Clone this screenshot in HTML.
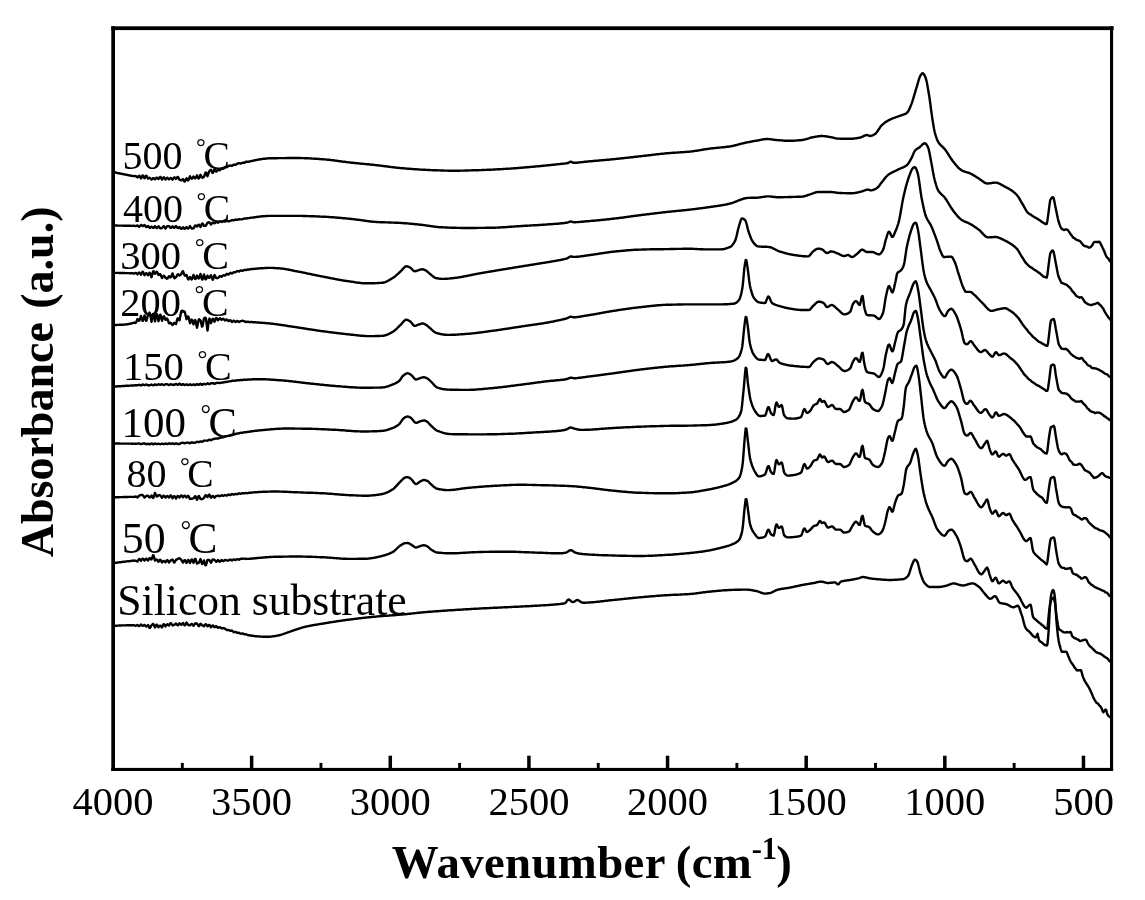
<!DOCTYPE html>
<html lang="en"><head><meta charset="utf-8"><title>FTIR absorbance spectra</title>
<style>
html,body{margin:0;padding:0;background:#fff;}
body{width:1145px;height:900px;overflow:hidden;}
svg{display:block;}
</style></head><body>
<svg width="1145" height="900" viewBox="0 0 1145 900">
<rect x="0" y="0" width="1145" height="900" fill="#fff"/>
<g fill="none" stroke="#000" stroke-width="2.4" stroke-linejoin="round" stroke-linecap="round">
<path d="M113.0 172.0 L113.5 172.1 L114.0 172.2 L114.5 172.3 L115.0 172.4 L115.5 172.5 L116.0 172.6 L116.5 172.8 L117.0 172.9 L117.5 173.0 L118.0 173.1 L118.5 173.2 L119.0 173.3 L119.5 173.4 L120.0 173.5 L120.5 173.6 L121.0 173.7 L121.5 173.8 L122.0 173.9 L122.5 174.0 L123.0 174.1 L123.5 174.2 L124.0 174.3 L124.5 174.4 L125.0 174.5 L125.5 174.6 L126.0 174.7 L126.5 174.8 L127.0 174.9 L127.5 175.0 L128.0 175.1 L128.5 175.2 L129.0 175.3 L129.5 175.4 L130.0 175.5 L130.5 175.6 L131.0 175.7 L131.5 175.8 L132.0 175.9 L132.5 176.0 L133.0 176.0 L133.5 176.1 L134.0 176.1 L134.5 176.1 L135.0 176.0 L135.5 176.0 L136.0 176.2 L136.5 176.6 L137.0 177.0 L137.5 177.5 L138.0 176.9 L138.5 176.3 L139.0 175.8 L139.5 175.9 L140.0 176.8 L140.5 177.6 L141.0 178.4 L141.5 177.4 L142.0 176.4 L142.5 175.4 L143.0 175.4 L143.5 176.4 L144.0 177.4 L144.5 178.3 L145.0 177.5 L145.5 176.6 L146.0 175.8 L146.5 175.8 L147.0 176.8 L147.5 177.7 L148.0 178.6 L148.5 178.3 L149.0 178.1 L149.5 177.8 L150.0 177.9 L150.5 178.5 L151.0 179.0 L151.5 179.6 L152.0 179.1 L152.5 178.7 L153.0 178.2 L153.5 178.2 L154.0 178.6 L154.5 178.9 L155.0 179.3 L155.5 178.8 L156.0 178.2 L156.5 177.7 L157.0 177.7 L157.5 178.2 L158.0 178.7 L158.5 179.1 L159.0 178.4 L159.5 177.6 L160.0 176.9 L160.5 177.0 L161.0 177.8 L161.5 178.7 L162.0 179.6 L162.5 178.8 L163.0 178.1 L163.5 177.4 L164.0 177.3 L164.5 178.1 L165.0 178.8 L165.5 179.5 L166.0 178.9 L166.5 178.4 L167.0 177.8 L167.5 177.8 L168.0 178.4 L168.5 179.0 L169.0 179.5 L169.5 179.0 L170.0 178.5 L170.5 178.0 L171.0 178.1 L171.5 178.6 L172.0 179.2 L172.5 179.7 L173.0 179.0 L173.5 178.2 L174.0 177.5 L174.5 177.3 L175.0 177.8 L175.5 178.3 L176.0 178.9 L176.5 178.2 L177.0 177.5 L177.5 176.9 L178.0 177.0 L178.5 177.9 L179.0 178.8 L179.5 179.7 L180.0 180.0 L180.5 180.2 L181.0 180.4 L181.5 180.3 L182.0 179.9 L182.5 179.6 L183.0 179.1 L183.5 180.0 L184.0 180.8 L184.5 181.5 L185.0 181.4 L185.5 180.4 L186.0 179.3 L186.5 178.3 L187.0 179.0 L187.5 179.7 L188.0 180.4 L188.5 180.0 L189.0 178.7 L189.5 177.5 L190.0 176.3 L190.5 177.1 L191.0 177.8 L191.5 178.6 L192.0 178.7 L192.5 177.9 L193.0 177.2 L193.5 176.4 L194.0 177.1 L194.5 177.8 L195.0 178.4 L195.5 178.3 L196.0 177.3 L196.5 176.3 L197.0 175.3 L197.5 176.4 L198.0 177.4 L198.5 178.5 L199.0 178.4 L199.5 177.2 L200.0 176.0 L200.5 174.8 L201.0 175.7 L201.5 176.6 L202.0 177.5 L202.5 177.8 L203.0 177.5 L203.5 177.1 L204.0 176.8 L204.5 175.4 L205.0 174.0 L205.5 172.6 L206.0 172.5 L206.5 173.8 L207.0 175.0 L207.5 176.2 L208.0 174.7 L208.5 173.3 L209.0 171.8 L209.5 170.9 L210.0 170.5 L210.5 170.1 L211.0 169.8 L211.5 170.8 L212.0 171.9 L212.5 172.9 L213.0 172.8 L213.5 171.6 L214.0 170.3 L214.5 169.1 L215.0 169.9 L215.5 170.7 L216.0 171.5 L216.5 171.6 L217.0 170.9 L217.5 170.2 L218.0 169.5 L218.5 169.8 L219.0 170.1 L219.5 170.4 L220.0 170.2 L220.5 169.7 L221.0 169.1 L221.5 168.5 L222.0 168.7 L222.5 168.8 L223.0 168.9 L223.5 168.7 L224.0 168.2 L224.5 167.7 L225.0 167.2 L225.5 167.2 L226.0 167.2 L226.5 167.2 L227.0 167.1 L227.5 166.7 L228.0 166.3 L228.5 165.9 L229.0 165.8 L229.5 165.7 L230.0 165.5 L230.5 165.5 L231.0 165.6 L231.5 165.7 L232.0 165.8 L232.5 165.5 L233.0 165.1 L233.5 164.7 L234.0 164.6 L234.5 164.7 L235.0 164.8 L235.5 164.9 L236.0 164.5 L236.5 164.2 L237.0 163.9 L237.5 163.6 L238.0 163.4 L238.5 163.3 L239.0 163.1 L239.5 163.2 L240.0 163.4 L240.5 163.5 L241.0 163.5 L241.5 163.2 L242.0 163.0 L242.5 162.7 L243.0 162.8 L243.5 162.8 L244.0 162.8 L244.5 162.7 L245.0 162.4 L245.5 162.1 L246.0 161.7 L246.5 161.8 L247.0 161.8 L247.5 161.9 L248.0 161.9 L248.5 161.7 L249.0 161.6 L249.5 161.5 L250.0 161.4 L250.5 161.3 L251.0 161.2 L251.5 161.0 L252.0 160.9 L252.5 160.9 L253.0 160.8 L253.5 160.6 L254.0 160.5 L254.5 160.3 L255.0 160.2 L255.5 160.2 L256.0 160.1 L256.5 160.0 L257.0 159.9 L257.5 159.8 L258.0 159.7 L258.5 159.6 L259.0 159.5 L259.5 159.4 L260.0 159.4 L260.5 159.3 L261.0 159.2 L261.5 159.1 L262.0 159.0 L262.7 158.9 L263.4 158.8 L264.1 158.7 L264.8 158.7 L265.5 158.6 L266.2 158.5 L266.9 158.5 L267.6 158.4 L268.3 158.4 L269.0 158.3 L269.7 158.3 L270.4 158.3 L271.1 158.3 L271.8 158.3 L272.5 158.2 L273.2 158.2 L273.9 158.2 L274.6 158.2 L275.3 158.2 L276.0 158.2 L276.7 158.2 L277.4 158.2 L278.1 158.1 L278.8 158.1 L279.5 158.1 L280.2 158.1 L280.9 158.1 L281.6 158.1 L282.3 158.1 L283.0 158.1 L283.7 158.1 L284.4 158.1 L285.1 158.1 L285.8 158.1 L286.5 158.0 L287.2 158.0 L287.9 158.0 L288.6 158.0 L289.3 158.0 L290.0 158.0 L290.7 158.0 L291.4 158.0 L292.1 158.0 L292.8 158.0 L293.5 158.0 L294.2 158.0 L294.9 158.0 L295.6 158.0 L296.3 158.0 L297.0 158.0 L297.7 158.0 L298.4 158.0 L299.1 158.0 L299.8 158.0 L300.5 158.0 L301.2 158.1 L301.9 158.1 L302.6 158.1 L303.3 158.1 L304.0 158.1 L304.7 158.2 L305.4 158.2 L306.1 158.2 L306.8 158.3 L307.5 158.3 L308.2 158.3 L308.9 158.4 L309.6 158.4 L310.3 158.4 L311.0 158.5 L311.7 158.5 L312.4 158.6 L313.1 158.6 L313.8 158.6 L314.5 158.7 L315.2 158.7 L315.9 158.8 L316.6 158.8 L317.3 158.9 L318.0 158.9 L318.7 159.0 L319.4 159.0 L320.1 159.1 L320.8 159.1 L321.5 159.2 L322.2 159.2 L322.9 159.3 L323.6 159.3 L324.3 159.4 L325.0 159.4 L325.7 159.5 L326.4 159.6 L327.1 159.6 L327.8 159.7 L328.5 159.8 L329.2 159.8 L329.9 159.9 L330.6 160.0 L331.3 160.1 L332.0 160.2 L332.7 160.2 L333.4 160.3 L334.1 160.4 L334.8 160.5 L335.5 160.6 L336.2 160.7 L336.9 160.8 L337.6 160.9 L338.3 161.0 L339.0 161.1 L339.7 161.2 L340.4 161.3 L341.1 161.4 L341.8 161.5 L342.5 161.6 L343.2 161.7 L343.9 161.8 L344.6 161.8 L345.3 161.9 L346.0 162.0 L346.7 162.1 L347.4 162.2 L348.1 162.3 L348.8 162.4 L349.5 162.4 L350.2 162.5 L350.9 162.6 L351.6 162.7 L352.3 162.7 L353.0 162.8 L353.7 162.9 L354.4 163.0 L355.1 163.0 L355.8 163.1 L356.5 163.2 L357.2 163.2 L357.9 163.3 L358.6 163.4 L359.3 163.5 L360.0 163.5 L360.7 163.6 L361.4 163.7 L362.1 163.7 L362.8 163.8 L363.5 163.9 L364.2 163.9 L364.9 164.0 L365.6 164.1 L366.3 164.1 L367.0 164.2 L367.7 164.3 L368.4 164.3 L369.1 164.4 L369.8 164.5 L370.5 164.5 L371.2 164.6 L371.9 164.7 L372.6 164.8 L373.3 164.8 L374.0 164.9 L374.7 165.0 L375.4 165.1 L376.1 165.1 L376.8 165.2 L377.5 165.3 L378.2 165.4 L378.9 165.5 L379.6 165.5 L380.3 165.6 L381.0 165.7 L381.7 165.8 L382.4 165.9 L383.1 166.0 L383.8 166.1 L384.5 166.2 L385.2 166.2 L385.9 166.3 L386.6 166.4 L387.3 166.5 L388.0 166.6 L388.7 166.7 L389.4 166.8 L390.1 166.9 L390.8 167.0 L391.5 167.1 L392.2 167.1 L392.9 167.2 L393.6 167.3 L394.3 167.4 L395.0 167.5 L395.7 167.6 L396.4 167.6 L397.1 167.7 L397.8 167.8 L398.5 167.9 L399.2 167.9 L399.9 168.0 L400.6 168.1 L401.3 168.1 L402.0 168.2 L402.7 168.2 L403.4 168.3 L404.1 168.4 L404.8 168.4 L405.5 168.5 L406.2 168.5 L406.9 168.6 L407.6 168.7 L408.3 168.7 L409.0 168.8 L409.7 168.8 L410.4 168.9 L411.1 168.9 L411.8 169.0 L412.5 169.0 L413.2 169.1 L413.9 169.1 L414.6 169.2 L415.3 169.2 L416.0 169.3 L416.7 169.3 L417.4 169.4 L418.1 169.4 L418.8 169.5 L419.5 169.5 L420.2 169.6 L420.9 169.6 L421.6 169.6 L422.3 169.7 L423.0 169.7 L423.7 169.8 L424.4 169.8 L425.1 169.8 L425.8 169.9 L426.5 169.9 L427.2 169.9 L427.9 170.0 L428.6 170.0 L429.3 170.0 L430.0 170.0 L430.7 170.1 L431.4 170.1 L432.1 170.1 L432.8 170.2 L433.5 170.2 L434.2 170.2 L434.9 170.2 L435.6 170.3 L436.3 170.3 L437.0 170.3 L437.7 170.4 L438.4 170.4 L439.1 170.4 L439.8 170.4 L440.5 170.5 L441.2 170.5 L441.9 170.5 L442.6 170.5 L443.3 170.5 L444.0 170.6 L444.7 170.6 L445.4 170.6 L446.1 170.6 L446.8 170.6 L447.5 170.6 L448.2 170.7 L448.9 170.7 L449.6 170.7 L450.3 170.7 L451.0 170.7 L451.7 170.7 L452.4 170.7 L453.1 170.7 L453.8 170.7 L454.5 170.7 L455.2 170.7 L455.9 170.7 L456.6 170.7 L457.3 170.7 L458.0 170.7 L458.7 170.7 L459.4 170.7 L460.1 170.6 L460.8 170.6 L461.5 170.6 L462.2 170.6 L462.9 170.6 L463.6 170.6 L464.3 170.6 L465.0 170.5 L465.7 170.5 L466.4 170.5 L467.1 170.5 L467.8 170.5 L468.5 170.5 L469.2 170.4 L469.9 170.4 L470.6 170.4 L471.3 170.4 L472.0 170.3 L472.7 170.3 L473.4 170.3 L474.1 170.3 L474.8 170.3 L475.5 170.2 L476.2 170.2 L476.9 170.2 L477.6 170.2 L478.3 170.2 L479.0 170.1 L479.7 170.1 L480.4 170.1 L481.1 170.1 L481.8 170.0 L482.5 170.0 L483.2 170.0 L483.9 170.0 L484.6 169.9 L485.3 169.9 L486.0 169.9 L486.7 169.9 L487.4 169.8 L488.1 169.8 L488.8 169.8 L489.5 169.7 L490.2 169.7 L490.9 169.7 L491.6 169.6 L492.3 169.6 L493.0 169.6 L493.7 169.5 L494.4 169.5 L495.1 169.5 L495.8 169.4 L496.5 169.4 L497.2 169.3 L497.9 169.3 L498.6 169.3 L499.3 169.2 L500.0 169.2 L500.7 169.2 L501.4 169.1 L502.1 169.1 L502.8 169.0 L503.5 169.0 L504.2 168.9 L504.9 168.9 L505.6 168.9 L506.3 168.8 L507.0 168.8 L507.7 168.7 L508.4 168.7 L509.1 168.6 L509.8 168.6 L510.5 168.6 L511.2 168.5 L511.9 168.5 L512.6 168.4 L513.3 168.4 L514.0 168.3 L514.7 168.3 L515.4 168.2 L516.1 168.2 L516.8 168.1 L517.5 168.0 L518.2 168.0 L518.9 167.9 L519.6 167.9 L520.3 167.8 L521.0 167.8 L521.7 167.7 L522.4 167.6 L523.1 167.6 L523.8 167.5 L524.5 167.5 L525.2 167.4 L525.9 167.3 L526.6 167.3 L527.3 167.2 L528.0 167.2 L528.7 167.1 L529.4 167.0 L530.1 167.0 L530.8 166.9 L531.5 166.9 L532.2 166.8 L532.9 166.7 L533.6 166.7 L534.3 166.6 L535.0 166.5 L535.7 166.5 L536.4 166.4 L537.1 166.4 L537.8 166.3 L538.5 166.2 L539.2 166.2 L539.9 166.1 L540.6 166.0 L541.3 166.0 L542.0 165.9 L542.7 165.8 L543.4 165.8 L544.1 165.7 L544.8 165.6 L545.5 165.5 L546.2 165.5 L546.9 165.4 L547.6 165.3 L548.3 165.3 L549.0 165.2 L549.7 165.1 L550.4 165.0 L551.1 165.0 L551.8 164.9 L552.5 164.8 L553.2 164.8 L553.9 164.7 L554.6 164.6 L555.3 164.5 L556.0 164.4 L556.7 164.4 L557.4 164.3 L558.1 164.2 L558.8 164.1 L559.5 164.1 L560.2 164.0 L560.9 163.9 L561.6 163.8 L562.3 163.8 L563.0 163.7 L563.7 163.6 L564.4 163.6 L565.1 163.5 L565.8 163.4 L566.5 163.3 L567.2 163.2 L567.9 163.0 L568.6 162.8 L569.3 162.3 L570.0 161.9 L570.7 161.7 L571.4 161.9 L572.1 162.2 L572.8 162.6 L573.5 162.8 L574.2 162.8 L574.9 162.8 L575.6 162.7 L576.3 162.7 L577.0 162.7 L577.7 162.6 L578.4 162.5 L579.1 162.5 L579.8 162.4 L580.5 162.3 L581.2 162.2 L581.9 162.1 L582.6 162.1 L583.3 162.0 L584.0 161.9 L584.7 161.8 L585.4 161.7 L586.1 161.7 L586.8 161.6 L587.5 161.5 L588.2 161.5 L588.9 161.4 L589.6 161.3 L590.3 161.3 L591.0 161.2 L591.7 161.2 L592.4 161.1 L593.1 161.0 L593.8 161.0 L594.5 160.9 L595.2 160.8 L595.9 160.8 L596.6 160.7 L597.3 160.7 L598.0 160.6 L598.7 160.5 L599.4 160.5 L600.1 160.4 L600.8 160.4 L601.5 160.3 L602.2 160.2 L602.9 160.2 L603.6 160.1 L604.3 160.0 L605.0 160.0 L605.7 159.9 L606.4 159.9 L607.1 159.8 L607.8 159.7 L608.5 159.7 L609.2 159.6 L609.9 159.5 L610.6 159.5 L611.3 159.4 L612.0 159.3 L612.7 159.3 L613.4 159.2 L614.1 159.1 L614.8 159.1 L615.5 159.0 L616.2 158.9 L616.9 158.8 L617.6 158.8 L618.3 158.7 L619.0 158.6 L619.7 158.5 L620.4 158.5 L621.1 158.4 L621.8 158.3 L622.5 158.2 L623.2 158.2 L623.9 158.1 L624.6 158.0 L625.3 157.9 L626.0 157.9 L626.7 157.8 L627.4 157.7 L628.1 157.6 L628.8 157.6 L629.5 157.5 L630.2 157.4 L630.9 157.3 L631.6 157.2 L632.3 157.2 L633.0 157.1 L633.7 157.0 L634.4 156.9 L635.1 156.8 L635.8 156.8 L636.5 156.7 L637.2 156.6 L637.9 156.5 L638.6 156.5 L639.3 156.4 L640.0 156.3 L640.7 156.2 L641.4 156.1 L642.1 156.1 L642.8 156.0 L643.5 155.9 L644.2 155.8 L644.9 155.7 L645.6 155.7 L646.3 155.6 L647.0 155.5 L647.7 155.4 L648.4 155.3 L649.1 155.2 L649.8 155.2 L650.5 155.1 L651.2 155.0 L651.9 154.9 L652.6 154.8 L653.3 154.7 L654.0 154.6 L654.7 154.6 L655.4 154.5 L656.1 154.4 L656.8 154.3 L657.5 154.2 L658.2 154.2 L658.9 154.1 L659.6 154.0 L660.3 153.9 L661.0 153.9 L661.7 153.8 L662.4 153.7 L663.1 153.6 L663.8 153.6 L664.5 153.5 L665.2 153.4 L665.9 153.4 L666.6 153.3 L667.3 153.2 L668.0 153.2 L668.7 153.1 L669.4 153.1 L670.1 153.0 L670.8 153.0 L671.5 152.9 L672.2 152.9 L672.9 152.8 L673.6 152.8 L674.3 152.7 L675.0 152.7 L675.7 152.6 L676.4 152.6 L677.1 152.6 L677.8 152.5 L678.5 152.5 L679.2 152.4 L679.9 152.4 L680.6 152.3 L681.3 152.3 L682.0 152.2 L682.7 152.2 L683.4 152.1 L684.1 152.1 L684.8 152.0 L685.5 152.0 L686.2 151.9 L686.9 151.9 L687.6 151.8 L688.3 151.8 L689.0 151.7 L689.7 151.6 L690.4 151.6 L691.1 151.5 L691.8 151.4 L692.5 151.3 L693.2 151.2 L693.9 151.1 L694.6 151.0 L695.3 150.9 L696.0 150.8 L696.7 150.7 L697.4 150.6 L698.1 150.5 L698.8 150.4 L699.5 150.3 L700.2 150.1 L700.9 150.0 L701.6 149.9 L702.3 149.8 L703.0 149.7 L703.7 149.5 L704.4 149.4 L705.1 149.3 L705.8 149.2 L706.5 149.1 L707.2 149.0 L707.9 148.9 L708.6 148.8 L709.3 148.7 L710.0 148.6 L710.7 148.5 L711.4 148.4 L712.1 148.3 L712.8 148.3 L713.5 148.2 L714.2 148.1 L714.9 148.1 L715.6 148.0 L716.3 147.9 L717.0 147.8 L717.7 147.8 L718.4 147.7 L719.1 147.6 L719.8 147.6 L720.5 147.5 L721.2 147.4 L721.9 147.4 L722.6 147.3 L723.3 147.2 L724.0 147.2 L724.7 147.1 L725.4 147.0 L726.1 146.9 L726.8 146.8 L727.5 146.8 L728.2 146.7 L728.9 146.6 L729.6 146.5 L730.3 146.4 L731.0 146.2 L731.7 146.1 L732.4 146.0 L733.1 145.8 L733.8 145.7 L734.5 145.5 L735.2 145.3 L735.9 145.2 L736.6 145.0 L737.3 144.8 L738.0 144.6 L738.7 144.4 L739.4 144.2 L740.1 144.0 L740.8 143.9 L741.5 143.7 L742.2 143.5 L742.9 143.3 L743.6 143.1 L744.3 143.0 L745.0 142.8 L745.7 142.7 L746.4 142.5 L747.1 142.4 L747.8 142.2 L748.5 142.1 L749.2 142.0 L749.9 141.8 L750.6 141.7 L751.3 141.6 L752.0 141.4 L752.7 141.3 L753.4 141.2 L754.1 141.1 L754.8 140.9 L755.5 140.8 L756.2 140.7 L756.9 140.6 L757.6 140.5 L758.3 140.3 L759.0 140.2 L759.7 140.1 L760.4 139.9 L761.1 139.8 L761.8 139.6 L762.5 139.5 L763.2 139.4 L763.9 139.3 L764.6 139.2 L765.3 139.1 L766.0 139.0 L766.7 139.0 L767.4 139.0 L768.1 139.0 L768.8 139.1 L769.5 139.1 L770.2 139.2 L770.9 139.3 L771.6 139.4 L772.3 139.5 L773.0 139.6 L773.7 139.7 L774.4 139.8 L775.1 139.9 L775.8 140.0 L776.5 140.0 L777.2 140.1 L777.9 140.1 L778.6 140.2 L779.3 140.3 L780.0 140.3 L780.7 140.4 L781.4 140.4 L782.1 140.5 L782.8 140.5 L783.5 140.6 L784.2 140.6 L784.9 140.7 L785.6 140.7 L786.3 140.7 L787.0 140.7 L787.7 140.8 L788.4 140.8 L789.1 140.8 L789.8 140.8 L790.5 140.8 L791.2 140.8 L791.9 140.8 L792.6 140.8 L793.3 140.7 L794.0 140.7 L794.7 140.6 L795.4 140.6 L796.1 140.6 L796.8 140.5 L797.5 140.4 L798.2 140.4 L798.9 140.3 L799.6 140.2 L800.3 140.2 L801.0 140.1 L801.7 140.0 L802.4 140.0 L803.1 139.8 L803.8 139.7 L804.5 139.6 L805.2 139.4 L805.9 139.2 L806.6 139.0 L807.3 138.8 L808.0 138.6 L808.7 138.4 L809.4 138.2 L810.1 137.9 L810.8 137.7 L811.5 137.5 L812.2 137.4 L812.9 137.2 L813.6 137.1 L814.3 137.0 L815.0 136.8 L815.7 136.7 L816.4 136.6 L817.1 136.5 L817.8 136.4 L818.5 136.3 L819.2 136.2 L819.9 136.1 L820.6 136.0 L821.3 136.0 L822.0 136.0 L822.7 136.0 L823.4 136.1 L824.1 136.1 L824.8 136.2 L825.5 136.3 L826.2 136.4 L826.9 136.5 L827.6 136.6 L828.3 136.7 L829.0 136.8 L829.7 137.0 L830.4 137.1 L831.1 137.2 L831.8 137.4 L832.5 137.5 L833.2 137.7 L833.9 137.9 L834.6 138.1 L835.3 138.2 L836.0 138.4 L836.7 138.5 L837.4 138.6 L838.1 138.6 L838.8 138.6 L839.5 138.6 L840.2 138.7 L840.9 138.7 L841.6 138.7 L842.3 138.7 L843.0 138.7 L843.7 138.7 L844.4 138.8 L845.1 138.8 L845.8 138.8 L846.5 138.8 L847.2 138.8 L847.9 138.8 L848.6 138.8 L849.3 138.8 L850.0 138.8 L850.7 138.8 L851.4 138.8 L852.1 138.7 L852.8 138.7 L853.5 138.6 L854.2 138.5 L854.9 138.4 L855.6 138.4 L856.3 138.2 L857.0 138.1 L857.7 138.0 L858.4 137.9 L859.1 137.8 L859.8 137.6 L860.5 137.5 L861.2 137.2 L861.9 136.9 L862.6 136.6 L863.3 136.2 L864.0 135.9 L864.7 135.6 L865.4 135.3 L866.1 135.1 L866.8 135.0 L867.5 135.1 L868.2 135.4 L868.9 135.7 L869.6 136.0 L870.3 136.0 L871.0 135.9 L871.7 135.7 L872.4 135.4 L873.1 135.1 L873.8 134.7 L874.5 134.3 L875.2 133.9 L875.9 133.3 L876.6 132.5 L877.3 131.6 L878.0 130.5 L878.7 129.4 L879.4 128.4 L880.1 127.3 L880.8 126.3 L881.5 125.5 L882.2 124.8 L882.9 124.2 L883.6 123.7 L884.3 123.1 L885.0 122.6 L885.7 122.1 L886.4 121.6 L887.1 121.2 L887.8 120.8 L888.5 120.4 L889.2 120.0 L889.9 119.6 L890.6 119.3 L891.3 119.0 L892.0 118.7 L892.7 118.4 L893.4 118.1 L894.1 117.9 L894.8 117.6 L895.5 117.3 L896.2 117.1 L896.9 116.9 L897.6 116.6 L898.3 116.4 L899.0 116.1 L899.7 115.9 L900.4 115.6 L901.1 115.3 L901.8 115.1 L902.5 114.8 L903.2 114.6 L903.9 114.4 L904.6 114.1 L905.3 113.8 L906.0 113.5 L906.7 113.0 L907.4 112.4 L908.1 111.5 L908.8 110.2 L909.5 108.7 L910.2 107.0 L910.9 105.4 L911.6 103.6 L912.3 101.6 L913.0 99.4 L913.7 97.1 L914.4 94.7 L915.1 92.3 L915.8 89.9 L916.5 87.7 L917.2 85.3 L917.9 82.9 L918.6 80.4 L919.3 78.2 L920.0 76.4 L920.7 75.2 L921.4 74.2 L922.1 73.4 L922.8 73.2 L923.5 73.7 L924.2 74.7 L924.9 76.1 L925.6 77.7 L926.3 80.1 L927.0 83.3 L927.7 87.1 L928.4 91.2 L929.1 95.4 L929.8 100.0 L930.5 105.2 L931.2 110.5 L931.9 115.6 L932.6 120.2 L933.3 124.6 L934.0 128.7 L934.7 132.0 L935.4 134.6 L936.1 136.9 L936.8 138.9 L937.5 140.6 L938.2 141.9 L938.9 143.0 L939.6 143.9 L940.3 144.7 L941.0 145.4 L941.7 146.1 L942.4 146.7 L943.1 147.4 L943.8 148.1 L944.5 148.8 L945.2 149.7 L945.9 150.6 L946.6 151.7 L947.3 152.7 L948.0 153.8 L948.7 154.9 L949.4 156.1 L950.1 157.2 L950.8 158.3 L951.5 159.3 L952.2 160.3 L952.9 161.3 L953.6 162.1 L954.3 163.0 L955.0 163.8 L955.7 164.7 L956.4 165.5 L957.1 166.3 L957.8 167.1 L958.5 167.8 L959.2 168.5 L959.9 169.1 L960.6 169.6 L961.3 170.1 L962.0 170.5 L962.7 170.8 L963.4 171.1 L964.1 171.4 L964.8 171.7 L965.5 171.9 L966.2 172.1 L966.9 172.3 L967.6 172.5 L968.3 172.7 L969.0 173.0 L969.7 173.2 L970.4 173.5 L971.1 173.9 L971.8 174.2 L972.5 174.6 L973.2 175.0 L973.9 175.4 L974.6 175.9 L975.3 176.3 L976.0 176.7 L976.7 177.2 L977.4 177.6 L978.1 178.0 L978.8 178.5 L979.5 178.9 L980.2 179.4 L980.9 180.0 L981.6 180.5 L982.3 181.1 L983.0 181.6 L983.7 182.1 L984.4 182.6 L985.1 183.0 L985.8 183.2 L986.5 183.4 L987.2 183.5 L987.9 183.5 L988.6 183.4 L989.3 183.4 L990.0 183.3 L990.7 183.2 L991.4 183.1 L992.1 182.9 L992.8 182.8 L993.5 182.7 L994.2 182.7 L994.9 182.6 L995.6 182.6 L996.3 182.6 L997.0 182.8 L997.7 183.0 L998.4 183.2 L999.1 183.5 L999.8 183.9 L1000.5 184.2 L1001.2 184.6 L1001.9 185.0 L1002.6 185.4 L1003.3 185.8 L1004.0 186.2 L1004.7 186.6 L1005.4 186.9 L1006.1 187.3 L1006.8 187.6 L1007.5 188.0 L1008.2 188.4 L1008.9 188.8 L1009.6 189.2 L1010.3 189.6 L1011.0 190.0 L1011.7 190.5 L1012.4 191.0 L1013.1 191.6 L1013.8 192.2 L1014.5 192.6 L1015.2 193.3 L1015.9 194.0 L1016.6 194.7 L1017.3 195.5 L1018.0 196.4 L1018.7 197.4 L1019.4 198.6 L1020.1 199.9 L1020.8 201.2 L1021.5 202.4 L1022.2 203.5 L1022.9 204.6 L1023.6 205.9 L1024.3 207.2 L1025.0 208.4 L1025.7 209.7 L1026.4 210.9 L1027.1 211.9 L1027.8 212.7 L1028.5 213.3 L1029.2 213.8 L1029.9 214.2 L1030.6 214.6 L1031.3 215.1 L1032.0 215.6 L1032.7 216.0 L1033.4 216.5 L1034.1 217.0 L1034.8 217.3 L1035.5 217.7 L1036.2 218.1 L1036.9 218.5 L1037.6 218.9 L1038.3 219.4 L1039.0 219.8 L1039.7 220.2 L1040.4 220.8 L1041.1 221.3 L1041.8 221.9 L1042.5 222.3 L1043.2 222.7 L1043.9 223.1 L1044.6 223.5 L1045.3 223.9 L1046.0 224.2 L1046.7 223.9 L1047.4 220.7 L1048.1 215.6 L1048.8 210.4 L1049.5 204.9 L1050.2 200.2 L1050.9 199.0 L1051.6 198.1 L1052.3 197.3 L1053.0 197.1 L1053.7 198.3 L1054.4 201.5 L1055.1 205.3 L1055.8 208.6 L1056.5 211.9 L1057.2 215.4 L1057.9 218.8 L1058.6 221.5 L1059.3 223.6 L1060.0 225.6 L1060.7 227.3 L1061.4 228.4 L1062.1 229.1 L1062.8 229.4 L1063.5 229.8 L1064.2 230.0 L1064.9 229.7 L1065.6 229.5 L1066.3 229.4 L1067.0 229.6 L1067.7 230.0 L1068.4 230.8 L1069.1 231.9 L1069.8 232.9 L1070.5 234.0 L1071.2 234.9 L1071.9 235.7 L1072.6 236.8 L1073.3 237.7 L1074.0 238.0 L1074.7 238.4 L1075.4 239.1 L1076.1 239.6 L1076.8 239.9 L1077.5 240.2 L1078.2 240.5 L1078.9 240.7 L1079.6 240.8 L1080.3 241.4 L1081.0 242.4 L1081.7 243.2 L1082.4 244.0 L1083.1 244.9 L1083.8 245.6 L1084.5 246.0 L1085.2 246.2 L1085.9 246.3 L1086.6 246.5 L1087.3 246.7 L1088.0 247.1 L1088.7 247.6 L1089.4 247.6 L1090.1 247.3 L1090.8 246.9 L1091.5 246.1 L1092.2 245.3 L1092.9 244.2 L1093.6 242.8 L1094.3 242.0 L1095.0 241.9 L1095.7 241.9 L1096.4 242.0 L1097.1 242.0 L1097.8 242.0 L1098.5 241.8 L1099.2 241.7 L1099.9 242.4 L1100.6 243.7 L1101.3 245.1 L1102.0 246.6 L1102.7 248.1 L1103.4 249.4 L1104.1 250.9 L1104.8 252.7 L1105.5 254.5 L1106.2 256.0 L1106.9 257.3 L1107.6 257.9 L1108.3 258.4 L1109.0 259.8 L1109.7 260.9 L1110.4 261.4 L1111.0 261.7"/>
<path d="M113.0 225.5 L113.5 225.5 L114.0 225.5 L114.5 225.5 L115.0 225.5 L115.5 225.5 L116.0 225.5 L116.5 225.5 L117.0 225.5 L117.5 225.6 L118.0 225.6 L118.5 225.6 L119.0 225.6 L119.5 225.6 L120.0 225.6 L120.5 225.6 L121.0 225.6 L121.5 225.6 L122.0 225.6 L122.5 225.6 L123.0 225.6 L123.5 225.7 L124.0 225.7 L124.5 225.7 L125.0 225.7 L125.5 225.7 L126.0 225.7 L126.5 225.7 L127.0 225.7 L127.5 225.7 L128.0 225.8 L128.5 225.8 L129.0 225.8 L129.5 225.8 L130.0 225.8 L130.5 225.8 L131.0 225.8 L131.5 225.9 L132.0 225.9 L132.5 225.9 L133.0 225.8 L133.5 225.8 L134.0 225.8 L134.5 225.9 L135.0 226.0 L135.5 226.1 L136.0 226.0 L136.5 225.8 L137.0 225.6 L137.5 225.4 L138.0 225.9 L138.5 226.3 L139.0 226.7 L139.5 226.6 L140.0 226.0 L140.5 225.5 L141.0 224.9 L141.5 225.2 L142.0 225.6 L142.5 225.9 L143.0 226.0 L143.5 225.7 L144.0 225.4 L144.5 225.1 L145.0 225.7 L145.5 226.2 L146.0 226.8 L146.5 227.0 L147.0 226.6 L147.5 226.3 L148.0 225.9 L148.5 226.5 L149.0 227.1 L149.5 227.7 L150.0 227.8 L150.5 227.4 L151.0 227.0 L151.5 226.6 L152.0 227.0 L152.5 227.4 L153.0 227.9 L153.5 227.8 L154.0 227.3 L154.5 226.7 L155.0 226.2 L155.5 226.8 L156.0 227.4 L156.5 228.0 L157.0 228.1 L157.5 227.4 L158.0 226.8 L158.5 226.2 L159.0 226.8 L159.5 227.5 L160.0 228.1 L160.5 228.3 L161.0 228.2 L161.5 228.1 L162.0 228.0 L162.5 227.4 L163.0 226.9 L163.5 226.3 L164.0 226.3 L164.5 227.0 L165.0 227.8 L165.5 228.5 L166.0 227.8 L166.5 227.1 L167.0 226.4 L167.5 226.1 L168.0 226.1 L168.5 226.1 L169.0 226.1 L169.5 226.7 L170.0 227.3 L170.5 227.8 L171.0 227.9 L171.5 227.3 L172.0 226.8 L172.5 226.3 L173.0 226.8 L173.5 227.3 L174.0 227.8 L174.5 227.7 L175.0 227.2 L175.5 226.6 L176.0 226.1 L176.5 226.7 L177.0 227.3 L177.5 227.9 L178.0 228.1 L178.5 227.7 L179.0 227.3 L179.5 226.9 L180.0 227.6 L180.5 228.2 L181.0 228.9 L181.5 228.9 L182.0 228.4 L182.5 227.8 L183.0 227.2 L183.5 227.7 L184.0 228.3 L184.5 228.8 L185.0 228.8 L185.5 228.2 L186.0 227.6 L186.5 227.1 L187.0 227.6 L187.5 228.1 L188.0 228.6 L188.5 228.4 L189.0 227.6 L189.5 226.9 L190.0 226.1 L190.5 226.9 L191.0 227.6 L191.5 228.3 L192.0 228.6 L192.5 228.5 L193.0 228.4 L193.5 228.3 L194.0 227.4 L194.5 226.5 L195.0 225.6 L195.5 225.4 L196.0 225.8 L196.5 226.2 L197.0 226.6 L197.5 225.9 L198.0 225.3 L198.5 224.7 L199.0 224.7 L199.5 225.5 L200.0 226.3 L200.5 227.0 L201.0 225.9 L201.5 224.8 L202.0 223.6 L202.5 223.5 L203.0 224.2 L203.5 225.0 L204.0 225.8 L204.5 225.8 L205.0 225.9 L205.5 225.9 L206.0 225.5 L206.5 224.5 L207.0 223.6 L207.5 222.7 L208.0 222.6 L208.5 222.4 L209.0 222.3 L209.5 222.6 L210.0 223.2 L210.5 223.9 L211.0 224.5 L211.5 223.9 L212.0 223.3 L212.5 222.7 L213.0 222.5 L213.5 222.8 L214.0 223.1 L214.5 223.3 L215.0 222.9 L215.5 222.4 L216.0 222.0 L216.5 221.9 L217.0 222.1 L217.5 222.4 L218.0 222.7 L218.5 222.3 L219.0 221.9 L219.5 221.5 L220.0 221.4 L220.5 221.6 L221.0 221.8 L221.5 222.0 L222.0 221.8 L222.5 221.6 L223.0 221.3 L223.5 221.3 L224.0 221.4 L224.5 221.5 L225.0 221.6 L225.5 221.4 L226.0 221.1 L226.5 220.9 L227.0 220.8 L227.5 221.0 L228.0 221.1 L228.5 221.3 L229.0 221.2 L229.5 221.1 L230.0 221.0 L230.5 220.8 L231.0 220.5 L231.5 220.3 L232.0 220.0 L232.5 220.1 L233.0 220.2 L233.5 220.3 L234.0 220.3 L234.5 220.0 L235.0 219.8 L235.5 219.5 L236.0 219.6 L236.5 219.8 L237.0 219.9 L237.5 219.9 L238.0 219.7 L238.5 219.4 L239.0 219.2 L239.5 219.3 L240.0 219.4 L240.5 219.4 L241.0 219.4 L241.5 219.4 L242.0 219.3 L242.5 219.2 L243.0 219.0 L243.5 218.8 L244.0 218.6 L244.5 218.5 L245.0 218.5 L245.5 218.6 L246.0 218.6 L246.5 218.4 L247.0 218.3 L247.5 218.2 L248.0 218.1 L248.5 218.1 L249.0 218.1 L249.5 218.0 L250.0 217.9 L250.5 217.8 L251.0 217.7 L251.5 217.6 L252.0 217.6 L252.5 217.6 L253.0 217.6 L253.5 217.5 L254.0 217.4 L254.5 217.3 L255.0 217.2 L255.5 217.1 L256.0 217.1 L256.5 217.0 L257.0 217.0 L257.5 216.9 L258.0 216.8 L258.5 216.7 L259.0 216.7 L259.5 216.6 L260.0 216.6 L260.5 216.5 L261.0 216.4 L261.5 216.4 L262.0 216.3 L262.7 216.3 L263.4 216.2 L264.1 216.2 L264.8 216.1 L265.5 216.1 L266.2 216.0 L266.9 216.0 L267.6 215.9 L268.3 215.9 L269.0 215.9 L269.7 215.9 L270.4 215.9 L271.1 215.9 L271.8 215.9 L272.5 215.9 L273.2 215.9 L273.9 215.9 L274.6 215.9 L275.3 215.9 L276.0 215.9 L276.7 215.9 L277.4 215.9 L278.1 215.9 L278.8 215.9 L279.5 215.9 L280.2 215.9 L280.9 215.9 L281.6 215.9 L282.3 215.9 L283.0 215.9 L283.7 215.9 L284.4 215.9 L285.1 215.9 L285.8 215.9 L286.5 215.9 L287.2 215.9 L287.9 215.9 L288.6 215.9 L289.3 215.9 L290.0 215.9 L290.7 215.9 L291.4 215.9 L292.1 215.9 L292.8 215.9 L293.5 215.9 L294.2 215.9 L294.9 215.9 L295.6 215.9 L296.3 215.9 L297.0 215.9 L297.7 215.9 L298.4 215.9 L299.1 215.9 L299.8 215.9 L300.5 215.9 L301.2 215.9 L301.9 215.9 L302.6 216.0 L303.3 216.0 L304.0 216.0 L304.7 216.0 L305.4 216.0 L306.1 216.0 L306.8 216.1 L307.5 216.1 L308.2 216.1 L308.9 216.1 L309.6 216.1 L310.3 216.2 L311.0 216.2 L311.7 216.2 L312.4 216.2 L313.1 216.3 L313.8 216.3 L314.5 216.3 L315.2 216.4 L315.9 216.4 L316.6 216.4 L317.3 216.4 L318.0 216.5 L318.7 216.5 L319.4 216.5 L320.1 216.6 L320.8 216.6 L321.5 216.6 L322.2 216.7 L322.9 216.7 L323.6 216.7 L324.3 216.7 L325.0 216.8 L325.7 216.8 L326.4 216.9 L327.1 216.9 L327.8 216.9 L328.5 217.0 L329.2 217.0 L329.9 217.1 L330.6 217.1 L331.3 217.2 L332.0 217.2 L332.7 217.3 L333.4 217.3 L334.1 217.4 L334.8 217.4 L335.5 217.5 L336.2 217.5 L336.9 217.6 L337.6 217.7 L338.3 217.7 L339.0 217.8 L339.7 217.8 L340.4 217.9 L341.1 218.0 L341.8 218.0 L342.5 218.1 L343.2 218.2 L343.9 218.2 L344.6 218.3 L345.3 218.4 L346.0 218.4 L346.7 218.5 L347.4 218.6 L348.1 218.6 L348.8 218.7 L349.5 218.8 L350.2 218.8 L350.9 218.9 L351.6 219.0 L352.3 219.0 L353.0 219.1 L353.7 219.2 L354.4 219.3 L355.1 219.4 L355.8 219.5 L356.5 219.6 L357.2 219.7 L357.9 219.8 L358.6 219.8 L359.3 219.9 L360.0 220.0 L360.7 220.1 L361.4 220.2 L362.1 220.3 L362.8 220.4 L363.5 220.5 L364.2 220.6 L364.9 220.7 L365.6 220.8 L366.3 220.9 L367.0 221.0 L367.7 221.1 L368.4 221.2 L369.1 221.3 L369.8 221.4 L370.5 221.5 L371.2 221.5 L371.9 221.6 L372.6 221.7 L373.3 221.7 L374.0 221.8 L374.7 221.9 L375.4 221.9 L376.1 222.0 L376.8 222.0 L377.5 222.0 L378.2 222.1 L378.9 222.1 L379.6 222.1 L380.3 222.2 L381.0 222.2 L381.7 222.2 L382.4 222.3 L383.1 222.3 L383.8 222.3 L384.5 222.3 L385.2 222.4 L385.9 222.4 L386.6 222.4 L387.3 222.4 L388.0 222.4 L388.7 222.5 L389.4 222.5 L390.1 222.5 L390.8 222.5 L391.5 222.6 L392.2 222.6 L392.9 222.6 L393.6 222.6 L394.3 222.6 L395.0 222.7 L395.7 222.7 L396.4 222.7 L397.1 222.8 L397.8 222.8 L398.5 222.8 L399.2 222.9 L399.9 222.9 L400.6 222.9 L401.3 223.0 L402.0 223.0 L402.7 223.1 L403.4 223.1 L404.1 223.2 L404.8 223.2 L405.5 223.3 L406.2 223.3 L406.9 223.4 L407.6 223.4 L408.3 223.5 L409.0 223.6 L409.7 223.6 L410.4 223.7 L411.1 223.8 L411.8 223.8 L412.5 223.9 L413.2 224.0 L413.9 224.0 L414.6 224.1 L415.3 224.2 L416.0 224.2 L416.7 224.3 L417.4 224.4 L418.1 224.5 L418.8 224.5 L419.5 224.6 L420.2 224.7 L420.9 224.8 L421.6 224.8 L422.3 224.9 L423.0 225.0 L423.7 225.1 L424.4 225.2 L425.1 225.3 L425.8 225.4 L426.5 225.5 L427.2 225.6 L427.9 225.7 L428.6 225.8 L429.3 225.9 L430.0 226.0 L430.7 226.1 L431.4 226.2 L432.1 226.3 L432.8 226.4 L433.5 226.5 L434.2 226.6 L434.9 226.7 L435.6 226.8 L436.3 226.9 L437.0 227.0 L437.7 227.0 L438.4 227.1 L439.1 227.1 L439.8 227.2 L440.5 227.2 L441.2 227.3 L441.9 227.3 L442.6 227.3 L443.3 227.4 L444.0 227.4 L444.7 227.4 L445.4 227.5 L446.1 227.5 L446.8 227.5 L447.5 227.5 L448.2 227.6 L448.9 227.6 L449.6 227.6 L450.3 227.7 L451.0 227.7 L451.7 227.7 L452.4 227.7 L453.1 227.8 L453.8 227.8 L454.5 227.8 L455.2 227.8 L455.9 227.8 L456.6 227.9 L457.3 227.9 L458.0 227.9 L458.7 227.9 L459.4 227.9 L460.1 227.9 L460.8 228.0 L461.5 228.0 L462.2 228.0 L462.9 228.0 L463.6 228.0 L464.3 228.0 L465.0 228.0 L465.7 228.0 L466.4 228.0 L467.1 228.0 L467.8 228.0 L468.5 228.0 L469.2 228.0 L469.9 228.0 L470.6 228.0 L471.3 228.0 L472.0 228.0 L472.7 228.0 L473.4 228.0 L474.1 228.0 L474.8 228.0 L475.5 228.0 L476.2 228.0 L476.9 227.9 L477.6 227.9 L478.3 227.9 L479.0 227.9 L479.7 227.9 L480.4 227.9 L481.1 227.9 L481.8 227.9 L482.5 227.9 L483.2 227.9 L483.9 227.9 L484.6 227.9 L485.3 227.8 L486.0 227.8 L486.7 227.8 L487.4 227.8 L488.1 227.8 L488.8 227.8 L489.5 227.8 L490.2 227.8 L490.9 227.7 L491.6 227.7 L492.3 227.7 L493.0 227.7 L493.7 227.7 L494.4 227.7 L495.1 227.7 L495.8 227.6 L496.5 227.6 L497.2 227.6 L497.9 227.6 L498.6 227.5 L499.3 227.5 L500.0 227.5 L500.7 227.4 L501.4 227.4 L502.1 227.3 L502.8 227.3 L503.5 227.2 L504.2 227.2 L504.9 227.2 L505.6 227.1 L506.3 227.1 L507.0 227.0 L507.7 227.0 L508.4 226.9 L509.1 226.9 L509.8 226.8 L510.5 226.8 L511.2 226.7 L511.9 226.7 L512.6 226.6 L513.3 226.6 L514.0 226.5 L514.7 226.5 L515.4 226.4 L516.1 226.4 L516.8 226.3 L517.5 226.3 L518.2 226.2 L518.9 226.2 L519.6 226.1 L520.3 226.1 L521.0 226.0 L521.7 226.0 L522.4 226.0 L523.1 225.9 L523.8 225.9 L524.5 225.8 L525.2 225.8 L525.9 225.8 L526.6 225.7 L527.3 225.7 L528.0 225.6 L528.7 225.6 L529.4 225.6 L530.1 225.5 L530.8 225.5 L531.5 225.4 L532.2 225.4 L532.9 225.4 L533.6 225.3 L534.3 225.3 L535.0 225.3 L535.7 225.2 L536.4 225.2 L537.1 225.1 L537.8 225.1 L538.5 225.0 L539.2 225.0 L539.9 225.0 L540.6 224.9 L541.3 224.9 L542.0 224.8 L542.7 224.8 L543.4 224.7 L544.1 224.7 L544.8 224.6 L545.5 224.6 L546.2 224.5 L546.9 224.5 L547.6 224.4 L548.3 224.4 L549.0 224.3 L549.7 224.3 L550.4 224.2 L551.1 224.2 L551.8 224.1 L552.5 224.1 L553.2 224.0 L553.9 224.0 L554.6 223.9 L555.3 223.9 L556.0 223.8 L556.7 223.8 L557.4 223.7 L558.1 223.7 L558.8 223.6 L559.5 223.5 L560.2 223.5 L560.9 223.4 L561.6 223.3 L562.3 223.2 L563.0 223.2 L563.7 223.1 L564.4 223.0 L565.1 222.9 L565.8 222.8 L566.5 222.7 L567.2 222.6 L567.9 222.4 L568.6 222.1 L569.3 221.8 L570.0 221.6 L570.7 221.5 L571.4 221.6 L572.1 221.8 L572.8 222.0 L573.5 222.2 L574.2 222.2 L574.9 222.2 L575.6 222.2 L576.3 222.1 L577.0 222.1 L577.7 222.1 L578.4 222.0 L579.1 222.0 L579.8 221.9 L580.5 221.9 L581.2 221.8 L581.9 221.7 L582.6 221.7 L583.3 221.6 L584.0 221.5 L584.7 221.5 L585.4 221.4 L586.1 221.3 L586.8 221.3 L587.5 221.2 L588.2 221.2 L588.9 221.1 L589.6 221.1 L590.3 221.0 L591.0 220.9 L591.7 220.9 L592.4 220.8 L593.1 220.8 L593.8 220.7 L594.5 220.6 L595.2 220.6 L595.9 220.5 L596.6 220.4 L597.3 220.4 L598.0 220.3 L598.7 220.2 L599.4 220.2 L600.1 220.1 L600.8 220.0 L601.5 220.0 L602.2 219.9 L602.9 219.8 L603.6 219.7 L604.3 219.7 L605.0 219.6 L605.7 219.5 L606.4 219.5 L607.1 219.4 L607.8 219.3 L608.5 219.2 L609.2 219.2 L609.9 219.1 L610.6 219.0 L611.3 218.9 L612.0 218.8 L612.7 218.8 L613.4 218.7 L614.1 218.6 L614.8 218.5 L615.5 218.4 L616.2 218.4 L616.9 218.3 L617.6 218.2 L618.3 218.1 L619.0 218.0 L619.7 217.9 L620.4 217.8 L621.1 217.7 L621.8 217.7 L622.5 217.6 L623.2 217.5 L623.9 217.4 L624.6 217.3 L625.3 217.2 L626.0 217.1 L626.7 217.0 L627.4 216.9 L628.1 216.8 L628.8 216.7 L629.5 216.6 L630.2 216.5 L630.9 216.4 L631.6 216.3 L632.3 216.2 L633.0 216.1 L633.7 216.0 L634.4 215.9 L635.1 215.8 L635.8 215.7 L636.5 215.7 L637.2 215.6 L637.9 215.5 L638.6 215.4 L639.3 215.3 L640.0 215.2 L640.7 215.1 L641.4 215.0 L642.1 214.9 L642.8 214.8 L643.5 214.8 L644.2 214.7 L644.9 214.6 L645.6 214.5 L646.3 214.4 L647.0 214.3 L647.7 214.2 L648.4 214.2 L649.1 214.1 L649.8 214.0 L650.5 213.9 L651.2 213.8 L651.9 213.7 L652.6 213.6 L653.3 213.6 L654.0 213.5 L654.7 213.4 L655.4 213.3 L656.1 213.2 L656.8 213.1 L657.5 213.1 L658.2 213.0 L658.9 212.9 L659.6 212.8 L660.3 212.7 L661.0 212.6 L661.7 212.6 L662.4 212.5 L663.1 212.4 L663.8 212.3 L664.5 212.2 L665.2 212.2 L665.9 212.1 L666.6 212.0 L667.3 211.9 L668.0 211.9 L668.7 211.8 L669.4 211.7 L670.1 211.6 L670.8 211.6 L671.5 211.5 L672.2 211.4 L672.9 211.4 L673.6 211.3 L674.3 211.2 L675.0 211.1 L675.7 211.1 L676.4 211.0 L677.1 210.9 L677.8 210.9 L678.5 210.8 L679.2 210.7 L679.9 210.7 L680.6 210.6 L681.3 210.5 L682.0 210.5 L682.7 210.4 L683.4 210.3 L684.1 210.2 L684.8 210.2 L685.5 210.1 L686.2 210.0 L686.9 209.9 L687.6 209.9 L688.3 209.8 L689.0 209.7 L689.7 209.6 L690.4 209.6 L691.1 209.5 L691.8 209.4 L692.5 209.3 L693.2 209.2 L693.9 209.1 L694.6 209.1 L695.3 209.0 L696.0 208.9 L696.7 208.8 L697.4 208.7 L698.1 208.6 L698.8 208.5 L699.5 208.4 L700.2 208.4 L700.9 208.3 L701.6 208.2 L702.3 208.1 L703.0 208.0 L703.7 207.9 L704.4 207.8 L705.1 207.7 L705.8 207.6 L706.5 207.5 L707.2 207.4 L707.9 207.3 L708.6 207.2 L709.3 207.1 L710.0 207.0 L710.7 206.9 L711.4 206.8 L712.1 206.7 L712.8 206.6 L713.5 206.5 L714.2 206.4 L714.9 206.3 L715.6 206.2 L716.3 206.1 L717.0 206.0 L717.7 205.9 L718.4 205.8 L719.1 205.7 L719.8 205.6 L720.5 205.5 L721.2 205.3 L721.9 205.2 L722.6 205.1 L723.3 205.0 L724.0 204.9 L724.7 204.7 L725.4 204.6 L726.1 204.5 L726.8 204.3 L727.5 204.2 L728.2 204.0 L728.9 203.9 L729.6 203.7 L730.3 203.5 L731.0 203.3 L731.7 203.1 L732.4 202.9 L733.1 202.6 L733.8 202.4 L734.5 202.1 L735.2 201.8 L735.9 201.5 L736.6 201.3 L737.3 201.0 L738.0 200.7 L738.7 200.4 L739.4 200.2 L740.1 200.0 L740.8 199.7 L741.5 199.5 L742.2 199.2 L742.9 199.0 L743.6 198.7 L744.3 198.5 L745.0 198.3 L745.7 198.2 L746.4 198.1 L747.1 198.0 L747.8 197.9 L748.5 197.9 L749.2 197.9 L749.9 197.9 L750.6 197.8 L751.3 197.8 L752.0 197.8 L752.7 197.8 L753.4 197.8 L754.1 197.7 L754.8 197.7 L755.5 197.7 L756.2 197.7 L756.9 197.7 L757.6 197.6 L758.3 197.6 L759.0 197.5 L759.7 197.4 L760.4 197.3 L761.1 197.2 L761.8 197.1 L762.5 197.0 L763.2 196.9 L763.9 196.8 L764.6 196.7 L765.3 196.6 L766.0 196.5 L766.7 196.4 L767.4 196.4 L768.1 196.4 L768.8 196.4 L769.5 196.4 L770.2 196.5 L770.9 196.6 L771.6 196.6 L772.3 196.7 L773.0 196.8 L773.7 196.9 L774.4 197.0 L775.1 197.0 L775.8 197.1 L776.5 197.2 L777.2 197.2 L777.9 197.2 L778.6 197.2 L779.3 197.2 L780.0 197.2 L780.7 197.2 L781.4 197.2 L782.1 197.2 L782.8 197.2 L783.5 197.1 L784.2 197.1 L784.9 197.1 L785.6 197.1 L786.3 197.1 L787.0 197.1 L787.7 197.1 L788.4 197.0 L789.1 197.0 L789.8 197.0 L790.5 197.0 L791.2 197.0 L791.9 197.0 L792.6 196.9 L793.3 196.9 L794.0 196.9 L794.7 196.9 L795.4 196.9 L796.1 196.9 L796.8 196.8 L797.5 196.8 L798.2 196.8 L798.9 196.8 L799.6 196.7 L800.3 196.7 L801.0 196.7 L801.7 196.6 L802.4 196.6 L803.1 196.5 L803.8 196.3 L804.5 196.2 L805.2 196.0 L805.9 195.8 L806.6 195.5 L807.3 195.3 L808.0 195.0 L808.7 194.8 L809.4 194.6 L810.1 194.4 L810.8 194.1 L811.5 193.9 L812.2 193.6 L812.9 193.3 L813.6 193.1 L814.3 192.8 L815.0 192.6 L815.7 192.3 L816.4 192.2 L817.1 192.1 L817.8 192.0 L818.5 192.0 L819.2 192.0 L819.9 192.0 L820.6 192.0 L821.3 192.0 L822.0 192.0 L822.7 192.0 L823.4 192.0 L824.1 192.0 L824.8 192.0 L825.5 192.0 L826.2 192.0 L826.9 192.0 L827.6 192.0 L828.3 192.0 L829.0 192.0 L829.7 192.0 L830.4 192.0 L831.1 192.0 L831.8 192.1 L832.5 192.1 L833.2 192.2 L833.9 192.3 L834.6 192.4 L835.3 192.5 L836.0 192.6 L836.7 192.7 L837.4 192.8 L838.1 192.9 L838.8 192.9 L839.5 193.0 L840.2 193.0 L840.9 193.0 L841.6 193.0 L842.3 193.1 L843.0 193.1 L843.7 193.1 L844.4 193.1 L845.1 193.1 L845.8 193.1 L846.5 193.2 L847.2 193.2 L847.9 193.2 L848.6 193.2 L849.3 193.2 L850.0 193.2 L850.7 193.2 L851.4 193.2 L852.1 193.2 L852.8 193.2 L853.5 193.1 L854.2 193.1 L854.9 193.0 L855.6 192.9 L856.3 192.7 L857.0 192.6 L857.7 192.4 L858.4 192.3 L859.1 192.1 L859.8 191.9 L860.5 191.8 L861.2 191.6 L861.9 191.4 L862.6 191.2 L863.3 191.0 L864.0 190.7 L864.7 190.4 L865.4 190.2 L866.1 189.9 L866.8 189.7 L867.5 189.6 L868.2 189.6 L868.9 189.8 L869.6 190.0 L870.3 190.3 L871.0 190.4 L871.7 190.4 L872.4 190.2 L873.1 190.0 L873.8 189.7 L874.5 189.4 L875.2 189.1 L875.9 188.7 L876.6 188.2 L877.3 187.8 L878.0 187.2 L878.7 186.4 L879.4 185.5 L880.1 184.5 L880.8 183.6 L881.5 182.6 L882.2 181.8 L882.9 180.9 L883.6 180.0 L884.3 179.1 L885.0 178.2 L885.7 177.3 L886.4 176.5 L887.1 175.8 L887.8 175.2 L888.5 174.6 L889.2 174.1 L889.9 173.7 L890.6 173.3 L891.3 172.9 L892.0 172.5 L892.7 172.1 L893.4 171.8 L894.1 171.5 L894.8 171.1 L895.5 170.8 L896.2 170.5 L896.9 170.2 L897.6 169.8 L898.3 169.4 L899.0 169.1 L899.7 168.8 L900.4 168.5 L901.1 168.2 L901.8 167.9 L902.5 167.6 L903.2 167.3 L903.9 167.0 L904.6 166.6 L905.3 166.2 L906.0 165.8 L906.7 165.3 L907.4 164.6 L908.1 163.8 L908.8 162.8 L909.5 161.6 L910.2 160.4 L910.9 159.1 L911.6 157.9 L912.3 156.3 L913.0 154.7 L913.7 153.1 L914.4 151.6 L915.1 150.5 L915.8 149.8 L916.5 149.2 L917.2 148.7 L917.9 148.3 L918.6 147.9 L919.3 147.4 L920.0 146.9 L920.7 146.2 L921.4 145.6 L922.1 144.9 L922.8 144.2 L923.5 143.7 L924.2 143.4 L924.9 143.3 L925.6 143.6 L926.3 144.3 L927.0 145.4 L927.7 146.6 L928.4 148.2 L929.1 150.9 L929.8 154.4 L930.5 158.2 L931.2 161.9 L931.9 165.6 L932.6 169.6 L933.3 173.6 L934.0 177.1 L934.7 180.0 L935.4 182.6 L936.1 185.0 L936.8 187.2 L937.5 189.0 L938.2 190.4 L938.9 191.5 L939.6 192.4 L940.3 193.2 L941.0 193.9 L941.7 194.6 L942.4 195.2 L943.1 195.8 L943.8 196.5 L944.5 197.3 L945.2 198.2 L945.9 199.2 L946.6 200.2 L947.3 201.3 L948.0 202.5 L948.7 203.7 L949.4 204.8 L950.1 206.0 L950.8 207.2 L951.5 208.3 L952.2 209.3 L952.9 210.3 L953.6 211.3 L954.3 212.1 L955.0 213.0 L955.7 213.9 L956.4 214.7 L957.1 215.6 L957.8 216.4 L958.5 217.1 L959.2 217.8 L959.9 218.5 L960.6 219.1 L961.3 219.7 L962.0 220.1 L962.7 220.5 L963.4 220.9 L964.1 221.3 L964.8 221.6 L965.5 221.9 L966.2 222.2 L966.9 222.5 L967.6 222.7 L968.3 223.0 L969.0 223.3 L969.7 223.7 L970.4 224.1 L971.1 224.5 L971.8 224.9 L972.5 225.3 L973.2 225.7 L973.9 226.2 L974.6 226.7 L975.3 227.2 L976.0 227.6 L976.7 228.1 L977.4 228.7 L978.1 229.2 L978.8 229.7 L979.5 230.2 L980.2 230.9 L980.9 231.6 L981.6 232.4 L982.3 233.1 L983.0 233.9 L983.7 234.6 L984.4 235.3 L985.1 236.0 L985.8 236.5 L986.5 236.9 L987.2 237.2 L987.9 237.4 L988.6 237.4 L989.3 237.4 L990.0 237.3 L990.7 237.3 L991.4 237.2 L992.1 237.2 L992.8 237.1 L993.5 237.1 L994.2 237.0 L994.9 237.0 L995.6 237.0 L996.3 237.0 L997.0 237.1 L997.7 237.3 L998.4 237.5 L999.1 237.8 L999.8 238.1 L1000.5 238.4 L1001.2 238.7 L1001.9 239.1 L1002.6 239.4 L1003.3 239.7 L1004.0 240.1 L1004.7 240.4 L1005.4 240.8 L1006.1 241.1 L1006.8 241.5 L1007.5 241.9 L1008.2 242.3 L1008.9 242.7 L1009.6 243.1 L1010.3 243.5 L1011.0 244.0 L1011.7 244.4 L1012.4 244.9 L1013.1 245.5 L1013.8 246.1 L1014.5 246.6 L1015.2 247.2 L1015.9 247.8 L1016.6 248.5 L1017.3 249.3 L1018.0 250.2 L1018.7 251.4 L1019.4 252.5 L1020.1 253.8 L1020.8 255.0 L1021.5 256.2 L1022.2 257.2 L1022.9 258.3 L1023.6 259.4 L1024.3 260.6 L1025.0 261.8 L1025.7 262.7 L1026.4 263.4 L1027.1 264.2 L1027.8 264.8 L1028.5 265.5 L1029.2 266.2 L1029.9 266.7 L1030.6 267.2 L1031.3 267.5 L1032.0 268.0 L1032.7 268.5 L1033.4 269.1 L1034.1 269.6 L1034.8 270.0 L1035.5 270.4 L1036.2 270.8 L1036.9 271.2 L1037.6 271.9 L1038.3 272.4 L1039.0 272.7 L1039.7 273.2 L1040.4 273.9 L1041.1 274.5 L1041.8 275.0 L1042.5 275.8 L1043.2 276.6 L1043.9 276.7 L1044.6 276.7 L1045.3 277.1 L1046.0 277.5 L1046.7 277.6 L1047.4 274.9 L1048.1 269.2 L1048.8 263.6 L1049.5 258.1 L1050.2 253.5 L1050.9 252.3 L1051.6 251.3 L1052.3 250.5 L1053.0 250.6 L1053.7 252.3 L1054.4 255.5 L1055.1 259.5 L1055.8 263.2 L1056.5 266.7 L1057.2 270.6 L1057.9 274.1 L1058.6 276.7 L1059.3 278.4 L1060.0 279.8 L1060.7 281.3 L1061.4 282.7 L1062.1 283.1 L1062.8 283.2 L1063.5 283.5 L1064.2 283.8 L1064.9 284.1 L1065.6 284.4 L1066.3 284.6 L1067.0 285.0 L1067.7 285.8 L1068.4 286.4 L1069.1 286.9 L1069.8 287.6 L1070.5 288.3 L1071.2 289.4 L1071.9 290.5 L1072.6 291.4 L1073.3 292.2 L1074.0 292.9 L1074.7 293.7 L1075.4 294.8 L1076.1 295.7 L1076.8 296.2 L1077.5 296.6 L1078.2 296.8 L1078.9 297.3 L1079.6 297.7 L1080.3 297.4 L1081.0 297.1 L1081.7 297.4 L1082.4 298.2 L1083.1 299.2 L1083.8 300.4 L1084.5 301.6 L1085.2 302.4 L1085.9 302.8 L1086.6 303.3 L1087.3 303.9 L1088.0 304.2 L1088.7 304.4 L1089.4 304.7 L1090.1 304.9 L1090.8 305.1 L1091.5 305.1 L1092.2 304.7 L1092.9 304.4 L1093.6 304.4 L1094.3 304.2 L1095.0 303.9 L1095.7 303.6 L1096.4 303.4 L1097.1 303.1 L1097.8 302.7 L1098.5 303.2 L1099.2 304.2 L1099.9 304.7 L1100.6 305.4 L1101.3 306.2 L1102.0 307.0 L1102.7 307.9 L1103.4 309.0 L1104.1 310.4 L1104.8 311.8 L1105.5 313.0 L1106.2 314.1 L1106.9 315.1 L1107.6 316.2 L1108.3 317.3 L1109.0 318.0 L1109.7 318.7 L1110.4 319.7 L1111.0 320.4"/>
<path d="M113.0 272.9 L113.5 272.9 L114.0 272.9 L114.5 272.9 L115.0 272.9 L115.5 272.9 L116.0 272.9 L116.5 272.9 L117.0 272.9 L117.5 272.9 L118.0 272.9 L118.5 272.9 L119.0 272.9 L119.5 273.0 L120.0 273.0 L120.5 273.0 L121.0 273.0 L121.5 273.0 L122.0 273.0 L122.5 273.0 L123.0 273.0 L123.5 273.0 L124.0 273.0 L124.5 273.0 L125.0 273.1 L125.5 273.1 L126.0 273.1 L126.5 273.1 L127.0 273.1 L127.5 273.1 L128.0 273.1 L128.5 273.1 L129.0 273.1 L129.5 273.2 L130.0 273.2 L130.5 273.2 L131.0 273.2 L131.5 273.2 L132.0 273.2 L132.5 273.3 L133.0 273.4 L133.5 273.5 L134.0 273.6 L134.5 273.4 L135.0 273.1 L135.5 272.9 L136.0 272.9 L136.5 273.4 L137.0 273.8 L137.5 274.2 L138.0 273.6 L138.5 273.0 L139.0 272.5 L139.5 272.6 L140.0 273.3 L140.5 274.1 L141.0 274.8 L141.5 273.8 L142.0 272.8 L142.5 271.8 L143.0 271.9 L143.5 273.0 L144.0 274.1 L144.5 275.3 L145.0 274.6 L145.5 273.9 L146.0 273.2 L146.5 273.2 L147.0 273.9 L147.5 274.6 L148.0 275.3 L148.5 274.4 L149.0 273.6 L149.5 272.7 L150.0 273.0 L150.5 274.4 L151.0 275.9 L151.5 277.3 L152.0 275.4 L152.5 273.6 L153.0 271.7 L153.5 271.2 L154.0 272.1 L154.5 272.9 L155.0 273.8 L155.5 273.1 L156.0 272.4 L156.5 271.7 L157.0 271.9 L157.5 272.9 L158.0 273.9 L158.5 274.9 L159.0 274.6 L159.5 274.3 L160.0 274.0 L160.5 274.5 L161.0 275.7 L161.5 276.9 L162.0 278.1 L162.5 277.3 L163.0 276.6 L163.5 275.8 L164.0 275.8 L164.5 276.4 L165.0 277.0 L165.5 277.7 L166.0 278.0 L166.5 278.4 L167.0 278.7 L167.5 278.5 L168.0 277.8 L168.5 277.0 L169.0 276.3 L169.5 276.7 L170.0 277.0 L170.5 277.4 L171.0 277.0 L171.5 275.8 L172.0 274.6 L172.5 273.4 L173.0 274.8 L173.5 276.2 L174.0 277.6 L174.5 278.2 L175.0 277.8 L175.5 277.5 L176.0 277.2 L176.5 276.4 L177.0 275.5 L177.5 274.6 L178.0 274.3 L178.5 274.7 L179.0 275.1 L179.5 275.5 L180.0 275.2 L180.5 274.8 L181.0 274.3 L181.5 273.5 L182.0 272.6 L182.5 271.7 L183.0 271.2 L183.5 272.4 L184.0 273.8 L184.5 275.2 L185.0 275.8 L185.5 275.5 L186.0 275.2 L186.5 274.9 L187.0 276.4 L187.5 277.9 L188.0 279.2 L188.5 279.4 L189.0 278.5 L189.5 277.7 L190.0 276.9 L190.5 277.7 L191.0 278.5 L191.5 279.4 L192.0 279.1 L192.5 277.7 L193.0 276.4 L193.5 275.0 L194.0 276.3 L194.5 277.6 L195.0 278.9 L195.5 279.0 L196.0 277.8 L196.5 276.6 L197.0 275.5 L197.5 276.4 L198.0 277.4 L198.5 278.4 L199.0 278.1 L199.5 276.8 L200.0 275.4 L200.5 274.0 L201.0 275.8 L201.5 277.6 L202.0 279.4 L202.5 279.5 L203.0 277.8 L203.5 276.2 L204.0 274.5 L204.5 276.1 L205.0 277.7 L205.5 279.3 L206.0 279.4 L206.5 278.2 L207.0 276.9 L207.5 275.6 L208.0 276.4 L208.5 277.1 L209.0 277.8 L209.5 277.7 L210.0 276.9 L210.5 276.0 L211.0 275.2 L211.5 276.7 L212.0 278.2 L212.5 279.7 L213.0 279.6 L213.5 278.1 L214.0 276.6 L214.5 275.0 L215.0 275.9 L215.5 276.8 L216.0 277.7 L216.5 278.1 L217.0 278.1 L217.5 278.1 L218.0 278.1 L218.5 277.5 L219.0 276.9 L219.5 276.3 L220.0 276.1 L220.5 276.3 L221.0 276.5 L221.5 276.8 L222.0 276.4 L222.5 275.9 L223.0 275.5 L223.5 275.3 L224.0 275.4 L224.5 275.5 L225.0 275.6 L225.5 275.1 L226.0 274.5 L226.5 274.0 L227.0 273.9 L227.5 274.1 L228.0 274.4 L228.5 274.6 L229.0 274.1 L229.5 273.5 L230.0 273.0 L230.5 272.8 L231.0 273.1 L231.5 273.3 L232.0 273.6 L232.5 273.2 L233.0 272.8 L233.5 272.4 L234.0 272.2 L234.5 272.2 L235.0 272.3 L235.5 272.3 L236.0 271.9 L236.5 271.5 L237.0 271.1 L237.5 271.0 L238.0 271.2 L238.5 271.4 L239.0 271.6 L239.5 271.3 L240.0 270.9 L240.5 270.5 L241.0 270.4 L241.5 270.5 L242.0 270.7 L242.5 270.8 L243.0 270.6 L243.5 270.3 L244.0 270.0 L244.5 269.9 L245.0 270.0 L245.5 270.1 L246.0 270.1 L246.5 269.9 L247.0 269.7 L247.5 269.6 L248.0 269.5 L248.5 269.5 L249.0 269.5 L249.5 269.5 L250.0 269.4 L250.5 269.2 L251.0 269.1 L251.5 269.0 L252.0 269.0 L252.5 269.0 L253.0 269.0 L253.5 269.0 L254.0 268.9 L254.5 268.9 L255.0 268.8 L255.5 268.7 L256.0 268.7 L256.5 268.6 L257.0 268.6 L257.5 268.5 L258.0 268.5 L258.5 268.5 L259.0 268.4 L259.5 268.4 L260.0 268.4 L260.5 268.3 L261.0 268.3 L261.5 268.2 L262.0 268.2 L262.7 268.2 L263.4 268.1 L264.1 268.1 L264.8 268.0 L265.5 268.0 L266.2 268.0 L266.9 268.0 L267.6 267.9 L268.3 267.9 L269.0 267.9 L269.7 267.9 L270.4 267.9 L271.1 267.9 L271.8 267.9 L272.5 267.9 L273.2 268.0 L273.9 268.0 L274.6 268.0 L275.3 268.1 L276.0 268.1 L276.7 268.2 L277.4 268.2 L278.1 268.3 L278.8 268.3 L279.5 268.4 L280.2 268.4 L280.9 268.5 L281.6 268.5 L282.3 268.6 L283.0 268.7 L283.7 268.8 L284.4 268.9 L285.1 269.0 L285.8 269.1 L286.5 269.3 L287.2 269.4 L287.9 269.5 L288.6 269.7 L289.3 269.8 L290.0 269.9 L290.7 270.1 L291.4 270.2 L292.1 270.4 L292.8 270.5 L293.5 270.7 L294.2 270.8 L294.9 271.0 L295.6 271.1 L296.3 271.2 L297.0 271.4 L297.7 271.5 L298.4 271.6 L299.1 271.8 L299.8 271.9 L300.5 272.0 L301.2 272.2 L301.9 272.3 L302.6 272.4 L303.3 272.6 L304.0 272.7 L304.7 272.9 L305.4 273.0 L306.1 273.2 L306.8 273.3 L307.5 273.5 L308.2 273.6 L308.9 273.8 L309.6 273.9 L310.3 274.0 L311.0 274.2 L311.7 274.3 L312.4 274.5 L313.1 274.6 L313.8 274.8 L314.5 274.9 L315.2 275.1 L315.9 275.2 L316.6 275.4 L317.3 275.5 L318.0 275.7 L318.7 275.8 L319.4 275.9 L320.1 276.1 L320.8 276.2 L321.5 276.4 L322.2 276.5 L322.9 276.6 L323.6 276.8 L324.3 276.9 L325.0 277.0 L325.7 277.2 L326.4 277.3 L327.1 277.4 L327.8 277.6 L328.5 277.7 L329.2 277.8 L329.9 278.0 L330.6 278.1 L331.3 278.3 L332.0 278.4 L332.7 278.5 L333.4 278.7 L334.1 278.8 L334.8 278.9 L335.5 279.1 L336.2 279.2 L336.9 279.3 L337.6 279.5 L338.3 279.6 L339.0 279.7 L339.7 279.8 L340.4 280.0 L341.1 280.1 L341.8 280.2 L342.5 280.3 L343.2 280.5 L343.9 280.6 L344.6 280.7 L345.3 280.8 L346.0 280.9 L346.7 281.0 L347.4 281.1 L348.1 281.2 L348.8 281.3 L349.5 281.4 L350.2 281.5 L350.9 281.6 L351.6 281.7 L352.3 281.8 L353.0 281.9 L353.7 282.0 L354.4 282.1 L355.1 282.3 L355.8 282.4 L356.5 282.5 L357.2 282.6 L357.9 282.7 L358.6 282.8 L359.3 282.8 L360.0 282.9 L360.7 283.0 L361.4 283.1 L362.1 283.1 L362.8 283.2 L363.5 283.2 L364.2 283.3 L364.9 283.3 L365.6 283.3 L366.3 283.3 L367.0 283.3 L367.7 283.3 L368.4 283.3 L369.1 283.3 L369.8 283.3 L370.5 283.3 L371.2 283.2 L371.9 283.2 L372.6 283.2 L373.3 283.2 L374.0 283.2 L374.7 283.2 L375.4 283.1 L376.1 283.1 L376.8 283.1 L377.5 283.0 L378.2 283.0 L378.9 283.0 L379.6 282.9 L380.3 282.9 L381.0 282.9 L381.7 282.8 L382.4 282.8 L383.1 282.7 L383.8 282.5 L384.5 282.3 L385.2 282.1 L385.9 281.8 L386.6 281.5 L387.3 281.1 L388.0 280.8 L388.7 280.4 L389.4 280.0 L390.1 279.6 L390.8 279.1 L391.5 278.7 L392.2 278.3 L392.9 277.9 L393.6 277.4 L394.3 276.9 L395.0 276.4 L395.7 275.8 L396.4 275.2 L397.1 274.6 L397.8 273.9 L398.5 273.3 L399.2 272.6 L399.9 272.0 L400.6 271.4 L401.3 270.7 L402.0 270.0 L402.7 269.1 L403.4 268.3 L404.1 267.6 L404.8 266.9 L405.5 266.5 L406.2 266.3 L406.9 266.3 L407.6 266.5 L408.3 266.7 L409.0 267.0 L409.7 267.4 L410.4 267.7 L411.1 268.3 L411.8 269.0 L412.5 269.8 L413.2 270.5 L413.9 271.0 L414.6 271.2 L415.3 271.2 L416.0 271.0 L416.7 270.8 L417.4 270.5 L418.1 270.3 L418.8 270.1 L419.5 269.9 L420.2 269.7 L420.9 269.5 L421.6 269.4 L422.3 269.3 L423.0 269.3 L423.7 269.5 L424.4 269.8 L425.1 270.1 L425.8 270.5 L426.5 270.9 L427.2 271.5 L427.9 272.1 L428.6 272.7 L429.3 273.3 L430.0 273.9 L430.7 274.5 L431.4 275.1 L432.1 275.7 L432.8 276.3 L433.5 276.8 L434.2 277.3 L434.9 277.7 L435.6 278.0 L436.3 278.2 L437.0 278.3 L437.7 278.4 L438.4 278.5 L439.1 278.6 L439.8 278.7 L440.5 278.8 L441.2 278.9 L441.9 278.9 L442.6 278.9 L443.3 278.9 L444.0 278.9 L444.7 278.9 L445.4 278.8 L446.1 278.8 L446.8 278.7 L447.5 278.7 L448.2 278.6 L448.9 278.6 L449.6 278.5 L450.3 278.4 L451.0 278.3 L451.7 278.3 L452.4 278.2 L453.1 278.1 L453.8 278.0 L454.5 278.0 L455.2 277.9 L455.9 277.8 L456.6 277.7 L457.3 277.6 L458.0 277.5 L458.7 277.4 L459.4 277.3 L460.1 277.2 L460.8 277.1 L461.5 276.9 L462.2 276.8 L462.9 276.7 L463.6 276.5 L464.3 276.4 L465.0 276.3 L465.7 276.1 L466.4 276.0 L467.1 275.9 L467.8 275.7 L468.5 275.6 L469.2 275.4 L469.9 275.3 L470.6 275.1 L471.3 275.0 L472.0 274.8 L472.7 274.7 L473.4 274.6 L474.1 274.4 L474.8 274.3 L475.5 274.1 L476.2 274.0 L476.9 273.9 L477.6 273.7 L478.3 273.6 L479.0 273.5 L479.7 273.4 L480.4 273.2 L481.1 273.1 L481.8 273.0 L482.5 272.9 L483.2 272.7 L483.9 272.6 L484.6 272.5 L485.3 272.4 L486.0 272.3 L486.7 272.1 L487.4 272.0 L488.1 271.9 L488.8 271.8 L489.5 271.7 L490.2 271.6 L490.9 271.4 L491.6 271.3 L492.3 271.2 L493.0 271.1 L493.7 271.0 L494.4 270.8 L495.1 270.7 L495.8 270.6 L496.5 270.5 L497.2 270.4 L497.9 270.3 L498.6 270.1 L499.3 270.0 L500.0 269.9 L500.7 269.8 L501.4 269.7 L502.1 269.6 L502.8 269.4 L503.5 269.3 L504.2 269.2 L504.9 269.1 L505.6 269.0 L506.3 268.9 L507.0 268.8 L507.7 268.6 L508.4 268.5 L509.1 268.4 L509.8 268.3 L510.5 268.2 L511.2 268.1 L511.9 268.0 L512.6 267.8 L513.3 267.7 L514.0 267.6 L514.7 267.5 L515.4 267.4 L516.1 267.3 L516.8 267.2 L517.5 267.1 L518.2 266.9 L518.9 266.8 L519.6 266.7 L520.3 266.6 L521.0 266.5 L521.7 266.4 L522.4 266.3 L523.1 266.2 L523.8 266.0 L524.5 265.9 L525.2 265.8 L525.9 265.7 L526.6 265.6 L527.3 265.5 L528.0 265.4 L528.7 265.3 L529.4 265.1 L530.1 265.0 L530.8 264.9 L531.5 264.8 L532.2 264.7 L532.9 264.6 L533.6 264.5 L534.3 264.3 L535.0 264.2 L535.7 264.1 L536.4 264.0 L537.1 263.9 L537.8 263.8 L538.5 263.7 L539.2 263.6 L539.9 263.4 L540.6 263.3 L541.3 263.2 L542.0 263.1 L542.7 263.0 L543.4 262.9 L544.1 262.8 L544.8 262.7 L545.5 262.6 L546.2 262.4 L546.9 262.3 L547.6 262.2 L548.3 262.1 L549.0 262.0 L549.7 261.9 L550.4 261.7 L551.1 261.6 L551.8 261.5 L552.5 261.4 L553.2 261.3 L553.9 261.1 L554.6 261.0 L555.3 260.9 L556.0 260.8 L556.7 260.6 L557.4 260.5 L558.1 260.4 L558.8 260.2 L559.5 260.1 L560.2 260.0 L560.9 259.8 L561.6 259.7 L562.3 259.6 L563.0 259.4 L563.7 259.3 L564.4 259.1 L565.1 258.9 L565.8 258.8 L566.5 258.6 L567.2 258.3 L567.9 257.9 L568.6 257.5 L569.3 257.0 L570.0 256.6 L570.7 256.5 L571.4 256.5 L572.1 256.7 L572.8 256.8 L573.5 256.9 L574.2 256.9 L574.9 256.9 L575.6 256.9 L576.3 256.8 L577.0 256.8 L577.7 256.7 L578.4 256.6 L579.1 256.6 L579.8 256.5 L580.5 256.4 L581.2 256.3 L581.9 256.2 L582.6 256.1 L583.3 256.0 L584.0 255.9 L584.7 255.8 L585.4 255.7 L586.1 255.6 L586.8 255.5 L587.5 255.4 L588.2 255.3 L588.9 255.2 L589.6 255.1 L590.3 255.0 L591.0 254.9 L591.7 254.8 L592.4 254.7 L593.1 254.6 L593.8 254.5 L594.5 254.4 L595.2 254.3 L595.9 254.2 L596.6 254.1 L597.3 254.0 L598.0 253.8 L598.7 253.7 L599.4 253.6 L600.1 253.5 L600.8 253.4 L601.5 253.3 L602.2 253.2 L602.9 253.1 L603.6 253.0 L604.3 252.9 L605.0 252.8 L605.7 252.7 L606.4 252.6 L607.1 252.5 L607.8 252.4 L608.5 252.3 L609.2 252.2 L609.9 252.1 L610.6 252.0 L611.3 251.9 L612.0 251.8 L612.7 251.8 L613.4 251.7 L614.1 251.6 L614.8 251.5 L615.5 251.5 L616.2 251.4 L616.9 251.3 L617.6 251.3 L618.3 251.2 L619.0 251.1 L619.7 251.1 L620.4 251.0 L621.1 250.9 L621.8 250.9 L622.5 250.8 L623.2 250.7 L623.9 250.7 L624.6 250.6 L625.3 250.5 L626.0 250.5 L626.7 250.4 L627.4 250.3 L628.1 250.3 L628.8 250.2 L629.5 250.2 L630.2 250.1 L630.9 250.1 L631.6 250.0 L632.3 250.0 L633.0 249.9 L633.7 249.9 L634.4 249.8 L635.1 249.8 L635.8 249.8 L636.5 249.7 L637.2 249.7 L637.9 249.7 L638.6 249.6 L639.3 249.6 L640.0 249.6 L640.7 249.6 L641.4 249.6 L642.1 249.5 L642.8 249.5 L643.5 249.5 L644.2 249.5 L644.9 249.5 L645.6 249.5 L646.3 249.4 L647.0 249.4 L647.7 249.4 L648.4 249.4 L649.1 249.4 L649.8 249.4 L650.5 249.3 L651.2 249.3 L651.9 249.3 L652.6 249.3 L653.3 249.3 L654.0 249.3 L654.7 249.3 L655.4 249.3 L656.1 249.3 L656.8 249.2 L657.5 249.2 L658.2 249.2 L658.9 249.2 L659.6 249.2 L660.3 249.2 L661.0 249.2 L661.7 249.2 L662.4 249.2 L663.1 249.2 L663.8 249.1 L664.5 249.1 L665.2 249.1 L665.9 249.1 L666.6 249.1 L667.3 249.1 L668.0 249.1 L668.7 249.1 L669.4 249.1 L670.1 249.0 L670.8 249.0 L671.5 249.0 L672.2 249.0 L672.9 249.0 L673.6 249.0 L674.3 249.0 L675.0 249.0 L675.7 248.9 L676.4 248.9 L677.1 248.9 L677.8 248.9 L678.5 248.9 L679.2 248.9 L679.9 248.9 L680.6 248.9 L681.3 248.9 L682.0 248.9 L682.7 248.8 L683.4 248.8 L684.1 248.8 L684.8 248.8 L685.5 248.8 L686.2 248.8 L686.9 248.8 L687.6 248.8 L688.3 248.8 L689.0 248.8 L689.7 248.8 L690.4 248.8 L691.1 248.8 L691.8 248.8 L692.5 248.8 L693.2 248.9 L693.9 248.9 L694.6 248.9 L695.3 249.0 L696.0 249.0 L696.7 249.0 L697.4 249.1 L698.1 249.1 L698.8 249.1 L699.5 249.2 L700.2 249.2 L700.9 249.3 L701.6 249.3 L702.3 249.3 L703.0 249.3 L703.7 249.4 L704.4 249.4 L705.1 249.4 L705.8 249.4 L706.5 249.4 L707.2 249.4 L707.9 249.4 L708.6 249.4 L709.3 249.4 L710.0 249.4 L710.7 249.4 L711.4 249.4 L712.1 249.4 L712.8 249.4 L713.5 249.4 L714.2 249.4 L714.9 249.4 L715.6 249.4 L716.3 249.4 L717.0 249.4 L717.7 249.4 L718.4 249.4 L719.1 249.4 L719.8 249.4 L720.5 249.4 L721.2 249.4 L721.9 249.3 L722.6 249.2 L723.3 249.1 L724.0 249.0 L724.7 248.8 L725.4 248.6 L726.1 248.4 L726.8 248.2 L727.5 248.0 L728.2 247.7 L728.9 247.5 L729.6 247.2 L730.3 246.9 L731.0 246.4 L731.7 245.8 L732.4 245.0 L733.1 244.1 L733.8 243.1 L734.5 241.9 L735.2 240.6 L735.9 238.5 L736.6 235.8 L737.3 232.7 L738.0 229.7 L738.7 227.0 L739.4 224.7 L740.1 222.4 L740.8 220.2 L741.5 218.8 L742.2 218.4 L742.9 218.6 L743.6 218.9 L744.3 219.4 L745.0 220.0 L745.7 221.2 L746.4 223.3 L747.1 226.0 L747.8 228.9 L748.5 231.5 L749.2 233.5 L749.9 235.4 L750.6 237.2 L751.3 238.9 L752.0 240.4 L752.7 241.6 L753.4 242.5 L754.1 243.4 L754.8 244.2 L755.5 244.9 L756.2 245.5 L756.9 246.0 L757.6 246.3 L758.3 246.4 L759.0 246.5 L759.7 246.6 L760.4 246.6 L761.1 246.6 L761.8 246.7 L762.5 246.7 L763.2 246.7 L763.9 246.7 L764.6 246.8 L765.3 246.8 L766.0 246.8 L766.7 246.8 L767.4 246.9 L768.1 246.9 L768.8 247.0 L769.5 247.1 L770.2 247.2 L770.9 247.4 L771.6 247.7 L772.3 247.9 L773.0 248.3 L773.7 248.6 L774.4 249.0 L775.1 249.3 L775.8 249.7 L776.5 250.1 L777.2 250.4 L777.9 250.8 L778.6 251.1 L779.3 251.4 L780.0 251.6 L780.7 251.8 L781.4 252.0 L782.1 252.2 L782.8 252.4 L783.5 252.6 L784.2 252.8 L784.9 253.0 L785.6 253.2 L786.3 253.4 L787.0 253.6 L787.7 253.8 L788.4 253.9 L789.1 254.1 L789.8 254.2 L790.5 254.4 L791.2 254.5 L791.9 254.7 L792.6 254.8 L793.3 254.9 L794.0 255.0 L794.7 255.1 L795.4 255.2 L796.1 255.3 L796.8 255.4 L797.5 255.5 L798.2 255.6 L798.9 255.7 L799.6 255.8 L800.3 255.9 L801.0 255.9 L801.7 256.0 L802.4 256.1 L803.1 256.2 L803.8 256.2 L804.5 256.3 L805.2 256.3 L805.9 256.4 L806.6 256.4 L807.3 256.4 L808.0 256.4 L808.7 256.2 L809.4 255.7 L810.1 254.9 L810.8 254.1 L811.5 253.2 L812.2 252.3 L812.9 251.7 L813.6 251.1 L814.3 250.6 L815.0 250.0 L815.7 249.5 L816.4 249.1 L817.1 248.8 L817.8 248.6 L818.5 248.6 L819.2 248.7 L819.9 248.8 L820.6 249.0 L821.3 249.2 L822.0 249.4 L822.7 249.8 L823.4 250.3 L824.1 251.0 L824.8 251.7 L825.5 252.3 L826.2 252.8 L826.9 253.0 L827.6 252.9 L828.3 252.6 L829.0 252.2 L829.7 251.8 L830.4 251.5 L831.1 251.4 L831.8 251.5 L832.5 251.6 L833.2 251.7 L833.9 252.0 L834.6 252.2 L835.3 252.5 L836.0 252.8 L836.7 253.1 L837.4 253.4 L838.1 253.6 L838.8 253.9 L839.5 254.3 L840.2 254.6 L840.9 255.0 L841.6 255.4 L842.3 255.7 L843.0 255.9 L843.7 256.0 L844.4 256.0 L845.1 255.8 L845.8 255.6 L846.5 255.3 L847.2 255.1 L847.9 255.0 L848.6 255.1 L849.3 255.5 L850.0 256.0 L850.7 256.5 L851.4 256.9 L852.1 257.0 L852.8 256.9 L853.5 256.6 L854.2 256.2 L854.9 255.6 L855.6 255.1 L856.3 254.4 L857.0 253.8 L857.7 253.2 L858.4 252.7 L859.1 251.9 L859.8 251.1 L860.5 250.4 L861.2 249.9 L861.9 249.6 L862.6 249.7 L863.3 250.0 L864.0 250.4 L864.7 250.9 L865.4 251.4 L866.1 251.8 L866.8 252.0 L867.5 252.0 L868.2 252.0 L868.9 252.0 L869.6 252.0 L870.3 252.0 L871.0 252.0 L871.7 252.0 L872.4 252.0 L873.1 252.2 L873.8 252.4 L874.5 252.7 L875.2 253.0 L875.9 253.4 L876.6 253.7 L877.3 254.0 L878.0 254.3 L878.7 254.4 L879.4 254.3 L880.1 254.0 L880.8 253.3 L881.5 252.4 L882.2 251.3 L882.9 250.2 L883.6 248.5 L884.3 245.8 L885.0 242.8 L885.7 240.0 L886.4 237.8 L887.1 235.4 L887.8 233.4 L888.5 231.9 L889.2 231.7 L889.9 232.5 L890.6 234.1 L891.3 235.7 L892.0 236.8 L892.7 236.9 L893.4 236.0 L894.1 234.5 L894.8 232.7 L895.5 231.0 L896.2 229.4 L896.9 227.7 L897.6 225.7 L898.3 223.5 L899.0 220.9 L899.7 217.5 L900.4 213.7 L901.1 209.7 L901.8 205.6 L902.5 201.6 L903.2 198.0 L903.9 194.9 L904.6 191.9 L905.3 189.1 L906.0 186.4 L906.7 183.9 L907.4 181.5 L908.1 179.3 L908.8 177.2 L909.5 175.4 L910.2 173.5 L910.9 171.6 L911.6 170.0 L912.3 168.8 L913.0 167.9 L913.7 167.5 L914.4 167.3 L915.1 167.2 L915.8 168.1 L916.5 169.6 L917.2 171.6 L917.9 174.0 L918.6 177.6 L919.3 182.2 L920.0 187.3 L920.7 192.4 L921.4 196.9 L922.1 200.5 L922.8 204.0 L923.5 207.3 L924.2 210.4 L924.9 213.2 L925.6 215.5 L926.3 217.3 L927.0 218.8 L927.7 220.1 L928.4 221.2 L929.1 222.3 L929.8 223.4 L930.5 224.6 L931.2 226.0 L931.9 227.5 L932.6 229.2 L933.3 230.9 L934.0 232.8 L934.7 234.6 L935.4 236.5 L936.1 238.4 L936.8 240.3 L937.5 242.4 L938.2 244.7 L938.9 246.9 L939.6 249.0 L940.3 250.8 L941.0 252.3 L941.7 253.9 L942.4 255.4 L943.1 256.5 L943.8 257.0 L944.5 257.0 L945.2 257.0 L945.9 256.9 L946.6 256.9 L947.3 256.8 L948.0 256.8 L948.7 256.7 L949.4 256.7 L950.1 256.6 L950.8 256.6 L951.5 256.7 L952.2 257.3 L952.9 258.3 L953.6 259.6 L954.3 261.0 L955.0 262.5 L955.7 264.5 L956.4 266.7 L957.1 269.0 L957.8 271.4 L958.5 273.6 L959.2 275.7 L959.9 278.0 L960.6 280.2 L961.3 282.4 L962.0 284.4 L962.7 286.2 L963.4 287.7 L964.1 289.3 L964.8 290.7 L965.5 291.7 L966.2 291.9 L966.9 291.9 L967.6 291.9 L968.3 291.9 L969.0 291.9 L969.7 291.9 L970.4 291.9 L971.1 292.1 L971.8 292.5 L972.5 293.1 L973.2 293.8 L973.9 294.5 L974.6 295.1 L975.3 295.7 L976.0 296.4 L976.7 297.1 L977.4 297.8 L978.1 298.5 L978.8 299.3 L979.5 300.0 L980.2 300.8 L980.9 301.5 L981.6 302.2 L982.3 302.9 L983.0 303.6 L983.7 304.3 L984.4 305.1 L985.1 305.9 L985.8 306.7 L986.5 307.5 L987.2 308.2 L987.9 309.0 L988.6 309.6 L989.3 310.1 L990.0 310.5 L990.7 310.8 L991.4 310.9 L992.1 310.9 L992.8 310.8 L993.5 310.6 L994.2 310.4 L994.9 310.2 L995.6 310.0 L996.3 309.7 L997.0 309.6 L997.7 309.4 L998.4 309.3 L999.1 309.1 L999.8 309.0 L1000.5 308.8 L1001.2 308.7 L1001.9 308.6 L1002.6 308.5 L1003.3 308.4 L1004.0 308.3 L1004.7 308.3 L1005.4 308.3 L1006.1 308.4 L1006.8 308.7 L1007.5 309.1 L1008.2 309.5 L1008.9 310.0 L1009.6 310.4 L1010.3 310.8 L1011.0 311.3 L1011.7 311.7 L1012.4 312.2 L1013.1 312.7 L1013.8 313.3 L1014.5 314.0 L1015.2 314.7 L1015.9 315.4 L1016.6 316.1 L1017.3 316.9 L1018.0 317.6 L1018.7 318.5 L1019.4 319.5 L1020.1 320.5 L1020.8 321.5 L1021.5 322.6 L1022.2 323.7 L1022.9 324.7 L1023.6 325.6 L1024.3 326.6 L1025.0 327.5 L1025.7 328.3 L1026.4 329.0 L1027.1 329.9 L1027.8 330.9 L1028.5 331.9 L1029.2 332.8 L1029.9 333.3 L1030.6 334.0 L1031.3 334.9 L1032.0 335.7 L1032.7 336.5 L1033.4 337.1 L1034.1 337.7 L1034.8 338.3 L1035.5 338.8 L1036.2 339.5 L1036.9 340.1 L1037.6 340.7 L1038.3 341.2 L1039.0 341.7 L1039.7 342.1 L1040.4 342.3 L1041.1 342.8 L1041.8 343.4 L1042.5 343.7 L1043.2 344.0 L1043.9 344.4 L1044.6 344.8 L1045.3 345.2 L1046.0 345.6 L1046.7 345.8 L1047.4 345.8 L1048.1 342.8 L1048.8 336.9 L1049.5 330.9 L1050.2 324.6 L1050.9 320.6 L1051.6 319.9 L1052.3 319.4 L1053.0 319.1 L1053.7 319.0 L1054.4 320.7 L1055.1 324.6 L1055.8 328.8 L1056.5 332.4 L1057.2 336.4 L1057.9 340.4 L1058.6 343.7 L1059.3 345.4 L1060.0 346.3 L1060.7 347.5 L1061.4 348.5 L1062.1 348.9 L1062.8 348.9 L1063.5 349.0 L1064.2 349.1 L1064.9 348.9 L1065.6 348.8 L1066.3 349.1 L1067.0 349.5 L1067.7 350.1 L1068.4 350.9 L1069.1 351.7 L1069.8 352.6 L1070.5 353.5 L1071.2 354.2 L1071.9 354.8 L1072.6 355.4 L1073.3 356.0 L1074.0 356.3 L1074.7 356.6 L1075.4 357.2 L1076.1 357.7 L1076.8 357.9 L1077.5 358.2 L1078.2 358.5 L1078.9 358.7 L1079.6 358.9 L1080.3 358.4 L1081.0 358.0 L1081.7 358.0 L1082.4 358.5 L1083.1 359.7 L1083.8 360.7 L1084.5 361.4 L1085.2 362.0 L1085.9 362.7 L1086.6 363.6 L1087.3 364.6 L1088.0 365.2 L1088.7 365.6 L1089.4 365.8 L1090.1 366.0 L1090.8 366.8 L1091.5 367.6 L1092.2 368.0 L1092.9 368.3 L1093.6 368.3 L1094.3 368.3 L1095.0 368.4 L1095.7 368.5 L1096.4 368.7 L1097.1 369.0 L1097.8 369.3 L1098.5 369.5 L1099.2 369.8 L1099.9 370.2 L1100.6 370.7 L1101.3 371.1 L1102.0 371.6 L1102.7 372.1 L1103.4 372.6 L1104.1 373.1 L1104.8 373.6 L1105.5 373.9 L1106.2 374.1 L1106.9 374.2 L1107.6 374.8 L1108.3 375.6 L1109.0 376.2 L1109.7 376.7 L1110.4 377.1 L1111.0 377.5"/>
<path d="M113.0 325.0 L113.5 325.0 L114.0 325.0 L114.5 325.0 L115.0 325.0 L115.5 325.0 L116.0 325.0 L116.5 325.0 L117.0 324.9 L117.5 324.9 L118.0 324.9 L118.5 324.9 L119.0 324.9 L119.5 324.8 L120.0 324.8 L120.5 324.8 L121.0 324.8 L121.5 324.7 L122.0 324.7 L122.5 324.7 L123.0 324.7 L123.5 324.6 L124.0 324.6 L124.5 324.6 L125.0 324.5 L125.5 324.5 L126.0 324.4 L126.5 324.4 L127.0 324.3 L127.5 324.2 L128.0 324.1 L128.5 324.0 L129.0 324.0 L129.5 323.9 L130.0 323.8 L130.5 323.6 L131.0 323.5 L131.5 323.4 L132.0 323.3 L132.5 323.2 L133.0 323.0 L133.5 322.8 L134.0 322.5 L134.5 322.7 L135.0 322.9 L135.5 323.0 L136.0 322.5 L136.5 321.4 L137.0 320.2 L137.5 319.1 L138.0 319.6 L138.5 320.2 L139.0 320.8 L139.5 320.4 L140.0 318.9 L140.5 317.5 L141.0 316.0 L141.5 317.6 L142.0 319.2 L142.5 320.8 L143.0 320.7 L143.5 319.0 L144.0 317.2 L144.5 315.5 L145.0 317.2 L145.5 319.0 L146.0 320.7 L146.5 320.6 L147.0 318.7 L147.5 316.8 L148.0 314.9 L148.5 314.1 L149.0 313.4 L149.5 312.6 L150.0 313.6 L150.5 316.3 L151.0 319.0 L151.5 321.7 L152.0 319.1 L152.5 316.6 L153.0 314.0 L153.5 314.0 L154.0 316.5 L154.5 318.9 L155.0 321.4 L155.5 319.0 L156.0 316.6 L156.5 314.2 L157.0 314.2 L157.5 316.5 L158.0 318.8 L158.5 321.2 L159.0 319.1 L159.5 317.0 L160.0 314.9 L160.5 314.8 L161.0 316.8 L161.5 318.8 L162.0 320.8 L162.5 319.4 L163.0 317.9 L163.5 316.5 L164.0 316.3 L164.5 317.5 L165.0 318.7 L165.5 319.8 L166.0 319.3 L166.5 318.9 L167.0 318.6 L167.5 319.2 L168.0 320.5 L168.5 321.9 L169.0 323.3 L169.5 323.2 L170.0 323.1 L170.5 322.8 L171.0 323.1 L171.5 323.8 L172.0 324.5 L172.5 325.1 L173.0 324.4 L173.5 323.8 L174.0 323.0 L174.5 322.9 L175.0 323.3 L175.5 323.7 L176.0 324.1 L176.5 322.3 L177.0 320.4 L177.5 318.6 L178.0 318.2 L178.5 319.2 L179.0 319.9 L179.5 320.2 L180.0 317.7 L180.5 315.0 L181.0 312.5 L181.5 311.0 L182.0 310.7 L182.5 310.7 L183.0 311.7 L183.5 311.3 L184.0 311.3 L184.5 311.5 L185.0 312.7 L185.5 314.9 L186.0 317.1 L186.5 319.2 L187.0 318.4 L187.5 317.4 L188.0 316.4 L188.5 316.9 L189.0 319.1 L189.5 321.1 L190.0 323.2 L190.5 322.0 L191.0 320.8 L191.5 319.6 L192.0 319.8 L192.5 321.3 L193.0 322.8 L193.5 324.3 L194.0 322.9 L194.5 321.5 L195.0 320.0 L195.5 320.5 L196.0 323.0 L196.5 325.4 L197.0 327.8 L197.5 325.3 L198.0 322.8 L198.5 320.3 L199.0 319.2 L199.5 319.6 L200.0 320.0 L200.5 320.4 L201.0 322.4 L201.5 324.5 L202.0 326.6 L202.5 326.3 L203.0 323.6 L203.5 321.0 L204.0 318.3 L204.5 318.1 L205.0 317.9 L205.5 317.7 L206.0 319.4 L206.5 323.1 L207.0 326.8 L207.5 330.6 L208.0 326.9 L208.5 323.2 L209.0 319.6 L209.5 318.5 L210.0 320.0 L210.5 321.5 L211.0 323.0 L211.5 321.7 L212.0 320.3 L212.5 319.0 L213.0 318.8 L213.5 319.8 L214.0 320.8 L214.5 321.8 L215.0 320.6 L215.5 319.3 L216.0 318.1 L216.5 317.9 L217.0 318.7 L217.5 319.5 L218.0 320.3 L218.5 319.6 L219.0 319.0 L219.5 318.4 L220.0 318.3 L220.5 318.8 L221.0 319.3 L221.5 319.8 L222.0 319.5 L222.5 319.1 L223.0 318.8 L223.5 318.9 L224.0 319.4 L224.5 320.0 L225.0 320.6 L225.5 320.2 L226.0 319.8 L226.5 319.5 L227.0 319.6 L227.5 320.1 L228.0 320.6 L228.5 321.1 L229.0 320.8 L229.5 320.5 L230.0 320.2 L230.5 320.4 L231.0 320.9 L231.5 321.4 L232.0 322.0 L232.5 321.6 L233.0 321.2 L233.5 320.8 L234.0 320.8 L234.5 321.2 L235.0 321.6 L235.5 322.0 L236.0 321.7 L236.5 321.3 L237.0 321.0 L237.5 321.0 L238.0 321.3 L238.5 321.7 L239.0 322.0 L239.5 321.7 L240.0 321.5 L240.5 321.2 L241.0 321.1 L241.5 321.0 L242.0 320.9 L242.5 320.8 L243.0 320.9 L243.5 321.0 L244.0 321.1 L244.5 321.3 L245.0 321.6 L245.5 321.9 L246.0 322.1 L246.5 322.0 L247.0 321.8 L247.5 321.7 L248.0 321.7 L248.5 321.9 L249.0 322.0 L249.5 322.2 L250.0 322.1 L250.5 322.0 L251.0 321.9 L251.5 321.9 L252.0 322.0 L252.5 322.2 L253.0 322.3 L253.5 322.3 L254.0 322.3 L254.5 322.2 L255.0 322.2 L255.5 322.3 L256.0 322.4 L256.5 322.4 L257.0 322.5 L257.5 322.5 L258.0 322.5 L258.5 322.5 L259.0 322.6 L259.5 322.6 L260.0 322.7 L260.5 322.7 L261.0 322.7 L261.5 322.8 L262.0 322.8 L262.7 322.9 L263.4 322.9 L264.1 323.0 L264.8 323.0 L265.5 323.1 L266.2 323.1 L266.9 323.2 L267.6 323.3 L268.3 323.3 L269.0 323.4 L269.7 323.5 L270.4 323.5 L271.1 323.6 L271.8 323.7 L272.5 323.8 L273.2 323.9 L273.9 323.9 L274.6 324.0 L275.3 324.1 L276.0 324.2 L276.7 324.3 L277.4 324.4 L278.1 324.5 L278.8 324.6 L279.5 324.7 L280.2 324.8 L280.9 324.9 L281.6 325.0 L282.3 325.1 L283.0 325.2 L283.7 325.3 L284.4 325.4 L285.1 325.5 L285.8 325.6 L286.5 325.7 L287.2 325.8 L287.9 326.0 L288.6 326.1 L289.3 326.2 L290.0 326.3 L290.7 326.4 L291.4 326.5 L292.1 326.6 L292.8 326.7 L293.5 326.8 L294.2 326.9 L294.9 327.0 L295.6 327.1 L296.3 327.2 L297.0 327.3 L297.7 327.4 L298.4 327.6 L299.1 327.7 L299.8 327.8 L300.5 327.9 L301.2 328.0 L301.9 328.1 L302.6 328.2 L303.3 328.3 L304.0 328.4 L304.7 328.5 L305.4 328.6 L306.1 328.7 L306.8 328.8 L307.5 329.0 L308.2 329.1 L308.9 329.2 L309.6 329.3 L310.3 329.4 L311.0 329.5 L311.7 329.6 L312.4 329.7 L313.1 329.8 L313.8 329.9 L314.5 330.0 L315.2 330.1 L315.9 330.2 L316.6 330.4 L317.3 330.5 L318.0 330.6 L318.7 330.7 L319.4 330.8 L320.1 330.9 L320.8 331.0 L321.5 331.1 L322.2 331.2 L322.9 331.2 L323.6 331.3 L324.3 331.4 L325.0 331.5 L325.7 331.6 L326.4 331.7 L327.1 331.8 L327.8 331.9 L328.5 332.0 L329.2 332.1 L329.9 332.2 L330.6 332.3 L331.3 332.3 L332.0 332.4 L332.7 332.5 L333.4 332.6 L334.1 332.7 L334.8 332.8 L335.5 332.9 L336.2 333.0 L336.9 333.0 L337.6 333.1 L338.3 333.2 L339.0 333.3 L339.7 333.4 L340.4 333.5 L341.1 333.5 L341.8 333.6 L342.5 333.7 L343.2 333.8 L343.9 333.9 L344.6 333.9 L345.3 334.0 L346.0 334.1 L346.7 334.2 L347.4 334.2 L348.1 334.3 L348.8 334.4 L349.5 334.5 L350.2 334.5 L350.9 334.6 L351.6 334.7 L352.3 334.7 L353.0 334.8 L353.7 334.9 L354.4 335.0 L355.1 335.1 L355.8 335.1 L356.5 335.2 L357.2 335.3 L357.9 335.4 L358.6 335.5 L359.3 335.5 L360.0 335.6 L360.7 335.7 L361.4 335.7 L362.1 335.8 L362.8 335.8 L363.5 335.9 L364.2 335.9 L364.9 336.0 L365.6 336.0 L366.3 336.1 L367.0 336.1 L367.7 336.1 L368.4 336.1 L369.1 336.1 L369.8 336.1 L370.5 336.1 L371.2 336.1 L371.9 336.1 L372.6 336.1 L373.3 336.1 L374.0 336.1 L374.7 336.1 L375.4 336.0 L376.1 336.0 L376.8 336.0 L377.5 336.0 L378.2 336.0 L378.9 336.0 L379.6 336.0 L380.3 335.9 L381.0 335.9 L381.7 335.9 L382.4 335.9 L383.1 335.8 L383.8 335.7 L384.5 335.5 L385.2 335.4 L385.9 335.1 L386.6 334.9 L387.3 334.6 L388.0 334.3 L388.7 334.0 L389.4 333.6 L390.1 333.3 L390.8 332.9 L391.5 332.5 L392.2 332.2 L392.9 331.8 L393.6 331.3 L394.3 330.8 L395.0 330.2 L395.7 329.6 L396.4 329.0 L397.1 328.3 L397.8 327.5 L398.5 326.8 L399.2 326.1 L399.9 325.4 L400.6 324.8 L401.3 324.1 L402.0 323.3 L402.7 322.5 L403.4 321.7 L404.1 320.9 L404.8 320.3 L405.5 319.9 L406.2 319.7 L406.9 319.8 L407.6 320.0 L408.3 320.3 L409.0 320.7 L409.7 321.1 L410.4 321.6 L411.1 322.3 L411.8 323.2 L412.5 324.1 L413.2 325.0 L413.9 325.6 L414.6 325.9 L415.3 325.8 L416.0 325.6 L416.7 325.3 L417.4 325.0 L418.1 324.7 L418.8 324.5 L419.5 324.3 L420.2 324.0 L420.9 323.8 L421.6 323.6 L422.3 323.5 L423.0 323.5 L423.7 323.7 L424.4 324.0 L425.1 324.3 L425.8 324.7 L426.5 325.1 L427.2 325.6 L427.9 326.3 L428.6 326.9 L429.3 327.5 L430.0 328.1 L430.7 328.7 L431.4 329.4 L432.1 330.1 L432.8 330.7 L433.5 331.3 L434.2 331.8 L434.9 332.3 L435.6 332.7 L436.3 332.9 L437.0 333.1 L437.7 333.3 L438.4 333.5 L439.1 333.7 L439.8 333.8 L440.5 334.0 L441.2 334.2 L441.9 334.3 L442.6 334.4 L443.3 334.5 L444.0 334.6 L444.7 334.7 L445.4 334.8 L446.1 334.8 L446.8 334.9 L447.5 334.9 L448.2 334.9 L448.9 334.9 L449.6 334.9 L450.3 334.9 L451.0 334.9 L451.7 334.8 L452.4 334.8 L453.1 334.8 L453.8 334.8 L454.5 334.7 L455.2 334.7 L455.9 334.7 L456.6 334.6 L457.3 334.6 L458.0 334.5 L458.7 334.5 L459.4 334.4 L460.1 334.4 L460.8 334.3 L461.5 334.3 L462.2 334.2 L462.9 334.2 L463.6 334.1 L464.3 334.1 L465.0 334.0 L465.7 334.0 L466.4 333.9 L467.1 333.9 L467.8 333.8 L468.5 333.8 L469.2 333.7 L469.9 333.6 L470.6 333.6 L471.3 333.5 L472.0 333.4 L472.7 333.4 L473.4 333.3 L474.1 333.2 L474.8 333.1 L475.5 333.1 L476.2 333.0 L476.9 332.9 L477.6 332.8 L478.3 332.7 L479.0 332.6 L479.7 332.5 L480.4 332.5 L481.1 332.4 L481.8 332.3 L482.5 332.2 L483.2 332.1 L483.9 332.0 L484.6 331.9 L485.3 331.8 L486.0 331.7 L486.7 331.6 L487.4 331.5 L488.1 331.4 L488.8 331.3 L489.5 331.2 L490.2 331.1 L490.9 331.0 L491.6 330.9 L492.3 330.8 L493.0 330.7 L493.7 330.6 L494.4 330.6 L495.1 330.5 L495.8 330.4 L496.5 330.3 L497.2 330.2 L497.9 330.1 L498.6 330.0 L499.3 329.9 L500.0 329.8 L500.7 329.7 L501.4 329.6 L502.1 329.4 L502.8 329.3 L503.5 329.2 L504.2 329.1 L504.9 329.0 L505.6 328.9 L506.3 328.8 L507.0 328.7 L507.7 328.6 L508.4 328.5 L509.1 328.4 L509.8 328.3 L510.5 328.2 L511.2 328.1 L511.9 327.9 L512.6 327.8 L513.3 327.7 L514.0 327.6 L514.7 327.5 L515.4 327.4 L516.1 327.3 L516.8 327.2 L517.5 327.1 L518.2 327.0 L518.9 326.9 L519.6 326.8 L520.3 326.7 L521.0 326.6 L521.7 326.4 L522.4 326.3 L523.1 326.2 L523.8 326.1 L524.5 326.0 L525.2 325.9 L525.9 325.8 L526.6 325.7 L527.3 325.6 L528.0 325.5 L528.7 325.4 L529.4 325.3 L530.1 325.2 L530.8 325.1 L531.5 325.0 L532.2 324.9 L532.9 324.8 L533.6 324.7 L534.3 324.6 L535.0 324.5 L535.7 324.4 L536.4 324.3 L537.1 324.2 L537.8 324.1 L538.5 324.0 L539.2 323.9 L539.9 323.8 L540.6 323.7 L541.3 323.6 L542.0 323.5 L542.7 323.4 L543.4 323.3 L544.1 323.1 L544.8 323.0 L545.5 322.9 L546.2 322.8 L546.9 322.7 L547.6 322.5 L548.3 322.4 L549.0 322.3 L549.7 322.2 L550.4 322.0 L551.1 321.9 L551.8 321.7 L552.5 321.6 L553.2 321.5 L553.9 321.3 L554.6 321.2 L555.3 321.0 L556.0 320.9 L556.7 320.7 L557.4 320.6 L558.1 320.4 L558.8 320.3 L559.5 320.1 L560.2 320.0 L560.9 319.8 L561.6 319.6 L562.3 319.5 L563.0 319.3 L563.7 319.2 L564.4 319.0 L565.1 318.8 L565.8 318.7 L566.5 318.5 L567.2 318.2 L567.9 317.9 L568.6 317.5 L569.3 317.2 L570.0 316.9 L570.7 316.8 L571.4 316.8 L572.1 317.0 L572.8 317.1 L573.5 317.2 L574.2 317.2 L574.9 317.2 L575.6 317.2 L576.3 317.1 L577.0 317.0 L577.7 317.0 L578.4 316.9 L579.1 316.8 L579.8 316.7 L580.5 316.6 L581.2 316.4 L581.9 316.3 L582.6 316.2 L583.3 316.1 L584.0 315.9 L584.7 315.8 L585.4 315.7 L586.1 315.6 L586.8 315.5 L587.5 315.4 L588.2 315.3 L588.9 315.2 L589.6 315.0 L590.3 314.9 L591.0 314.8 L591.7 314.7 L592.4 314.6 L593.1 314.5 L593.8 314.3 L594.5 314.2 L595.2 314.1 L595.9 314.0 L596.6 313.8 L597.3 313.7 L598.0 313.6 L598.7 313.5 L599.4 313.3 L600.1 313.2 L600.8 313.1 L601.5 312.9 L602.2 312.8 L602.9 312.7 L603.6 312.6 L604.3 312.4 L605.0 312.3 L605.7 312.2 L606.4 312.1 L607.1 311.9 L607.8 311.8 L608.5 311.7 L609.2 311.6 L609.9 311.4 L610.6 311.3 L611.3 311.2 L612.0 311.1 L612.7 311.0 L613.4 310.9 L614.1 310.8 L614.8 310.7 L615.5 310.6 L616.2 310.5 L616.9 310.3 L617.6 310.2 L618.3 310.1 L619.0 310.0 L619.7 309.9 L620.4 309.8 L621.1 309.7 L621.8 309.6 L622.5 309.5 L623.2 309.4 L623.9 309.3 L624.6 309.2 L625.3 309.1 L626.0 309.0 L626.7 308.9 L627.4 308.8 L628.1 308.7 L628.8 308.6 L629.5 308.5 L630.2 308.4 L630.9 308.3 L631.6 308.2 L632.3 308.1 L633.0 308.0 L633.7 307.9 L634.4 307.9 L635.1 307.8 L635.8 307.7 L636.5 307.6 L637.2 307.5 L637.9 307.4 L638.6 307.4 L639.3 307.3 L640.0 307.2 L640.7 307.1 L641.4 307.0 L642.1 307.0 L642.8 306.9 L643.5 306.8 L644.2 306.7 L644.9 306.7 L645.6 306.6 L646.3 306.5 L647.0 306.4 L647.7 306.3 L648.4 306.3 L649.1 306.2 L649.8 306.1 L650.5 306.0 L651.2 306.0 L651.9 305.9 L652.6 305.8 L653.3 305.7 L654.0 305.7 L654.7 305.6 L655.4 305.5 L656.1 305.5 L656.8 305.4 L657.5 305.3 L658.2 305.3 L658.9 305.2 L659.6 305.2 L660.3 305.1 L661.0 305.1 L661.7 305.0 L662.4 305.0 L663.1 304.9 L663.8 304.9 L664.5 304.9 L665.2 304.9 L665.9 304.8 L666.6 304.8 L667.3 304.8 L668.0 304.8 L668.7 304.7 L669.4 304.7 L670.1 304.7 L670.8 304.7 L671.5 304.7 L672.2 304.7 L672.9 304.6 L673.6 304.6 L674.3 304.6 L675.0 304.6 L675.7 304.6 L676.4 304.6 L677.1 304.5 L677.8 304.5 L678.5 304.5 L679.2 304.5 L679.9 304.5 L680.6 304.5 L681.3 304.5 L682.0 304.5 L682.7 304.4 L683.4 304.4 L684.1 304.4 L684.8 304.4 L685.5 304.4 L686.2 304.4 L686.9 304.4 L687.6 304.4 L688.3 304.4 L689.0 304.4 L689.7 304.4 L690.4 304.4 L691.1 304.4 L691.8 304.4 L692.5 304.4 L693.2 304.4 L693.9 304.4 L694.6 304.4 L695.3 304.4 L696.0 304.4 L696.7 304.4 L697.4 304.4 L698.1 304.4 L698.8 304.4 L699.5 304.4 L700.2 304.4 L700.9 304.4 L701.6 304.4 L702.3 304.4 L703.0 304.4 L703.7 304.4 L704.4 304.4 L705.1 304.4 L705.8 304.4 L706.5 304.4 L707.2 304.4 L707.9 304.4 L708.6 304.4 L709.3 304.4 L710.0 304.4 L710.7 304.4 L711.4 304.4 L712.1 304.4 L712.8 304.4 L713.5 304.4 L714.2 304.4 L714.9 304.4 L715.6 304.4 L716.3 304.4 L717.0 304.4 L717.7 304.4 L718.4 304.4 L719.1 304.4 L719.8 304.4 L720.5 304.4 L721.2 304.4 L721.9 304.4 L722.6 304.4 L723.3 304.4 L724.0 304.3 L724.7 304.3 L725.4 304.3 L726.1 304.3 L726.8 304.2 L727.5 304.2 L728.2 304.1 L728.9 304.1 L729.6 304.0 L730.3 304.0 L731.0 303.9 L731.7 303.9 L732.4 303.8 L733.1 303.7 L733.8 303.6 L734.5 303.5 L735.2 303.3 L735.9 302.9 L736.6 302.4 L737.3 301.8 L738.0 301.2 L738.7 300.4 L739.4 299.4 L740.1 297.7 L740.8 295.4 L741.5 292.5 L742.2 289.1 L742.9 284.0 L743.6 276.0 L744.3 268.7 L745.0 263.7 L745.7 259.9 L746.4 260.3 L747.1 264.5 L747.8 269.3 L748.5 274.9 L749.2 280.9 L749.9 285.5 L750.6 288.5 L751.3 291.2 L752.0 293.5 L752.7 295.5 L753.4 297.0 L754.1 298.1 L754.8 299.1 L755.5 299.9 L756.2 300.7 L756.9 301.3 L757.6 301.8 L758.3 302.2 L759.0 302.4 L759.7 302.5 L760.4 302.6 L761.1 302.7 L761.8 302.8 L762.5 302.9 L763.2 302.9 L763.9 303.0 L764.6 303.0 L765.3 302.9 L766.0 301.6 L766.7 299.7 L767.4 297.8 L768.1 296.5 L768.8 296.6 L769.5 297.7 L770.2 299.4 L770.9 301.1 L771.6 302.5 L772.3 303.2 L773.0 303.7 L773.7 304.0 L774.4 304.4 L775.1 304.6 L775.8 304.9 L776.5 305.1 L777.2 305.3 L777.9 305.6 L778.6 305.8 L779.3 306.0 L780.0 306.2 L780.7 306.4 L781.4 306.6 L782.1 306.8 L782.8 307.0 L783.5 307.2 L784.2 307.4 L784.9 307.6 L785.6 307.7 L786.3 307.9 L787.0 308.0 L787.7 308.2 L788.4 308.3 L789.1 308.4 L789.8 308.6 L790.5 308.7 L791.2 308.8 L791.9 308.9 L792.6 309.0 L793.3 309.1 L794.0 309.2 L794.7 309.4 L795.4 309.5 L796.1 309.6 L796.8 309.6 L797.5 309.7 L798.2 309.8 L798.9 309.9 L799.6 309.9 L800.3 310.0 L801.0 310.0 L801.7 310.0 L802.4 310.0 L803.1 310.0 L803.8 310.0 L804.5 310.0 L805.2 310.0 L805.9 310.0 L806.6 310.0 L807.3 310.0 L808.0 310.0 L808.7 310.0 L809.4 309.9 L810.1 309.4 L810.8 308.7 L811.5 307.8 L812.2 306.9 L812.9 306.1 L813.6 305.5 L814.3 304.8 L815.0 304.1 L815.7 303.4 L816.4 302.8 L817.1 302.3 L817.8 301.9 L818.5 301.7 L819.2 301.6 L819.9 301.7 L820.6 301.8 L821.3 302.0 L822.0 302.3 L822.7 302.6 L823.4 302.9 L824.1 303.4 L824.8 304.4 L825.5 305.5 L826.2 306.5 L826.9 307.0 L827.6 306.9 L828.3 306.6 L829.0 306.2 L829.7 305.7 L830.4 305.3 L831.1 305.1 L831.8 305.0 L832.5 305.2 L833.2 305.5 L833.9 306.0 L834.6 306.5 L835.3 307.2 L836.0 307.8 L836.7 308.5 L837.4 309.1 L838.1 309.7 L838.8 310.3 L839.5 310.9 L840.2 311.6 L840.9 312.3 L841.6 313.0 L842.3 313.5 L843.0 314.0 L843.7 314.3 L844.4 314.4 L845.1 314.4 L845.8 314.2 L846.5 314.0 L847.2 313.8 L847.9 313.4 L848.6 313.0 L849.3 312.5 L850.0 312.0 L850.7 310.8 L851.4 308.6 L852.1 306.2 L852.8 304.3 L853.5 303.3 L854.2 302.3 L854.9 301.5 L855.6 301.1 L856.3 301.1 L857.0 301.8 L857.7 302.8 L858.4 304.0 L859.1 304.8 L859.8 304.9 L860.5 302.7 L861.2 299.3 L861.9 296.4 L862.6 295.9 L863.3 300.0 L864.0 305.7 L864.7 309.1 L865.4 311.7 L866.1 313.8 L866.8 314.9 L867.5 315.1 L868.2 315.2 L868.9 315.2 L869.6 315.3 L870.3 315.3 L871.0 315.4 L871.7 315.4 L872.4 315.4 L873.1 315.5 L873.8 315.6 L874.5 315.8 L875.2 316.2 L875.9 316.8 L876.6 317.5 L877.3 318.1 L878.0 318.7 L878.7 319.0 L879.4 318.9 L880.1 318.4 L880.8 317.5 L881.5 316.3 L882.2 314.9 L882.9 313.2 L883.6 310.7 L884.3 306.5 L885.0 301.7 L885.7 297.4 L886.4 294.3 L887.1 291.1 L887.8 288.3 L888.5 286.4 L889.2 286.1 L889.9 287.1 L890.6 288.9 L891.3 290.8 L892.0 292.2 L892.7 292.2 L893.4 290.5 L894.1 287.7 L894.8 284.5 L895.5 281.5 L896.2 277.8 L896.9 274.3 L897.6 272.7 L898.3 272.1 L899.0 271.7 L899.7 271.3 L900.4 270.9 L901.1 270.2 L901.8 269.3 L902.5 268.1 L903.2 266.7 L903.9 264.9 L904.6 261.5 L905.3 256.8 L906.0 251.9 L906.7 247.5 L907.4 244.2 L908.1 241.2 L908.8 238.4 L909.5 235.7 L910.2 233.3 L910.9 231.2 L911.6 229.1 L912.3 227.0 L913.0 225.2 L913.7 223.8 L914.4 223.2 L915.1 222.9 L915.8 222.8 L916.5 223.9 L917.2 226.5 L917.9 229.6 L918.6 233.5 L919.3 238.5 L920.0 244.1 L920.7 249.3 L921.4 254.7 L922.1 260.3 L922.8 265.6 L923.5 270.2 L924.2 273.7 L924.9 276.7 L925.6 279.2 L926.3 281.3 L927.0 283.0 L927.7 284.5 L928.4 285.8 L929.1 287.1 L929.8 288.3 L930.5 289.5 L931.2 290.8 L931.9 292.2 L932.6 293.5 L933.3 294.9 L934.0 296.3 L934.7 297.8 L935.4 299.3 L936.1 301.0 L936.8 302.9 L937.5 304.9 L938.2 306.7 L938.9 308.4 L939.6 309.8 L940.3 311.0 L941.0 312.2 L941.7 313.3 L942.4 314.3 L943.1 315.2 L943.8 315.8 L944.5 316.1 L945.2 316.1 L945.9 315.2 L946.6 313.7 L947.3 312.2 L948.0 311.0 L948.7 310.3 L949.4 309.7 L950.1 309.2 L950.8 308.9 L951.5 308.8 L952.2 309.2 L952.9 309.9 L953.6 310.9 L954.3 312.0 L955.0 313.2 L955.7 314.3 L956.4 315.8 L957.1 317.5 L957.8 319.4 L958.5 321.5 L959.2 323.7 L959.9 325.9 L960.6 328.2 L961.3 330.6 L962.0 333.5 L962.7 336.7 L963.4 339.7 L964.1 342.1 L964.8 343.4 L965.5 343.8 L966.2 344.1 L966.9 344.2 L967.6 344.0 L968.3 343.4 L969.0 342.5 L969.7 341.7 L970.4 341.2 L971.1 341.2 L971.8 341.8 L972.5 342.7 L973.2 343.8 L973.9 344.9 L974.6 345.8 L975.3 346.7 L976.0 347.6 L976.7 348.5 L977.4 349.5 L978.1 350.3 L978.8 351.1 L979.5 351.6 L980.2 352.0 L980.9 352.1 L981.6 351.9 L982.3 351.5 L983.0 351.0 L983.7 350.5 L984.4 350.1 L985.1 350.0 L985.8 350.3 L986.5 350.9 L987.2 351.7 L987.9 352.6 L988.6 353.5 L989.3 354.2 L990.0 354.9 L990.7 355.6 L991.4 356.3 L992.1 356.7 L992.8 356.5 L993.5 355.7 L994.2 354.4 L994.9 353.1 L995.6 352.3 L996.3 352.2 L997.0 353.0 L997.7 354.1 L998.4 355.0 L999.1 355.2 L999.8 355.0 L1000.5 354.8 L1001.2 354.5 L1001.9 354.1 L1002.6 353.8 L1003.3 353.6 L1004.0 353.5 L1004.7 353.6 L1005.4 353.8 L1006.1 354.3 L1006.8 354.8 L1007.5 355.4 L1008.2 356.0 L1008.9 356.7 L1009.6 357.3 L1010.3 357.9 L1011.0 358.4 L1011.7 359.0 L1012.4 359.6 L1013.1 360.1 L1013.8 360.7 L1014.5 361.4 L1015.2 362.1 L1015.9 362.9 L1016.6 363.6 L1017.3 364.3 L1018.0 365.3 L1018.7 366.2 L1019.4 367.3 L1020.1 368.3 L1020.8 369.3 L1021.5 370.4 L1022.2 371.4 L1022.9 372.4 L1023.6 373.6 L1024.3 374.4 L1025.0 375.2 L1025.7 375.9 L1026.4 376.5 L1027.1 377.3 L1027.8 378.1 L1028.5 378.8 L1029.2 379.4 L1029.9 379.9 L1030.6 380.5 L1031.3 381.2 L1032.0 381.8 L1032.7 382.3 L1033.4 382.7 L1034.1 383.0 L1034.8 383.6 L1035.5 384.2 L1036.2 384.6 L1036.9 385.0 L1037.6 385.4 L1038.3 385.8 L1039.0 386.0 L1039.7 386.4 L1040.4 386.9 L1041.1 387.4 L1041.8 387.8 L1042.5 388.3 L1043.2 388.8 L1043.9 389.2 L1044.6 389.5 L1045.3 390.2 L1046.0 390.8 L1046.7 390.8 L1047.4 390.7 L1048.1 388.0 L1048.8 382.9 L1049.5 377.8 L1050.2 371.6 L1050.9 366.2 L1051.6 365.2 L1052.3 364.7 L1053.0 364.6 L1053.7 364.7 L1054.4 365.6 L1055.1 369.8 L1055.8 375.0 L1056.5 379.0 L1057.2 382.9 L1057.9 386.6 L1058.6 389.4 L1059.3 390.6 L1060.0 391.0 L1060.7 391.9 L1061.4 392.7 L1062.1 393.0 L1062.8 393.1 L1063.5 393.2 L1064.2 393.3 L1064.9 393.4 L1065.6 393.5 L1066.3 393.6 L1067.0 393.9 L1067.7 394.6 L1068.4 395.1 L1069.1 395.6 L1069.8 396.5 L1070.5 397.5 L1071.2 398.3 L1071.9 399.1 L1072.6 399.6 L1073.3 399.9 L1074.0 400.4 L1074.7 400.8 L1075.4 401.3 L1076.1 401.6 L1076.8 401.6 L1077.5 401.6 L1078.2 401.5 L1078.9 401.6 L1079.6 401.6 L1080.3 401.3 L1081.0 401.0 L1081.7 401.4 L1082.4 402.3 L1083.1 403.2 L1083.8 404.1 L1084.5 404.6 L1085.2 405.2 L1085.9 406.1 L1086.6 407.1 L1087.3 408.2 L1088.0 408.8 L1088.7 409.3 L1089.4 410.1 L1090.1 410.9 L1090.8 411.3 L1091.5 411.5 L1092.2 411.9 L1092.9 412.1 L1093.6 412.2 L1094.3 412.5 L1095.0 413.0 L1095.7 413.0 L1096.4 412.6 L1097.1 412.5 L1097.8 412.6 L1098.5 412.6 L1099.2 412.7 L1099.9 413.0 L1100.6 413.3 L1101.3 413.8 L1102.0 414.3 L1102.7 414.7 L1103.4 415.3 L1104.1 416.1 L1104.8 416.6 L1105.5 416.7 L1106.2 417.3 L1106.9 418.0 L1107.6 418.4 L1108.3 418.7 L1109.0 419.4 L1109.7 420.0 L1110.4 420.2 L1111.0 420.6"/>
<path d="M113.0 386.7 L113.5 386.7 L114.0 386.6 L114.5 386.6 L115.0 386.6 L115.5 386.5 L116.0 386.5 L116.5 386.5 L117.0 386.4 L117.5 386.4 L118.0 386.3 L118.5 386.3 L119.0 386.3 L119.5 386.2 L120.0 386.2 L120.5 386.2 L121.0 386.1 L121.5 386.1 L122.0 386.1 L122.5 386.0 L123.0 386.0 L123.5 386.0 L124.0 386.0 L124.5 385.9 L125.0 385.9 L125.5 385.9 L126.0 385.8 L126.5 385.8 L127.0 385.8 L127.5 385.7 L128.0 385.7 L128.5 385.7 L129.0 385.7 L129.5 385.6 L130.0 385.6 L130.5 385.6 L131.0 385.6 L131.5 385.5 L132.0 385.5 L132.5 385.5 L133.0 385.5 L133.5 385.5 L134.0 385.5 L134.5 385.4 L135.0 385.3 L135.5 385.2 L136.0 385.1 L136.5 385.2 L137.0 385.3 L137.5 385.3 L138.0 385.2 L138.5 385.0 L139.0 384.8 L139.5 384.9 L140.0 385.1 L140.5 385.3 L141.0 385.5 L141.5 385.2 L142.0 384.9 L142.5 384.6 L143.0 384.5 L143.5 384.8 L144.0 385.0 L144.5 385.2 L145.0 385.0 L145.5 384.7 L146.0 384.5 L146.5 384.5 L147.0 384.8 L147.5 385.1 L148.0 385.3 L148.5 385.3 L149.0 385.3 L149.5 385.3 L150.0 385.2 L150.5 385.0 L151.0 384.7 L151.5 384.5 L152.0 384.8 L152.5 385.0 L153.0 385.3 L153.5 385.3 L154.0 385.0 L154.5 384.7 L155.0 384.4 L155.5 384.6 L156.0 384.8 L156.5 385.0 L157.0 385.0 L157.5 384.7 L158.0 384.5 L158.5 384.3 L159.0 384.4 L159.5 384.6 L160.0 384.8 L160.5 384.8 L161.0 384.6 L161.5 384.4 L162.0 384.2 L162.5 384.5 L163.0 384.7 L163.5 385.0 L164.0 385.0 L164.5 384.8 L165.0 384.5 L165.5 384.3 L166.0 384.3 L166.5 384.3 L167.0 384.3 L167.5 384.4 L168.0 384.6 L168.5 384.8 L169.0 385.1 L169.5 384.8 L170.0 384.6 L170.5 384.3 L171.0 384.3 L171.5 384.5 L172.0 384.6 L172.5 384.8 L173.0 384.8 L173.5 384.8 L174.0 384.8 L174.5 384.7 L175.0 384.4 L175.5 384.2 L176.0 383.9 L176.5 384.2 L177.0 384.5 L177.5 384.8 L178.0 384.7 L178.5 384.4 L179.0 384.0 L179.5 383.6 L180.0 384.0 L180.5 384.4 L181.0 384.8 L181.5 384.9 L182.0 384.6 L182.5 384.4 L183.0 384.1 L183.5 384.4 L184.0 384.7 L184.5 385.0 L185.0 385.0 L185.5 384.8 L186.0 384.6 L186.5 384.3 L187.0 384.5 L187.5 384.8 L188.0 385.0 L188.5 385.0 L189.0 384.8 L189.5 384.5 L190.0 384.3 L190.5 384.6 L191.0 384.8 L191.5 385.0 L192.0 385.0 L192.5 384.8 L193.0 384.6 L193.5 384.4 L194.0 384.6 L194.5 384.8 L195.0 385.1 L195.5 385.0 L196.0 384.7 L196.5 384.4 L197.0 384.1 L197.5 384.3 L198.0 384.6 L198.5 384.8 L199.0 384.7 L199.5 384.4 L200.0 384.1 L200.5 383.7 L201.0 384.1 L201.5 384.4 L202.0 384.8 L202.5 384.8 L203.0 384.4 L203.5 384.1 L204.0 383.8 L204.5 384.0 L205.0 384.2 L205.5 384.4 L206.0 384.3 L206.5 384.0 L207.0 383.6 L207.5 383.3 L208.0 383.5 L208.5 383.8 L209.0 384.1 L209.5 384.1 L210.0 383.8 L210.5 383.5 L211.0 383.3 L211.5 383.2 L212.0 383.1 L212.5 383.1 L213.0 383.2 L213.5 383.4 L214.0 383.7 L214.5 383.9 L215.0 383.7 L215.5 383.4 L216.0 383.1 L216.5 383.0 L217.0 382.9 L217.5 382.9 L218.0 382.8 L218.5 382.9 L219.0 383.0 L219.5 383.0 L220.0 383.0 L220.5 382.9 L221.0 382.7 L221.5 382.6 L222.0 382.6 L222.5 382.5 L223.0 382.5 L223.5 382.5 L224.0 382.3 L224.5 382.1 L225.0 382.0 L225.5 382.0 L226.0 382.0 L226.5 382.0 L227.0 381.9 L227.5 381.8 L228.0 381.6 L228.5 381.4 L229.0 381.4 L229.5 381.4 L230.0 381.4 L230.5 381.3 L231.0 381.1 L231.5 381.0 L232.0 380.8 L232.5 380.8 L233.0 380.7 L233.5 380.6 L234.0 380.6 L234.5 380.6 L235.0 380.7 L235.5 380.7 L236.0 380.6 L236.5 380.4 L237.0 380.3 L237.5 380.3 L238.0 380.3 L238.5 380.3 L239.0 380.4 L239.5 380.3 L240.0 380.1 L240.5 380.0 L241.0 380.0 L241.5 380.0 L242.0 380.0 L242.5 380.0 L243.0 379.9 L243.5 379.8 L244.0 379.7 L244.5 379.7 L245.0 379.7 L245.5 379.8 L246.0 379.8 L246.5 379.7 L247.0 379.6 L247.5 379.6 L248.0 379.5 L248.5 379.5 L249.0 379.6 L249.5 379.6 L250.0 379.5 L250.5 379.5 L251.0 379.5 L251.5 379.4 L252.0 379.4 L252.5 379.3 L253.0 379.3 L253.5 379.3 L254.0 379.3 L254.5 379.3 L255.0 379.3 L255.5 379.3 L256.0 379.3 L256.5 379.2 L257.0 379.2 L257.5 379.2 L258.0 379.2 L258.5 379.2 L259.0 379.2 L259.5 379.2 L260.0 379.2 L260.5 379.2 L261.0 379.2 L261.5 379.2 L262.0 379.2 L262.7 379.2 L263.4 379.3 L264.1 379.3 L264.8 379.3 L265.5 379.3 L266.2 379.4 L266.9 379.4 L267.6 379.4 L268.3 379.5 L269.0 379.5 L269.7 379.5 L270.4 379.6 L271.1 379.6 L271.8 379.7 L272.5 379.7 L273.2 379.8 L273.9 379.8 L274.6 379.9 L275.3 379.9 L276.0 380.0 L276.7 380.0 L277.4 380.1 L278.1 380.1 L278.8 380.2 L279.5 380.2 L280.2 380.3 L280.9 380.3 L281.6 380.4 L282.3 380.4 L283.0 380.5 L283.7 380.5 L284.4 380.6 L285.1 380.7 L285.8 380.7 L286.5 380.8 L287.2 380.9 L287.9 380.9 L288.6 381.0 L289.3 381.1 L290.0 381.2 L290.7 381.2 L291.4 381.3 L292.1 381.4 L292.8 381.5 L293.5 381.6 L294.2 381.6 L294.9 381.7 L295.6 381.8 L296.3 381.9 L297.0 382.0 L297.7 382.1 L298.4 382.1 L299.1 382.2 L299.8 382.3 L300.5 382.4 L301.2 382.5 L301.9 382.6 L302.6 382.7 L303.3 382.7 L304.0 382.8 L304.7 382.9 L305.4 383.0 L306.1 383.1 L306.8 383.2 L307.5 383.2 L308.2 383.3 L308.9 383.4 L309.6 383.5 L310.3 383.5 L311.0 383.6 L311.7 383.7 L312.4 383.7 L313.1 383.8 L313.8 383.9 L314.5 384.0 L315.2 384.0 L315.9 384.1 L316.6 384.2 L317.3 384.3 L318.0 384.3 L318.7 384.4 L319.4 384.5 L320.1 384.6 L320.8 384.6 L321.5 384.7 L322.2 384.8 L322.9 384.8 L323.6 384.9 L324.3 385.0 L325.0 385.1 L325.7 385.1 L326.4 385.2 L327.1 385.3 L327.8 385.3 L328.5 385.4 L329.2 385.5 L329.9 385.5 L330.6 385.6 L331.3 385.7 L332.0 385.7 L332.7 385.8 L333.4 385.8 L334.1 385.9 L334.8 386.0 L335.5 386.0 L336.2 386.1 L336.9 386.1 L337.6 386.2 L338.3 386.2 L339.0 386.3 L339.7 386.3 L340.4 386.4 L341.1 386.4 L341.8 386.5 L342.5 386.6 L343.2 386.6 L343.9 386.7 L344.6 386.7 L345.3 386.8 L346.0 386.8 L346.7 386.9 L347.4 387.0 L348.1 387.0 L348.8 387.1 L349.5 387.1 L350.2 387.2 L350.9 387.2 L351.6 387.3 L352.3 387.3 L353.0 387.3 L353.7 387.4 L354.4 387.4 L355.1 387.5 L355.8 387.5 L356.5 387.5 L357.2 387.6 L357.9 387.6 L358.6 387.6 L359.3 387.6 L360.0 387.7 L360.7 387.7 L361.4 387.7 L362.1 387.7 L362.8 387.7 L363.5 387.7 L364.2 387.7 L364.9 387.7 L365.6 387.7 L366.3 387.7 L367.0 387.7 L367.7 387.7 L368.4 387.7 L369.1 387.7 L369.8 387.7 L370.5 387.7 L371.2 387.7 L371.9 387.7 L372.6 387.7 L373.3 387.6 L374.0 387.6 L374.7 387.6 L375.4 387.6 L376.1 387.6 L376.8 387.6 L377.5 387.6 L378.2 387.6 L378.9 387.6 L379.6 387.6 L380.3 387.5 L381.0 387.5 L381.7 387.5 L382.4 387.5 L383.1 387.4 L383.8 387.3 L384.5 387.2 L385.2 387.1 L385.9 386.9 L386.6 386.7 L387.3 386.5 L388.0 386.3 L388.7 386.0 L389.4 385.8 L390.1 385.5 L390.8 385.2 L391.5 385.0 L392.2 384.7 L392.9 384.4 L393.6 384.1 L394.3 383.8 L395.0 383.5 L395.7 383.2 L396.4 382.8 L397.1 382.4 L397.8 381.9 L398.5 381.4 L399.2 380.9 L399.9 380.2 L400.6 379.2 L401.3 378.1 L402.0 377.0 L402.7 376.1 L403.4 375.4 L404.1 374.9 L404.8 374.4 L405.5 373.9 L406.2 373.6 L406.9 373.4 L407.6 373.3 L408.3 373.4 L409.0 373.7 L409.7 374.0 L410.4 374.4 L411.1 374.9 L411.8 375.4 L412.5 376.2 L413.2 377.1 L413.9 378.0 L414.6 378.8 L415.3 379.3 L416.0 379.5 L416.7 379.4 L417.4 379.2 L418.1 378.9 L418.8 378.6 L419.5 378.4 L420.2 378.1 L420.9 377.9 L421.6 377.7 L422.3 377.5 L423.0 377.4 L423.7 377.3 L424.4 377.3 L425.1 377.5 L425.8 377.7 L426.5 378.1 L427.2 378.4 L427.9 378.8 L428.6 379.4 L429.3 380.0 L430.0 380.7 L430.7 381.3 L431.4 382.0 L432.1 382.7 L432.8 383.5 L433.5 384.3 L434.2 385.1 L434.9 385.8 L435.6 386.4 L436.3 387.0 L437.0 387.4 L437.7 387.6 L438.4 387.9 L439.1 388.1 L439.8 388.3 L440.5 388.5 L441.2 388.6 L441.9 388.8 L442.6 389.0 L443.3 389.1 L444.0 389.2 L444.7 389.3 L445.4 389.4 L446.1 389.5 L446.8 389.5 L447.5 389.6 L448.2 389.6 L448.9 389.6 L449.6 389.6 L450.3 389.7 L451.0 389.7 L451.7 389.7 L452.4 389.7 L453.1 389.7 L453.8 389.8 L454.5 389.8 L455.2 389.8 L455.9 389.8 L456.6 389.8 L457.3 389.8 L458.0 389.8 L458.7 389.8 L459.4 389.9 L460.1 389.9 L460.8 389.9 L461.5 389.9 L462.2 389.9 L462.9 389.9 L463.6 389.9 L464.3 389.9 L465.0 389.9 L465.7 389.9 L466.4 389.9 L467.1 389.9 L467.8 389.9 L468.5 389.9 L469.2 389.9 L469.9 389.9 L470.6 389.8 L471.3 389.8 L472.0 389.8 L472.7 389.7 L473.4 389.7 L474.1 389.7 L474.8 389.6 L475.5 389.6 L476.2 389.5 L476.9 389.5 L477.6 389.4 L478.3 389.4 L479.0 389.3 L479.7 389.3 L480.4 389.2 L481.1 389.2 L481.8 389.1 L482.5 389.0 L483.2 389.0 L483.9 388.9 L484.6 388.8 L485.3 388.8 L486.0 388.7 L486.7 388.6 L487.4 388.6 L488.1 388.5 L488.8 388.4 L489.5 388.4 L490.2 388.3 L490.9 388.2 L491.6 388.2 L492.3 388.1 L493.0 388.0 L493.7 388.0 L494.4 387.9 L495.1 387.8 L495.8 387.8 L496.5 387.7 L497.2 387.6 L497.9 387.5 L498.6 387.5 L499.3 387.4 L500.0 387.3 L500.7 387.2 L501.4 387.2 L502.1 387.1 L502.8 387.0 L503.5 386.9 L504.2 386.8 L504.9 386.7 L505.6 386.7 L506.3 386.6 L507.0 386.5 L507.7 386.4 L508.4 386.3 L509.1 386.2 L509.8 386.1 L510.5 386.0 L511.2 385.9 L511.9 385.8 L512.6 385.8 L513.3 385.7 L514.0 385.6 L514.7 385.5 L515.4 385.4 L516.1 385.3 L516.8 385.2 L517.5 385.1 L518.2 385.0 L518.9 384.9 L519.6 384.9 L520.3 384.8 L521.0 384.7 L521.7 384.6 L522.4 384.5 L523.1 384.4 L523.8 384.3 L524.5 384.2 L525.2 384.1 L525.9 384.0 L526.6 383.9 L527.3 383.9 L528.0 383.8 L528.7 383.7 L529.4 383.6 L530.1 383.5 L530.8 383.4 L531.5 383.3 L532.2 383.2 L532.9 383.1 L533.6 383.0 L534.3 382.9 L535.0 382.8 L535.7 382.7 L536.4 382.6 L537.1 382.5 L537.8 382.4 L538.5 382.3 L539.2 382.3 L539.9 382.2 L540.6 382.1 L541.3 382.0 L542.0 381.9 L542.7 381.8 L543.4 381.7 L544.1 381.6 L544.8 381.5 L545.5 381.4 L546.2 381.4 L546.9 381.3 L547.6 381.2 L548.3 381.1 L549.0 381.0 L549.7 381.0 L550.4 380.9 L551.1 380.8 L551.8 380.8 L552.5 380.7 L553.2 380.7 L553.9 380.6 L554.6 380.5 L555.3 380.5 L556.0 380.4 L556.7 380.3 L557.4 380.3 L558.1 380.2 L558.8 380.1 L559.5 380.1 L560.2 380.0 L560.9 379.9 L561.6 379.8 L562.3 379.8 L563.0 379.7 L563.7 379.6 L564.4 379.5 L565.1 379.3 L565.8 379.2 L566.5 379.1 L567.2 379.0 L567.9 378.7 L568.6 378.4 L569.3 378.1 L570.0 377.8 L570.7 377.7 L571.4 377.8 L572.1 377.9 L572.8 378.0 L573.5 378.2 L574.2 378.2 L574.9 378.2 L575.6 378.2 L576.3 378.1 L577.0 378.1 L577.7 378.0 L578.4 377.9 L579.1 377.8 L579.8 377.8 L580.5 377.7 L581.2 377.6 L581.9 377.5 L582.6 377.4 L583.3 377.3 L584.0 377.2 L584.7 377.1 L585.4 377.0 L586.1 376.9 L586.8 376.8 L587.5 376.7 L588.2 376.6 L588.9 376.5 L589.6 376.4 L590.3 376.4 L591.0 376.3 L591.7 376.2 L592.4 376.1 L593.1 376.0 L593.8 375.9 L594.5 375.8 L595.2 375.7 L595.9 375.6 L596.6 375.6 L597.3 375.5 L598.0 375.4 L598.7 375.3 L599.4 375.2 L600.1 375.1 L600.8 375.0 L601.5 374.9 L602.2 374.8 L602.9 374.7 L603.6 374.6 L604.3 374.5 L605.0 374.4 L605.7 374.3 L606.4 374.2 L607.1 374.1 L607.8 374.0 L608.5 374.0 L609.2 373.9 L609.9 373.8 L610.6 373.7 L611.3 373.6 L612.0 373.5 L612.7 373.4 L613.4 373.3 L614.1 373.2 L614.8 373.1 L615.5 373.0 L616.2 372.9 L616.9 372.8 L617.6 372.7 L618.3 372.6 L619.0 372.5 L619.7 372.4 L620.4 372.3 L621.1 372.2 L621.8 372.1 L622.5 372.0 L623.2 371.9 L623.9 371.8 L624.6 371.7 L625.3 371.6 L626.0 371.5 L626.7 371.4 L627.4 371.3 L628.1 371.2 L628.8 371.1 L629.5 371.0 L630.2 370.9 L630.9 370.8 L631.6 370.7 L632.3 370.6 L633.0 370.5 L633.7 370.4 L634.4 370.3 L635.1 370.2 L635.8 370.1 L636.5 370.0 L637.2 370.0 L637.9 369.9 L638.6 369.8 L639.3 369.7 L640.0 369.6 L640.7 369.5 L641.4 369.4 L642.1 369.3 L642.8 369.3 L643.5 369.2 L644.2 369.1 L644.9 369.0 L645.6 368.9 L646.3 368.8 L647.0 368.8 L647.7 368.7 L648.4 368.6 L649.1 368.5 L649.8 368.4 L650.5 368.4 L651.2 368.3 L651.9 368.2 L652.6 368.1 L653.3 368.0 L654.0 368.0 L654.7 367.9 L655.4 367.8 L656.1 367.7 L656.8 367.7 L657.5 367.6 L658.2 367.5 L658.9 367.4 L659.6 367.4 L660.3 367.3 L661.0 367.2 L661.7 367.2 L662.4 367.1 L663.1 367.0 L663.8 367.0 L664.5 366.9 L665.2 366.8 L665.9 366.8 L666.6 366.7 L667.3 366.6 L668.0 366.6 L668.7 366.5 L669.4 366.5 L670.1 366.4 L670.8 366.4 L671.5 366.3 L672.2 366.3 L672.9 366.2 L673.6 366.2 L674.3 366.1 L675.0 366.1 L675.7 366.0 L676.4 366.0 L677.1 365.9 L677.8 365.9 L678.5 365.8 L679.2 365.8 L679.9 365.7 L680.6 365.7 L681.3 365.6 L682.0 365.6 L682.7 365.6 L683.4 365.5 L684.1 365.5 L684.8 365.4 L685.5 365.4 L686.2 365.3 L686.9 365.2 L687.6 365.2 L688.3 365.1 L689.0 365.1 L689.7 365.0 L690.4 365.0 L691.1 364.9 L691.8 364.8 L692.5 364.8 L693.2 364.7 L693.9 364.6 L694.6 364.6 L695.3 364.5 L696.0 364.4 L696.7 364.3 L697.4 364.3 L698.1 364.2 L698.8 364.1 L699.5 364.0 L700.2 364.0 L700.9 363.9 L701.6 363.8 L702.3 363.7 L703.0 363.7 L703.7 363.6 L704.4 363.5 L705.1 363.5 L705.8 363.4 L706.5 363.3 L707.2 363.2 L707.9 363.2 L708.6 363.1 L709.3 363.1 L710.0 363.0 L710.7 362.9 L711.4 362.9 L712.1 362.8 L712.8 362.8 L713.5 362.8 L714.2 362.7 L714.9 362.7 L715.6 362.6 L716.3 362.6 L717.0 362.6 L717.7 362.5 L718.4 362.5 L719.1 362.5 L719.8 362.4 L720.5 362.4 L721.2 362.4 L721.9 362.3 L722.6 362.3 L723.3 362.2 L724.0 362.2 L724.7 362.1 L725.4 362.1 L726.1 362.0 L726.8 362.0 L727.5 361.9 L728.2 361.8 L728.9 361.7 L729.6 361.7 L730.3 361.6 L731.0 361.4 L731.7 361.3 L732.4 361.1 L733.1 360.8 L733.8 360.6 L734.5 360.3 L735.2 359.9 L735.9 359.5 L736.6 359.1 L737.3 358.6 L738.0 358.0 L738.7 357.2 L739.4 356.0 L740.1 354.4 L740.8 352.4 L741.5 350.0 L742.2 347.0 L742.9 341.1 L743.6 333.5 L744.3 326.8 L745.0 321.3 L745.7 317.0 L746.4 317.3 L747.1 321.5 L747.8 326.4 L748.5 332.3 L749.2 338.7 L749.9 343.5 L750.6 346.4 L751.3 348.8 L752.0 350.9 L752.7 352.7 L753.4 354.0 L754.1 355.1 L754.8 356.1 L755.5 357.0 L756.2 357.8 L756.9 358.5 L757.6 359.0 L758.3 359.4 L759.0 359.6 L759.7 359.7 L760.4 359.8 L761.1 359.8 L761.8 359.9 L762.5 359.9 L763.2 360.0 L763.9 360.0 L764.6 360.0 L765.3 359.8 L766.0 358.4 L766.7 356.4 L767.4 354.6 L768.1 354.0 L768.8 354.7 L769.5 356.2 L770.2 358.0 L770.9 359.7 L771.6 360.8 L772.3 361.0 L773.0 360.8 L773.7 360.4 L774.4 360.0 L775.1 359.6 L775.8 359.4 L776.5 359.5 L777.2 360.1 L777.9 360.9 L778.6 361.8 L779.3 362.5 L780.0 363.0 L780.7 363.3 L781.4 363.5 L782.1 363.7 L782.8 364.0 L783.5 364.2 L784.2 364.4 L784.9 364.5 L785.6 364.7 L786.3 364.9 L787.0 365.0 L787.7 365.1 L788.4 365.3 L789.1 365.4 L789.8 365.5 L790.5 365.6 L791.2 365.7 L791.9 365.8 L792.6 365.8 L793.3 365.9 L794.0 366.0 L794.7 366.1 L795.4 366.1 L796.1 366.2 L796.8 366.3 L797.5 366.3 L798.2 366.4 L798.9 366.5 L799.6 366.5 L800.3 366.6 L801.0 366.7 L801.7 366.7 L802.4 366.8 L803.1 366.8 L803.8 366.8 L804.5 366.9 L805.2 366.9 L805.9 366.9 L806.6 367.0 L807.3 367.0 L808.0 367.0 L808.7 367.0 L809.4 366.9 L810.1 366.3 L810.8 365.4 L811.5 364.4 L812.2 363.3 L812.9 362.5 L813.6 361.9 L814.3 361.2 L815.0 360.6 L815.7 360.0 L816.4 359.5 L817.1 359.0 L817.8 358.7 L818.5 358.4 L819.2 358.4 L819.9 358.5 L820.6 358.6 L821.3 358.8 L822.0 359.0 L822.7 359.2 L823.4 359.5 L824.1 360.0 L824.8 360.8 L825.5 361.9 L826.2 362.9 L826.9 363.7 L827.6 364.0 L828.3 363.9 L829.0 363.5 L829.7 363.1 L830.4 362.6 L831.1 362.2 L831.8 362.0 L832.5 362.1 L833.2 362.3 L833.9 362.7 L834.6 363.1 L835.3 363.7 L836.0 364.3 L836.7 364.9 L837.4 365.5 L838.1 366.1 L838.8 366.7 L839.5 367.3 L840.2 368.0 L840.9 368.8 L841.6 369.5 L842.3 370.1 L843.0 370.6 L843.7 370.9 L844.4 371.0 L845.1 371.0 L845.8 370.8 L846.5 370.6 L847.2 370.3 L847.9 370.0 L848.6 369.6 L849.3 369.1 L850.0 368.6 L850.7 367.5 L851.4 365.7 L852.1 363.7 L852.8 362.0 L853.5 360.8 L854.2 359.6 L854.9 358.7 L855.6 358.1 L856.3 358.1 L857.0 358.8 L857.7 359.8 L858.4 361.0 L859.1 361.8 L859.8 361.9 L860.5 359.7 L861.2 356.2 L861.9 353.2 L862.6 352.7 L863.3 356.4 L864.0 361.8 L864.7 365.2 L865.4 368.1 L866.1 370.4 L866.8 371.8 L867.5 372.2 L868.2 372.5 L868.9 372.7 L869.6 372.8 L870.3 372.9 L871.0 373.0 L871.7 373.1 L872.4 373.2 L873.1 373.3 L873.8 373.5 L874.5 373.8 L875.2 374.3 L875.9 375.0 L876.6 375.6 L877.3 376.2 L878.0 376.7 L878.7 377.0 L879.4 376.9 L880.1 376.3 L880.8 375.2 L881.5 373.8 L882.2 372.1 L882.9 370.3 L883.6 367.7 L884.3 363.7 L885.0 359.3 L885.7 355.3 L886.4 352.3 L887.1 349.3 L887.8 346.6 L888.5 344.8 L889.2 344.5 L889.9 345.6 L890.6 347.6 L891.3 349.7 L892.0 351.1 L892.7 351.2 L893.4 349.5 L894.1 346.6 L894.8 343.5 L895.5 340.8 L896.2 337.9 L896.9 335.0 L897.6 332.8 L898.3 331.7 L899.0 331.1 L899.7 330.7 L900.4 330.3 L901.1 329.7 L901.8 328.9 L902.5 327.7 L903.2 326.1 L903.9 323.6 L904.6 317.2 L905.3 309.4 L906.0 304.7 L906.7 301.9 L907.4 299.7 L908.1 297.8 L908.8 296.1 L909.5 294.4 L910.2 292.6 L910.9 290.6 L911.6 288.5 L912.3 286.5 L913.0 284.7 L913.7 283.2 L914.4 282.3 L915.1 281.6 L915.8 281.3 L916.5 282.5 L917.2 285.3 L917.9 288.7 L918.6 292.7 L919.3 297.7 L920.0 303.2 L920.7 308.4 L921.4 313.7 L922.1 319.3 L922.8 324.6 L923.5 329.2 L924.2 333.0 L924.9 336.3 L925.6 339.1 L926.3 341.5 L927.0 343.4 L927.7 345.1 L928.4 346.6 L929.1 348.0 L929.8 349.4 L930.5 350.7 L931.2 352.1 L931.9 353.5 L932.6 354.9 L933.3 356.2 L934.0 357.6 L934.7 359.0 L935.4 360.5 L936.1 362.3 L936.8 364.3 L937.5 366.4 L938.2 368.4 L938.9 370.2 L939.6 371.6 L940.3 372.8 L941.0 374.0 L941.7 375.1 L942.4 376.1 L943.1 376.9 L943.8 377.4 L944.5 377.6 L945.2 377.2 L945.9 376.1 L946.6 374.8 L947.3 373.4 L948.0 372.3 L948.7 371.5 L949.4 370.7 L950.1 370.1 L950.8 369.7 L951.5 369.6 L952.2 369.9 L952.9 370.4 L953.6 371.1 L954.3 372.0 L955.0 372.9 L955.7 374.0 L956.4 375.1 L957.1 376.5 L957.8 378.3 L958.5 380.5 L959.2 382.9 L959.9 385.3 L960.6 387.7 L961.3 390.2 L962.0 393.0 L962.7 396.1 L963.4 398.9 L964.1 401.1 L964.8 402.6 L965.5 403.2 L966.2 403.7 L966.9 403.9 L967.6 403.7 L968.3 402.9 L969.0 401.9 L969.7 401.0 L970.4 400.7 L971.1 401.1 L971.8 401.8 L972.5 402.9 L973.2 404.1 L973.9 405.2 L974.6 406.1 L975.3 407.0 L976.0 408.0 L976.7 409.0 L977.4 410.0 L978.1 411.0 L978.8 411.8 L979.5 412.4 L980.2 412.8 L980.9 412.9 L981.6 412.6 L982.3 412.0 L983.0 411.2 L983.7 410.3 L984.4 409.6 L985.1 409.2 L985.8 409.2 L986.5 409.8 L987.2 410.8 L987.9 412.1 L988.6 413.4 L989.3 414.4 L990.0 415.3 L990.7 416.3 L991.4 417.1 L992.1 417.5 L992.8 417.4 L993.5 416.4 L994.2 415.0 L994.9 413.5 L995.6 412.5 L996.3 412.4 L997.0 413.3 L997.7 414.7 L998.4 415.7 L999.1 415.9 L999.8 415.7 L1000.5 415.4 L1001.2 415.1 L1001.9 414.7 L1002.6 414.4 L1003.3 414.1 L1004.0 414.0 L1004.7 414.1 L1005.4 414.3 L1006.1 414.6 L1006.8 415.0 L1007.5 415.4 L1008.2 415.9 L1008.9 416.5 L1009.6 417.0 L1010.3 417.5 L1011.0 418.1 L1011.7 418.7 L1012.4 419.4 L1013.1 419.9 L1013.8 420.5 L1014.5 421.1 L1015.2 421.9 L1015.9 422.7 L1016.6 423.5 L1017.3 424.3 L1018.0 425.0 L1018.7 425.8 L1019.4 426.6 L1020.1 427.6 L1020.8 428.7 L1021.5 429.9 L1022.2 431.1 L1022.9 432.3 L1023.6 433.3 L1024.3 434.3 L1025.0 435.1 L1025.7 435.9 L1026.4 436.5 L1027.1 436.6 L1027.8 436.5 L1028.5 436.5 L1029.2 436.5 L1029.9 436.4 L1030.6 436.5 L1031.3 437.7 L1032.0 439.8 L1032.7 442.1 L1033.4 443.7 L1034.1 444.3 L1034.8 445.1 L1035.5 445.9 L1036.2 446.6 L1036.9 447.1 L1037.6 447.5 L1038.3 447.8 L1039.0 448.3 L1039.7 448.7 L1040.4 449.0 L1041.1 449.5 L1041.8 450.3 L1042.5 450.9 L1043.2 451.6 L1043.9 452.2 L1044.6 452.8 L1045.3 453.1 L1046.0 453.3 L1046.7 453.6 L1047.4 450.8 L1048.1 444.7 L1048.8 439.0 L1049.5 434.3 L1050.2 429.7 L1050.9 427.2 L1051.6 426.8 L1052.3 426.6 L1053.0 426.2 L1053.7 425.8 L1054.4 427.0 L1055.1 431.2 L1055.8 436.3 L1056.5 440.3 L1057.2 444.2 L1057.9 447.8 L1058.6 450.2 L1059.3 451.6 L1060.0 452.9 L1060.7 453.8 L1061.4 454.3 L1062.1 454.2 L1062.8 453.7 L1063.5 453.5 L1064.2 453.3 L1064.9 453.4 L1065.6 453.6 L1066.3 454.1 L1067.0 455.0 L1067.7 456.0 L1068.4 457.6 L1069.1 459.4 L1069.8 460.3 L1070.5 461.0 L1071.2 461.7 L1071.9 462.3 L1072.6 463.5 L1073.3 464.5 L1074.0 464.7 L1074.7 464.8 L1075.4 464.9 L1076.1 464.9 L1076.8 464.9 L1077.5 464.7 L1078.2 464.2 L1078.9 463.9 L1079.6 463.8 L1080.3 464.0 L1081.0 464.6 L1081.7 465.4 L1082.4 466.4 L1083.1 467.6 L1083.8 468.7 L1084.5 469.8 L1085.2 470.4 L1085.9 470.7 L1086.6 471.0 L1087.3 471.4 L1088.0 471.7 L1088.7 472.1 L1089.4 472.5 L1090.1 473.1 L1090.8 474.1 L1091.5 475.1 L1092.2 475.8 L1092.9 476.5 L1093.6 477.6 L1094.3 478.0 L1095.0 477.7 L1095.7 477.5 L1096.4 477.4 L1097.1 476.9 L1097.8 476.4 L1098.5 476.0 L1099.2 475.4 L1099.9 474.6 L1100.6 473.9 L1101.3 473.4 L1102.0 473.3 L1102.7 473.3 L1103.4 474.0 L1104.1 475.0 L1104.8 475.8 L1105.5 476.3 L1106.2 476.5 L1106.9 476.8 L1107.6 477.0 L1108.3 477.1 L1109.0 477.6 L1109.7 477.9 L1110.4 477.6 L1111.0 477.5"/>
<path d="M113.0 443.5 L113.5 443.5 L114.0 443.5 L114.5 443.5 L115.0 443.5 L115.5 443.5 L116.0 443.5 L116.5 443.5 L117.0 443.5 L117.5 443.5 L118.0 443.5 L118.5 443.5 L119.0 443.5 L119.5 443.5 L120.0 443.6 L120.5 443.6 L121.0 443.6 L121.5 443.6 L122.0 443.6 L122.5 443.6 L123.0 443.6 L123.5 443.6 L124.0 443.6 L124.5 443.6 L125.0 443.6 L125.5 443.6 L126.0 443.6 L126.5 443.6 L127.0 443.6 L127.5 443.6 L128.0 443.6 L128.5 443.6 L129.0 443.6 L129.5 443.6 L130.0 443.6 L130.5 443.6 L131.0 443.6 L131.5 443.7 L132.0 443.7 L132.5 443.7 L133.0 443.6 L133.5 443.6 L134.0 443.6 L134.5 443.7 L135.0 443.7 L135.5 443.7 L136.0 443.7 L136.5 443.7 L137.0 443.6 L137.5 443.6 L138.0 443.6 L138.5 443.5 L139.0 443.5 L139.5 443.6 L140.0 443.8 L140.5 444.0 L141.0 444.2 L141.5 444.0 L142.0 443.8 L142.5 443.6 L143.0 443.5 L143.5 443.5 L144.0 443.4 L144.5 443.4 L145.0 443.7 L145.5 443.9 L146.0 444.1 L146.5 444.2 L147.0 444.0 L147.5 443.9 L148.0 443.8 L148.5 443.9 L149.0 444.1 L149.5 444.2 L150.0 444.2 L150.5 443.9 L151.0 443.7 L151.5 443.5 L152.0 443.7 L152.5 443.9 L153.0 444.2 L153.5 444.2 L154.0 443.9 L154.5 443.7 L155.0 443.5 L155.5 443.7 L156.0 443.9 L156.5 444.1 L157.0 444.1 L157.5 444.0 L158.0 443.8 L158.5 443.6 L159.0 443.8 L159.5 444.0 L160.0 444.2 L160.5 444.2 L161.0 444.0 L161.5 443.8 L162.0 443.6 L162.5 443.8 L163.0 444.0 L163.5 444.1 L164.0 444.1 L164.5 443.9 L165.0 443.7 L165.5 443.5 L166.0 443.7 L166.5 443.9 L167.0 444.0 L167.5 444.0 L168.0 443.8 L168.5 443.5 L169.0 443.3 L169.5 443.5 L170.0 443.6 L170.5 443.8 L171.0 443.8 L171.5 443.6 L172.0 443.5 L172.5 443.3 L173.0 443.5 L173.5 443.8 L174.0 444.0 L174.5 444.0 L175.0 443.8 L175.5 443.6 L176.0 443.3 L176.5 443.5 L177.0 443.7 L177.5 443.9 L178.0 444.0 L178.5 444.0 L179.0 444.0 L179.5 444.0 L180.0 443.7 L180.5 443.4 L181.0 443.1 L181.5 442.9 L182.0 442.9 L182.5 442.8 L183.0 442.8 L183.5 442.9 L184.0 443.1 L184.5 443.3 L185.0 443.2 L185.5 443.0 L186.0 442.8 L186.5 442.6 L187.0 442.6 L187.5 442.6 L188.0 442.6 L188.5 442.7 L189.0 442.9 L189.5 443.1 L190.0 443.3 L190.5 443.0 L191.0 442.7 L191.5 442.4 L192.0 442.3 L192.5 442.5 L193.0 442.7 L193.5 442.9 L194.0 442.9 L194.5 442.8 L195.0 442.7 L195.5 442.5 L196.0 442.3 L196.5 442.0 L197.0 441.7 L197.5 441.8 L198.0 442.0 L198.5 442.1 L199.0 442.1 L199.5 441.9 L200.0 441.6 L200.5 441.4 L201.0 441.5 L201.5 441.6 L202.0 441.7 L202.5 441.6 L203.0 441.3 L203.5 440.9 L204.0 440.6 L204.5 440.6 L205.0 440.6 L205.5 440.6 L206.0 440.6 L206.5 440.6 L207.0 440.6 L207.5 440.7 L208.0 440.4 L208.5 440.1 L209.0 439.8 L209.5 439.8 L210.0 439.9 L210.5 440.0 L211.0 440.2 L211.5 439.9 L212.0 439.7 L212.5 439.5 L213.0 439.2 L213.5 439.1 L214.0 438.9 L214.5 438.7 L215.0 438.7 L215.5 438.6 L216.0 438.5 L216.5 438.5 L217.0 438.5 L217.5 438.6 L218.0 438.6 L218.5 438.3 L219.0 438.1 L219.5 437.8 L220.0 437.7 L220.5 437.7 L221.0 437.6 L221.5 437.6 L222.0 437.5 L222.5 437.4 L223.0 437.2 L223.5 437.1 L224.0 436.9 L224.5 436.8 L225.0 436.6 L225.5 436.4 L226.0 436.3 L226.5 436.2 L227.0 436.1 L227.5 436.0 L228.0 435.9 L228.5 435.9 L229.0 435.7 L229.5 435.5 L230.0 435.3 L230.5 435.1 L231.0 435.1 L231.5 435.1 L232.0 435.0 L232.5 434.9 L233.0 434.8 L233.5 434.6 L234.0 434.4 L234.5 434.3 L235.0 434.1 L235.5 433.9 L236.0 433.8 L236.5 433.7 L237.0 433.6 L237.5 433.5 L238.0 433.5 L238.5 433.4 L239.0 433.3 L239.5 433.2 L240.0 433.0 L240.5 432.9 L241.0 432.8 L241.5 432.7 L242.0 432.7 L242.5 432.7 L243.0 432.6 L243.5 432.5 L244.0 432.4 L244.5 432.3 L245.0 432.3 L245.5 432.2 L246.0 432.2 L246.5 432.1 L247.0 432.0 L247.5 431.9 L248.0 431.8 L248.5 431.8 L249.0 431.7 L249.5 431.7 L250.0 431.6 L250.5 431.5 L251.0 431.4 L251.5 431.3 L252.0 431.2 L252.5 431.2 L253.0 431.1 L253.5 431.1 L254.0 431.0 L254.5 430.9 L255.0 430.9 L255.5 430.8 L256.0 430.8 L256.5 430.7 L257.0 430.7 L257.5 430.6 L258.0 430.5 L258.5 430.5 L259.0 430.4 L259.5 430.4 L260.0 430.3 L260.5 430.3 L261.0 430.2 L261.5 430.2 L262.0 430.1 L262.7 430.1 L263.4 430.0 L264.1 430.0 L264.8 429.9 L265.5 429.8 L266.2 429.8 L266.9 429.7 L267.6 429.6 L268.3 429.6 L269.0 429.5 L269.7 429.5 L270.4 429.4 L271.1 429.3 L271.8 429.3 L272.5 429.2 L273.2 429.1 L273.9 429.1 L274.6 429.0 L275.3 429.0 L276.0 428.9 L276.7 428.9 L277.4 428.8 L278.1 428.8 L278.8 428.7 L279.5 428.7 L280.2 428.7 L280.9 428.6 L281.6 428.6 L282.3 428.6 L283.0 428.5 L283.7 428.5 L284.4 428.5 L285.1 428.5 L285.8 428.5 L286.5 428.5 L287.2 428.5 L287.9 428.5 L288.6 428.5 L289.3 428.5 L290.0 428.5 L290.7 428.5 L291.4 428.5 L292.1 428.5 L292.8 428.5 L293.5 428.5 L294.2 428.5 L294.9 428.6 L295.6 428.6 L296.3 428.6 L297.0 428.6 L297.7 428.6 L298.4 428.6 L299.1 428.6 L299.8 428.6 L300.5 428.6 L301.2 428.6 L301.9 428.7 L302.6 428.7 L303.3 428.7 L304.0 428.7 L304.7 428.7 L305.4 428.7 L306.1 428.7 L306.8 428.7 L307.5 428.8 L308.2 428.8 L308.9 428.8 L309.6 428.8 L310.3 428.8 L311.0 428.8 L311.7 428.8 L312.4 428.9 L313.1 428.9 L313.8 428.9 L314.5 428.9 L315.2 428.9 L315.9 429.0 L316.6 429.0 L317.3 429.0 L318.0 429.0 L318.7 429.1 L319.4 429.1 L320.1 429.1 L320.8 429.1 L321.5 429.2 L322.2 429.2 L322.9 429.2 L323.6 429.3 L324.3 429.3 L325.0 429.3 L325.7 429.4 L326.4 429.4 L327.1 429.4 L327.8 429.5 L328.5 429.5 L329.2 429.5 L329.9 429.6 L330.6 429.6 L331.3 429.6 L332.0 429.7 L332.7 429.7 L333.4 429.7 L334.1 429.8 L334.8 429.8 L335.5 429.8 L336.2 429.9 L336.9 429.9 L337.6 429.9 L338.3 430.0 L339.0 430.0 L339.7 430.1 L340.4 430.1 L341.1 430.2 L341.8 430.2 L342.5 430.3 L343.2 430.3 L343.9 430.4 L344.6 430.4 L345.3 430.5 L346.0 430.5 L346.7 430.6 L347.4 430.7 L348.1 430.7 L348.8 430.8 L349.5 430.8 L350.2 430.9 L350.9 430.9 L351.6 431.0 L352.3 431.0 L353.0 431.1 L353.7 431.1 L354.4 431.2 L355.1 431.2 L355.8 431.3 L356.5 431.3 L357.2 431.3 L357.9 431.4 L358.6 431.4 L359.3 431.4 L360.0 431.4 L360.7 431.5 L361.4 431.5 L362.1 431.5 L362.8 431.5 L363.5 431.5 L364.2 431.5 L364.9 431.5 L365.6 431.5 L366.3 431.5 L367.0 431.5 L367.7 431.5 L368.4 431.5 L369.1 431.4 L369.8 431.4 L370.5 431.4 L371.2 431.4 L371.9 431.4 L372.6 431.3 L373.3 431.3 L374.0 431.3 L374.7 431.3 L375.4 431.2 L376.1 431.2 L376.8 431.2 L377.5 431.1 L378.2 431.1 L378.9 431.1 L379.6 431.0 L380.3 431.0 L381.0 431.0 L381.7 430.9 L382.4 430.9 L383.1 430.8 L383.8 430.7 L384.5 430.6 L385.2 430.4 L385.9 430.3 L386.6 430.1 L387.3 429.9 L388.0 429.7 L388.7 429.5 L389.4 429.2 L390.1 429.0 L390.8 428.7 L391.5 428.5 L392.2 428.2 L392.9 427.9 L393.6 427.6 L394.3 427.3 L395.0 427.0 L395.7 426.6 L396.4 426.1 L397.1 425.7 L397.8 425.2 L398.5 424.7 L399.2 424.1 L399.9 423.4 L400.6 422.4 L401.3 421.3 L402.0 420.2 L402.7 419.3 L403.4 418.6 L404.1 418.1 L404.8 417.6 L405.5 417.1 L406.2 416.8 L406.9 416.6 L407.6 416.5 L408.3 416.6 L409.0 416.9 L409.7 417.2 L410.4 417.6 L411.1 418.1 L411.8 418.7 L412.5 419.5 L413.2 420.4 L413.9 421.3 L414.6 422.1 L415.3 422.7 L416.0 422.9 L416.7 422.8 L417.4 422.6 L418.1 422.2 L418.8 421.9 L419.5 421.6 L420.2 421.3 L420.9 421.1 L421.6 420.9 L422.3 420.7 L423.0 420.6 L423.7 420.5 L424.4 420.5 L425.1 420.7 L425.8 421.0 L426.5 421.4 L427.2 421.8 L427.9 422.3 L428.6 423.0 L429.3 423.8 L430.0 424.6 L430.7 425.3 L431.4 426.0 L432.1 426.6 L432.8 427.3 L433.5 428.0 L434.2 428.6 L434.9 429.2 L435.6 429.7 L436.3 430.2 L437.0 430.6 L437.7 430.9 L438.4 431.1 L439.1 431.4 L439.8 431.7 L440.5 431.9 L441.2 432.2 L441.9 432.4 L442.6 432.6 L443.3 432.9 L444.0 433.1 L444.7 433.2 L445.4 433.4 L446.1 433.6 L446.8 433.7 L447.5 433.8 L448.2 433.9 L448.9 434.0 L449.6 434.0 L450.3 434.1 L451.0 434.1 L451.7 434.1 L452.4 434.1 L453.1 434.2 L453.8 434.2 L454.5 434.2 L455.2 434.2 L455.9 434.2 L456.6 434.2 L457.3 434.2 L458.0 434.2 L458.7 434.2 L459.4 434.3 L460.1 434.3 L460.8 434.3 L461.5 434.3 L462.2 434.3 L462.9 434.3 L463.6 434.3 L464.3 434.3 L465.0 434.3 L465.7 434.3 L466.4 434.3 L467.1 434.3 L467.8 434.4 L468.5 434.4 L469.2 434.4 L469.9 434.4 L470.6 434.4 L471.3 434.4 L472.0 434.4 L472.7 434.4 L473.4 434.4 L474.1 434.4 L474.8 434.4 L475.5 434.4 L476.2 434.4 L476.9 434.4 L477.6 434.4 L478.3 434.4 L479.0 434.4 L479.7 434.4 L480.4 434.4 L481.1 434.4 L481.8 434.4 L482.5 434.4 L483.2 434.4 L483.9 434.4 L484.6 434.4 L485.3 434.4 L486.0 434.4 L486.7 434.4 L487.4 434.3 L488.1 434.3 L488.8 434.3 L489.5 434.3 L490.2 434.3 L490.9 434.3 L491.6 434.3 L492.3 434.3 L493.0 434.2 L493.7 434.2 L494.4 434.2 L495.1 434.2 L495.8 434.2 L496.5 434.2 L497.2 434.2 L497.9 434.1 L498.6 434.1 L499.3 434.1 L500.0 434.1 L500.7 434.1 L501.4 434.0 L502.1 434.0 L502.8 434.0 L503.5 434.0 L504.2 434.0 L504.9 433.9 L505.6 433.9 L506.3 433.9 L507.0 433.9 L507.7 433.9 L508.4 433.8 L509.1 433.8 L509.8 433.8 L510.5 433.8 L511.2 433.7 L511.9 433.7 L512.6 433.7 L513.3 433.7 L514.0 433.6 L514.7 433.6 L515.4 433.6 L516.1 433.5 L516.8 433.5 L517.5 433.4 L518.2 433.4 L518.9 433.4 L519.6 433.3 L520.3 433.3 L521.0 433.2 L521.7 433.2 L522.4 433.2 L523.1 433.1 L523.8 433.1 L524.5 433.0 L525.2 433.0 L525.9 433.0 L526.6 432.9 L527.3 432.9 L528.0 432.8 L528.7 432.8 L529.4 432.7 L530.1 432.7 L530.8 432.7 L531.5 432.6 L532.2 432.6 L532.9 432.5 L533.6 432.5 L534.3 432.4 L535.0 432.4 L535.7 432.4 L536.4 432.3 L537.1 432.3 L537.8 432.2 L538.5 432.2 L539.2 432.2 L539.9 432.1 L540.6 432.1 L541.3 432.1 L542.0 432.0 L542.7 432.0 L543.4 432.0 L544.1 431.9 L544.8 431.9 L545.5 431.8 L546.2 431.8 L546.9 431.8 L547.6 431.7 L548.3 431.7 L549.0 431.6 L549.7 431.6 L550.4 431.5 L551.1 431.5 L551.8 431.4 L552.5 431.4 L553.2 431.3 L553.9 431.3 L554.6 431.2 L555.3 431.2 L556.0 431.1 L556.7 431.0 L557.4 431.0 L558.1 430.9 L558.8 430.8 L559.5 430.8 L560.2 430.7 L560.9 430.6 L561.6 430.5 L562.3 430.4 L563.0 430.3 L563.7 430.1 L564.4 430.0 L565.1 429.8 L565.8 429.7 L566.5 429.4 L567.2 429.1 L567.9 428.7 L568.6 428.2 L569.3 427.9 L570.0 427.6 L570.7 427.5 L571.4 427.6 L572.1 427.8 L572.8 428.0 L573.5 428.3 L574.2 428.6 L574.9 428.8 L575.6 428.9 L576.3 429.1 L577.0 429.3 L577.7 429.4 L578.4 429.6 L579.1 429.7 L579.8 429.8 L580.5 429.9 L581.2 429.9 L581.9 429.9 L582.6 429.9 L583.3 429.9 L584.0 429.9 L584.7 429.9 L585.4 429.8 L586.1 429.8 L586.8 429.8 L587.5 429.8 L588.2 429.7 L588.9 429.7 L589.6 429.7 L590.3 429.6 L591.0 429.6 L591.7 429.6 L592.4 429.5 L593.1 429.5 L593.8 429.4 L594.5 429.4 L595.2 429.3 L595.9 429.3 L596.6 429.2 L597.3 429.2 L598.0 429.1 L598.7 429.1 L599.4 429.0 L600.1 428.9 L600.8 428.9 L601.5 428.8 L602.2 428.8 L602.9 428.7 L603.6 428.7 L604.3 428.6 L605.0 428.6 L605.7 428.5 L606.4 428.5 L607.1 428.4 L607.8 428.4 L608.5 428.3 L609.2 428.3 L609.9 428.2 L610.6 428.2 L611.3 428.1 L612.0 428.1 L612.7 428.0 L613.4 428.0 L614.1 428.0 L614.8 427.9 L615.5 427.9 L616.2 427.8 L616.9 427.8 L617.6 427.8 L618.3 427.7 L619.0 427.7 L619.7 427.7 L620.4 427.6 L621.1 427.6 L621.8 427.5 L622.5 427.5 L623.2 427.5 L623.9 427.4 L624.6 427.4 L625.3 427.4 L626.0 427.3 L626.7 427.3 L627.4 427.3 L628.1 427.2 L628.8 427.2 L629.5 427.2 L630.2 427.1 L630.9 427.1 L631.6 427.1 L632.3 427.0 L633.0 427.0 L633.7 427.0 L634.4 426.9 L635.1 426.9 L635.8 426.9 L636.5 426.8 L637.2 426.8 L637.9 426.8 L638.6 426.8 L639.3 426.7 L640.0 426.7 L640.7 426.7 L641.4 426.6 L642.1 426.6 L642.8 426.6 L643.5 426.6 L644.2 426.5 L644.9 426.5 L645.6 426.5 L646.3 426.5 L647.0 426.4 L647.7 426.4 L648.4 426.4 L649.1 426.4 L649.8 426.4 L650.5 426.3 L651.2 426.3 L651.9 426.3 L652.6 426.3 L653.3 426.2 L654.0 426.2 L654.7 426.2 L655.4 426.2 L656.1 426.2 L656.8 426.1 L657.5 426.1 L658.2 426.1 L658.9 426.1 L659.6 426.1 L660.3 426.0 L661.0 426.0 L661.7 426.0 L662.4 426.0 L663.1 426.0 L663.8 426.0 L664.5 425.9 L665.2 425.9 L665.9 425.9 L666.6 425.9 L667.3 425.9 L668.0 425.9 L668.7 425.9 L669.4 425.9 L670.1 425.8 L670.8 425.8 L671.5 425.8 L672.2 425.8 L672.9 425.8 L673.6 425.8 L674.3 425.8 L675.0 425.8 L675.7 425.8 L676.4 425.8 L677.1 425.8 L677.8 425.8 L678.5 425.7 L679.2 425.7 L679.9 425.7 L680.6 425.7 L681.3 425.7 L682.0 425.7 L682.7 425.7 L683.4 425.7 L684.1 425.7 L684.8 425.7 L685.5 425.7 L686.2 425.7 L686.9 425.7 L687.6 425.6 L688.3 425.6 L689.0 425.6 L689.7 425.6 L690.4 425.6 L691.1 425.6 L691.8 425.6 L692.5 425.6 L693.2 425.5 L693.9 425.5 L694.6 425.5 L695.3 425.5 L696.0 425.5 L696.7 425.5 L697.4 425.4 L698.1 425.4 L698.8 425.4 L699.5 425.4 L700.2 425.4 L700.9 425.4 L701.6 425.3 L702.3 425.3 L703.0 425.3 L703.7 425.3 L704.4 425.2 L705.1 425.2 L705.8 425.2 L706.5 425.2 L707.2 425.1 L707.9 425.1 L708.6 425.1 L709.3 425.0 L710.0 425.0 L710.7 425.0 L711.4 424.9 L712.1 424.9 L712.8 424.8 L713.5 424.8 L714.2 424.7 L714.9 424.6 L715.6 424.6 L716.3 424.5 L717.0 424.4 L717.7 424.3 L718.4 424.2 L719.1 424.1 L719.8 424.0 L720.5 423.9 L721.2 423.8 L721.9 423.7 L722.6 423.6 L723.3 423.5 L724.0 423.4 L724.7 423.2 L725.4 423.1 L726.1 423.0 L726.8 422.8 L727.5 422.7 L728.2 422.6 L728.9 422.4 L729.6 422.2 L730.3 422.0 L731.0 421.8 L731.7 421.6 L732.4 421.3 L733.1 421.1 L733.8 420.7 L734.5 420.4 L735.2 420.1 L735.9 419.7 L736.6 419.2 L737.3 418.6 L738.0 417.8 L738.7 416.9 L739.4 415.7 L740.1 414.3 L740.8 412.5 L741.5 409.7 L742.2 404.0 L742.9 396.9 L743.6 390.0 L744.3 382.1 L745.0 373.5 L745.7 367.7 L746.4 368.3 L747.1 374.8 L747.8 382.4 L748.5 387.6 L749.2 392.5 L749.9 396.8 L750.6 400.0 L751.3 402.4 L752.0 404.6 L752.7 406.5 L753.4 408.1 L754.1 409.5 L754.8 410.7 L755.5 411.7 L756.2 412.7 L756.9 413.7 L757.6 414.5 L758.3 415.2 L759.0 415.7 L759.7 416.0 L760.4 416.0 L761.1 416.0 L761.8 416.0 L762.5 415.9 L763.2 415.8 L763.9 415.8 L764.6 415.7 L765.3 415.4 L766.0 413.7 L766.7 411.2 L767.4 408.8 L768.1 407.2 L768.8 407.3 L769.5 409.0 L770.2 411.2 L770.9 412.9 L771.6 413.7 L772.3 414.4 L773.0 414.9 L773.7 415.0 L774.4 412.5 L775.1 408.0 L775.8 403.9 L776.5 402.4 L777.2 403.4 L777.9 405.2 L778.6 406.7 L779.3 406.9 L780.0 406.3 L780.7 405.6 L781.4 405.0 L782.1 406.0 L782.8 409.6 L783.5 413.4 L784.2 415.3 L784.9 416.2 L785.6 417.0 L786.3 417.7 L787.0 418.1 L787.7 418.4 L788.4 418.4 L789.1 418.5 L789.8 418.5 L790.5 418.5 L791.2 418.6 L791.9 418.6 L792.6 418.6 L793.3 418.6 L794.0 418.6 L794.7 418.6 L795.4 418.5 L796.1 418.5 L796.8 418.3 L797.5 418.2 L798.2 418.0 L798.9 417.8 L799.6 417.6 L800.3 417.3 L801.0 417.0 L801.7 415.9 L802.4 413.8 L803.1 411.5 L803.8 409.6 L804.5 409.0 L805.2 409.9 L805.9 411.5 L806.6 412.7 L807.3 413.0 L808.0 412.7 L808.7 412.2 L809.4 411.6 L810.1 410.9 L810.8 410.0 L811.5 408.8 L812.2 407.5 L812.9 406.3 L813.6 405.4 L814.3 404.8 L815.0 404.5 L815.7 404.2 L816.4 404.0 L817.1 403.5 L817.8 402.5 L818.5 401.0 L819.2 399.7 L819.9 399.0 L820.6 399.6 L821.3 401.2 L822.0 402.0 L822.7 401.7 L823.4 401.2 L824.1 401.0 L824.8 401.6 L825.5 402.9 L826.2 404.4 L826.9 405.9 L827.6 406.8 L828.3 407.0 L829.0 406.7 L829.7 406.2 L830.4 405.7 L831.1 405.3 L831.8 405.0 L832.5 405.2 L833.2 405.9 L833.9 406.9 L834.6 407.9 L835.3 408.7 L836.0 409.0 L836.7 409.0 L837.4 409.0 L838.1 409.0 L838.8 409.0 L839.5 409.0 L840.2 409.0 L840.9 409.4 L841.6 410.1 L842.3 410.8 L843.0 411.5 L843.7 412.0 L844.4 412.0 L845.1 411.9 L845.8 411.6 L846.5 411.3 L847.2 410.9 L847.9 410.4 L848.6 409.9 L849.3 409.3 L850.0 408.1 L850.7 406.4 L851.4 404.6 L852.1 402.8 L852.8 401.3 L853.5 400.2 L854.2 399.1 L854.9 398.1 L855.6 397.5 L856.3 397.5 L857.0 398.1 L857.7 399.1 L858.4 400.1 L859.1 400.8 L859.8 400.8 L860.5 398.2 L861.2 394.1 L861.9 390.6 L862.6 389.8 L863.3 392.8 L864.0 397.5 L864.7 401.3 L865.4 402.3 L866.1 402.8 L866.8 403.1 L867.5 403.3 L868.2 403.5 L868.9 403.9 L869.6 404.6 L870.3 405.5 L871.0 406.5 L871.7 407.6 L872.4 408.5 L873.1 409.1 L873.8 409.5 L874.5 409.9 L875.2 410.2 L875.9 410.6 L876.6 410.8 L877.3 410.9 L878.0 411.0 L878.7 410.8 L879.4 410.2 L880.1 409.3 L880.8 408.2 L881.5 407.0 L882.2 405.6 L882.9 403.4 L883.6 400.4 L884.3 397.2 L885.0 394.0 L885.7 390.5 L886.4 386.6 L887.1 383.0 L887.8 380.4 L888.5 379.1 L889.2 378.2 L889.9 378.2 L890.6 379.6 L891.3 381.6 L892.0 382.9 L892.7 382.4 L893.4 380.1 L894.1 376.9 L894.8 373.8 L895.5 371.1 L896.2 368.2 L896.9 365.6 L897.6 364.0 L898.3 363.3 L899.0 362.9 L899.7 362.6 L900.4 362.1 L901.1 361.3 L901.8 358.9 L902.5 355.0 L903.2 350.7 L903.9 346.7 L904.6 342.8 L905.3 338.7 L906.0 334.8 L906.7 331.6 L907.4 329.3 L908.1 327.3 L908.8 325.6 L909.5 324.1 L910.2 322.6 L910.9 320.9 L911.6 319.0 L912.3 316.8 L913.0 314.6 L913.7 312.8 L914.4 311.8 L915.1 311.2 L915.8 310.9 L916.5 312.1 L917.2 314.9 L917.9 318.3 L918.6 322.3 L919.3 327.3 L920.0 332.8 L920.7 338.0 L921.4 343.3 L922.1 348.7 L922.8 354.0 L923.5 358.7 L924.2 362.7 L924.9 366.4 L925.6 369.8 L926.3 372.8 L927.0 375.3 L927.7 377.4 L928.4 379.4 L929.1 381.1 L929.8 382.7 L930.5 384.2 L931.2 385.7 L931.9 387.1 L932.6 388.6 L933.3 390.1 L934.0 391.7 L934.7 393.4 L935.4 395.1 L936.1 396.8 L936.8 398.4 L937.5 399.8 L938.2 401.1 L938.9 402.1 L939.6 403.2 L940.3 404.2 L941.0 405.2 L941.7 406.2 L942.4 406.9 L943.1 407.6 L943.8 408.0 L944.5 408.1 L945.2 407.8 L945.9 407.0 L946.6 406.0 L947.3 404.9 L948.0 404.0 L948.7 403.3 L949.4 402.5 L950.1 401.8 L950.8 401.4 L951.5 401.3 L952.2 401.6 L952.9 402.1 L953.6 402.8 L954.3 403.7 L955.0 404.6 L955.7 405.7 L956.4 406.8 L957.1 408.2 L957.8 410.0 L958.5 412.2 L959.2 414.6 L959.9 417.0 L960.6 419.4 L961.3 421.9 L962.0 424.8 L962.7 427.8 L963.4 430.6 L964.1 432.9 L964.8 434.3 L965.5 434.9 L966.2 435.3 L966.9 435.5 L967.6 435.4 L968.3 434.9 L969.0 434.1 L969.7 433.5 L970.4 433.0 L971.1 433.1 L971.8 433.8 L972.5 435.0 L973.2 436.3 L973.9 437.7 L974.6 438.8 L975.3 440.0 L976.0 441.2 L976.7 442.6 L977.4 443.9 L978.1 445.1 L978.8 446.2 L979.5 447.1 L980.2 447.8 L980.9 448.2 L981.6 448.1 L982.3 447.5 L983.0 446.5 L983.7 445.3 L984.4 444.3 L985.1 443.3 L985.8 442.1 L986.5 441.1 L987.2 440.8 L987.9 442.3 L988.6 445.1 L989.3 448.1 L990.0 450.1 L990.7 451.9 L991.4 453.5 L992.1 454.4 L992.8 454.4 L993.5 453.7 L994.2 452.7 L994.9 451.8 L995.6 451.4 L996.3 452.0 L997.0 453.6 L997.7 455.3 L998.4 456.5 L999.1 456.7 L999.8 456.3 L1000.5 455.7 L1001.2 455.0 L1001.9 454.4 L1002.6 454.0 L1003.3 453.9 L1004.0 454.3 L1004.7 454.8 L1005.4 455.3 L1006.1 455.6 L1006.8 455.4 L1007.5 455.0 L1008.2 454.5 L1008.9 454.2 L1009.6 454.2 L1010.3 455.1 L1011.0 456.5 L1011.7 458.2 L1012.4 459.6 L1013.1 460.8 L1013.8 461.8 L1014.5 462.9 L1015.2 463.9 L1015.9 464.9 L1016.6 466.0 L1017.3 467.0 L1018.0 468.1 L1018.7 469.2 L1019.4 470.4 L1020.1 471.7 L1020.8 473.2 L1021.5 474.7 L1022.2 476.2 L1022.9 477.5 L1023.6 478.7 L1024.3 479.5 L1025.0 479.9 L1025.7 479.8 L1026.4 479.4 L1027.1 478.9 L1027.8 478.2 L1028.5 477.7 L1029.2 477.3 L1029.9 477.1 L1030.6 477.2 L1031.3 479.5 L1032.0 483.6 L1032.7 487.7 L1033.4 489.8 L1034.1 491.0 L1034.8 491.7 L1035.5 492.2 L1036.2 493.1 L1036.9 493.9 L1037.6 494.4 L1038.3 495.0 L1039.0 495.8 L1039.7 496.3 L1040.4 496.6 L1041.1 496.9 L1041.8 497.4 L1042.5 498.1 L1043.2 499.1 L1043.9 500.2 L1044.6 501.3 L1045.3 502.1 L1046.0 502.7 L1046.7 503.0 L1047.4 500.4 L1048.1 494.6 L1048.8 489.1 L1049.5 484.5 L1050.2 480.1 L1050.9 478.0 L1051.6 477.7 L1052.3 477.5 L1053.0 477.2 L1053.7 476.9 L1054.4 477.9 L1055.1 482.0 L1055.8 487.2 L1056.5 491.4 L1057.2 495.4 L1057.9 499.4 L1058.6 502.5 L1059.3 504.1 L1060.0 505.2 L1060.7 505.9 L1061.4 506.3 L1062.1 506.7 L1062.8 506.9 L1063.5 507.0 L1064.2 507.1 L1064.9 507.2 L1065.6 507.3 L1066.3 507.4 L1067.0 507.4 L1067.7 507.3 L1068.4 507.3 L1069.1 507.2 L1069.8 507.5 L1070.5 508.1 L1071.2 509.1 L1071.9 511.1 L1072.6 513.3 L1073.3 514.3 L1074.0 514.8 L1074.7 515.2 L1075.4 515.2 L1076.1 515.6 L1076.8 516.3 L1077.5 516.8 L1078.2 517.2 L1078.9 517.5 L1079.6 517.9 L1080.3 518.6 L1081.0 519.2 L1081.7 519.5 L1082.4 519.5 L1083.1 518.8 L1083.8 518.2 L1084.5 518.2 L1085.2 518.2 L1085.9 518.2 L1086.6 518.8 L1087.3 519.8 L1088.0 521.0 L1088.7 522.3 L1089.4 523.0 L1090.1 523.5 L1090.8 524.2 L1091.5 524.9 L1092.2 525.5 L1092.9 526.1 L1093.6 526.7 L1094.3 527.3 L1095.0 527.9 L1095.7 528.2 L1096.4 528.4 L1097.1 528.6 L1097.8 529.0 L1098.5 529.5 L1099.2 530.0 L1099.9 530.1 L1100.6 530.3 L1101.3 530.7 L1102.0 531.0 L1102.7 531.0 L1103.4 531.2 L1104.1 531.8 L1104.8 532.3 L1105.5 532.8 L1106.2 533.4 L1106.9 534.0 L1107.6 534.5 L1108.3 535.1 L1109.0 536.1 L1109.7 537.0 L1110.4 537.7 L1111.0 538.3"/>
<path d="M113.0 497.3 L113.5 497.3 L114.0 497.3 L114.5 497.3 L115.0 497.2 L115.5 497.2 L116.0 497.2 L116.5 497.2 L117.0 497.2 L117.5 497.2 L118.0 497.2 L118.5 497.2 L119.0 497.2 L119.5 497.1 L120.0 497.1 L120.5 497.1 L121.0 497.1 L121.5 497.1 L122.0 497.1 L122.5 497.1 L123.0 497.1 L123.5 497.0 L124.0 497.0 L124.5 497.0 L125.0 497.0 L125.5 497.0 L126.0 497.0 L126.5 497.0 L127.0 497.0 L127.5 497.0 L128.0 497.0 L128.5 496.9 L129.0 496.9 L129.5 496.9 L130.0 496.9 L130.5 496.9 L131.0 496.9 L131.5 496.9 L132.0 496.9 L132.5 496.9 L133.0 496.9 L133.5 496.9 L134.0 497.0 L134.5 496.8 L135.0 496.7 L135.5 496.5 L136.0 496.6 L136.5 496.9 L137.0 497.2 L137.5 497.5 L138.0 496.9 L138.5 496.4 L139.0 495.8 L139.5 495.5 L140.0 495.3 L140.5 495.1 L141.0 495.0 L141.5 495.0 L142.0 495.0 L142.5 495.0 L143.0 495.4 L143.5 496.2 L144.0 496.9 L144.5 497.6 L145.0 497.2 L145.5 496.7 L146.0 496.2 L146.5 495.9 L147.0 495.8 L147.5 495.7 L148.0 495.6 L148.5 496.3 L149.0 496.9 L149.5 497.5 L150.0 497.4 L150.5 496.8 L151.0 496.1 L151.5 495.5 L152.0 496.3 L152.5 497.1 L153.0 497.9 L153.5 497.6 L154.0 496.0 L154.5 494.5 L155.0 493.0 L155.5 494.1 L156.0 495.2 L156.5 496.3 L157.0 496.6 L157.5 496.2 L158.0 495.7 L158.5 495.2 L159.0 495.2 L159.5 495.2 L160.0 495.2 L160.5 495.6 L161.0 496.3 L161.5 497.0 L162.0 497.8 L162.5 497.1 L163.0 496.4 L163.5 495.7 L164.0 495.7 L164.5 496.3 L165.0 497.0 L165.5 497.6 L166.0 497.1 L166.5 496.5 L167.0 495.9 L167.5 495.9 L168.0 496.5 L168.5 497.0 L169.0 497.6 L169.5 496.8 L170.0 496.1 L170.5 495.4 L171.0 495.5 L171.5 496.4 L172.0 497.3 L172.5 498.2 L173.0 497.5 L173.5 496.8 L174.0 496.1 L174.5 496.2 L175.0 496.9 L175.5 497.7 L176.0 498.5 L176.5 497.7 L177.0 496.9 L177.5 496.1 L178.0 495.9 L178.5 496.5 L179.0 497.0 L179.5 497.6 L180.0 496.9 L180.5 496.2 L181.0 495.5 L181.5 495.5 L182.0 496.1 L182.5 496.7 L183.0 497.3 L183.5 496.7 L184.0 496.2 L184.5 495.6 L185.0 495.7 L185.5 496.3 L186.0 496.9 L186.5 497.5 L187.0 497.0 L187.5 496.4 L188.0 495.8 L188.5 496.0 L189.0 497.0 L189.5 498.0 L190.0 499.0 L190.5 498.9 L191.0 498.9 L191.5 498.8 L192.0 498.7 L192.5 498.5 L193.0 498.4 L193.5 498.3 L194.0 497.6 L194.5 496.9 L195.0 496.2 L195.5 496.4 L196.0 497.5 L196.5 498.7 L197.0 499.8 L197.5 498.6 L198.0 497.4 L198.5 496.1 L199.0 496.0 L199.5 497.0 L200.0 498.0 L200.5 499.0 L201.0 499.0 L201.5 499.1 L202.0 499.2 L202.5 499.0 L203.0 498.6 L203.5 498.2 L204.0 497.8 L204.5 497.0 L205.0 496.2 L205.5 495.3 L206.0 495.2 L206.5 495.8 L207.0 496.4 L207.5 497.0 L208.0 496.3 L208.5 495.5 L209.0 494.7 L209.5 494.8 L210.0 495.8 L210.5 496.7 L211.0 497.7 L211.5 497.1 L212.0 496.6 L212.5 496.0 L213.0 496.0 L213.5 496.6 L214.0 497.1 L214.5 497.7 L215.0 497.2 L215.5 496.7 L216.0 496.2 L216.5 496.0 L217.0 495.9 L217.5 495.8 L218.0 495.7 L218.5 495.9 L219.0 496.1 L219.5 496.2 L220.0 496.1 L220.5 495.8 L221.0 495.6 L221.5 495.3 L222.0 495.4 L222.5 495.6 L223.0 495.8 L223.5 495.7 L224.0 495.5 L224.5 495.2 L225.0 495.0 L225.5 495.2 L226.0 495.4 L226.5 495.6 L227.0 495.5 L227.5 495.2 L228.0 494.8 L228.5 494.5 L229.0 494.7 L229.5 494.9 L230.0 495.1 L230.5 495.0 L231.0 494.7 L231.5 494.4 L232.0 494.0 L232.5 494.2 L233.0 494.4 L233.5 494.6 L234.0 494.6 L234.5 494.4 L235.0 494.2 L235.5 493.9 L236.0 494.0 L236.5 494.1 L237.0 494.2 L237.5 494.1 L238.0 493.8 L238.5 493.6 L239.0 493.3 L239.5 493.5 L240.0 493.6 L240.5 493.7 L241.0 493.7 L241.5 493.5 L242.0 493.3 L242.5 493.2 L243.0 493.2 L243.5 493.3 L244.0 493.3 L244.5 493.3 L245.0 493.2 L245.5 493.1 L246.0 493.0 L246.5 493.1 L247.0 493.1 L247.5 493.2 L248.0 493.1 L248.5 493.0 L249.0 492.8 L249.5 492.7 L250.0 492.7 L250.5 492.7 L251.0 492.7 L251.5 492.6 L252.0 492.6 L252.5 492.5 L253.0 492.4 L253.5 492.4 L254.0 492.4 L254.5 492.3 L255.0 492.3 L255.5 492.3 L256.0 492.2 L256.5 492.2 L257.0 492.2 L257.5 492.1 L258.0 492.1 L258.5 492.0 L259.0 492.0 L259.5 492.0 L260.0 492.0 L260.5 491.9 L261.0 491.9 L261.5 491.9 L262.0 491.9 L262.7 491.8 L263.4 491.8 L264.1 491.8 L264.8 491.8 L265.5 491.7 L266.2 491.7 L266.9 491.7 L267.6 491.6 L268.3 491.6 L269.0 491.6 L269.7 491.6 L270.4 491.6 L271.1 491.5 L271.8 491.5 L272.5 491.5 L273.2 491.5 L273.9 491.5 L274.6 491.5 L275.3 491.5 L276.0 491.5 L276.7 491.5 L277.4 491.5 L278.1 491.5 L278.8 491.5 L279.5 491.6 L280.2 491.6 L280.9 491.6 L281.6 491.6 L282.3 491.6 L283.0 491.7 L283.7 491.7 L284.4 491.7 L285.1 491.8 L285.8 491.8 L286.5 491.8 L287.2 491.9 L287.9 491.9 L288.6 491.9 L289.3 492.0 L290.0 492.0 L290.7 492.0 L291.4 492.1 L292.1 492.1 L292.8 492.1 L293.5 492.2 L294.2 492.2 L294.9 492.2 L295.6 492.3 L296.3 492.3 L297.0 492.3 L297.7 492.3 L298.4 492.4 L299.1 492.4 L299.8 492.4 L300.5 492.4 L301.2 492.5 L301.9 492.5 L302.6 492.5 L303.3 492.5 L304.0 492.6 L304.7 492.6 L305.4 492.6 L306.1 492.6 L306.8 492.7 L307.5 492.7 L308.2 492.7 L308.9 492.7 L309.6 492.7 L310.3 492.8 L311.0 492.8 L311.7 492.8 L312.4 492.8 L313.1 492.9 L313.8 492.9 L314.5 492.9 L315.2 492.9 L315.9 493.0 L316.6 493.0 L317.3 493.0 L318.0 493.1 L318.7 493.1 L319.4 493.1 L320.1 493.2 L320.8 493.2 L321.5 493.2 L322.2 493.2 L322.9 493.3 L323.6 493.3 L324.3 493.4 L325.0 493.4 L325.7 493.4 L326.4 493.5 L327.1 493.5 L327.8 493.6 L328.5 493.6 L329.2 493.7 L329.9 493.7 L330.6 493.8 L331.3 493.8 L332.0 493.9 L332.7 493.9 L333.4 494.0 L334.1 494.1 L334.8 494.1 L335.5 494.2 L336.2 494.2 L336.9 494.3 L337.6 494.4 L338.3 494.4 L339.0 494.5 L339.7 494.5 L340.4 494.6 L341.1 494.6 L341.8 494.7 L342.5 494.7 L343.2 494.8 L343.9 494.8 L344.6 494.9 L345.3 494.9 L346.0 495.0 L346.7 495.0 L347.4 495.1 L348.1 495.1 L348.8 495.1 L349.5 495.2 L350.2 495.2 L350.9 495.2 L351.6 495.3 L352.3 495.3 L353.0 495.3 L353.7 495.4 L354.4 495.4 L355.1 495.4 L355.8 495.4 L356.5 495.5 L357.2 495.5 L357.9 495.5 L358.6 495.6 L359.3 495.6 L360.0 495.6 L360.7 495.6 L361.4 495.6 L362.1 495.7 L362.8 495.7 L363.5 495.7 L364.2 495.7 L364.9 495.7 L365.6 495.7 L366.3 495.7 L367.0 495.7 L367.7 495.7 L368.4 495.7 L369.1 495.6 L369.8 495.6 L370.5 495.5 L371.2 495.5 L371.9 495.4 L372.6 495.4 L373.3 495.3 L374.0 495.2 L374.7 495.2 L375.4 495.1 L376.1 495.0 L376.8 494.9 L377.5 494.8 L378.2 494.7 L378.9 494.6 L379.6 494.5 L380.3 494.4 L381.0 494.3 L381.7 494.2 L382.4 494.0 L383.1 493.9 L383.8 493.7 L384.5 493.5 L385.2 493.2 L385.9 493.0 L386.6 492.7 L387.3 492.3 L388.0 492.0 L388.7 491.6 L389.4 491.3 L390.1 490.9 L390.8 490.5 L391.5 490.0 L392.2 489.6 L392.9 489.2 L393.6 488.7 L394.3 488.1 L395.0 487.4 L395.7 486.7 L396.4 485.9 L397.1 485.1 L397.8 484.4 L398.5 483.6 L399.2 482.8 L399.9 482.1 L400.6 481.4 L401.3 480.7 L402.0 480.0 L402.7 479.3 L403.4 478.6 L404.1 478.1 L404.8 477.7 L405.5 477.4 L406.2 477.3 L406.9 477.1 L407.6 477.1 L408.3 477.3 L409.0 477.6 L409.7 478.1 L410.4 478.6 L411.1 479.1 L411.8 479.7 L412.5 480.6 L413.2 481.5 L413.9 482.4 L414.6 483.2 L415.3 483.8 L416.0 484.0 L416.7 483.9 L417.4 483.5 L418.1 483.0 L418.8 482.4 L419.5 481.9 L420.2 481.5 L420.9 481.1 L421.6 480.8 L422.3 480.4 L423.0 480.2 L423.7 480.0 L424.4 480.0 L425.1 480.1 L425.8 480.3 L426.5 480.6 L427.2 480.9 L427.9 481.2 L428.6 481.8 L429.3 482.6 L430.0 483.3 L430.7 484.0 L431.4 484.6 L432.1 485.2 L432.8 485.9 L433.5 486.5 L434.2 487.1 L434.9 487.6 L435.6 488.1 L436.3 488.5 L437.0 488.7 L437.7 488.9 L438.4 489.0 L439.1 489.2 L439.8 489.3 L440.5 489.4 L441.2 489.5 L441.9 489.6 L442.6 489.7 L443.3 489.8 L444.0 489.9 L444.7 490.0 L445.4 490.0 L446.1 490.1 L446.8 490.1 L447.5 490.1 L448.2 490.1 L448.9 490.1 L449.6 490.1 L450.3 490.0 L451.0 490.0 L451.7 489.9 L452.4 489.9 L453.1 489.8 L453.8 489.7 L454.5 489.7 L455.2 489.6 L455.9 489.5 L456.6 489.4 L457.3 489.3 L458.0 489.2 L458.7 489.1 L459.4 489.0 L460.1 488.9 L460.8 488.8 L461.5 488.7 L462.2 488.5 L462.9 488.5 L463.6 488.4 L464.3 488.3 L465.0 488.2 L465.7 488.1 L466.4 488.0 L467.1 488.0 L467.8 487.9 L468.5 487.8 L469.2 487.8 L469.9 487.7 L470.6 487.6 L471.3 487.6 L472.0 487.5 L472.7 487.4 L473.4 487.4 L474.1 487.3 L474.8 487.3 L475.5 487.2 L476.2 487.1 L476.9 487.1 L477.6 487.0 L478.3 487.0 L479.0 486.9 L479.7 486.8 L480.4 486.8 L481.1 486.7 L481.8 486.7 L482.5 486.6 L483.2 486.6 L483.9 486.5 L484.6 486.5 L485.3 486.4 L486.0 486.4 L486.7 486.3 L487.4 486.3 L488.1 486.2 L488.8 486.2 L489.5 486.1 L490.2 486.1 L490.9 486.0 L491.6 486.0 L492.3 486.0 L493.0 485.9 L493.7 485.9 L494.4 485.8 L495.1 485.8 L495.8 485.8 L496.5 485.7 L497.2 485.7 L497.9 485.6 L498.6 485.6 L499.3 485.6 L500.0 485.5 L500.7 485.5 L501.4 485.4 L502.1 485.4 L502.8 485.4 L503.5 485.3 L504.2 485.3 L504.9 485.3 L505.6 485.2 L506.3 485.2 L507.0 485.2 L507.7 485.1 L508.4 485.1 L509.1 485.1 L509.8 485.0 L510.5 485.0 L511.2 485.0 L511.9 484.9 L512.6 484.9 L513.3 484.9 L514.0 484.9 L514.7 484.9 L515.4 484.9 L516.1 484.8 L516.8 484.8 L517.5 484.8 L518.2 484.8 L518.9 484.8 L519.6 484.8 L520.3 484.8 L521.0 484.8 L521.7 484.8 L522.4 484.8 L523.1 484.8 L523.8 484.8 L524.5 484.8 L525.2 484.8 L525.9 484.8 L526.6 484.8 L527.3 484.9 L528.0 484.9 L528.7 484.9 L529.4 484.9 L530.1 484.9 L530.8 484.9 L531.5 484.9 L532.2 484.9 L532.9 485.0 L533.6 485.0 L534.3 485.0 L535.0 485.0 L535.7 485.0 L536.4 485.0 L537.1 485.1 L537.8 485.1 L538.5 485.1 L539.2 485.1 L539.9 485.1 L540.6 485.1 L541.3 485.2 L542.0 485.2 L542.7 485.2 L543.4 485.2 L544.1 485.2 L544.8 485.3 L545.5 485.3 L546.2 485.3 L546.9 485.3 L547.6 485.3 L548.3 485.3 L549.0 485.4 L549.7 485.4 L550.4 485.4 L551.1 485.4 L551.8 485.4 L552.5 485.4 L553.2 485.5 L553.9 485.5 L554.6 485.5 L555.3 485.5 L556.0 485.5 L556.7 485.6 L557.4 485.6 L558.1 485.6 L558.8 485.6 L559.5 485.6 L560.2 485.7 L560.9 485.7 L561.6 485.7 L562.3 485.7 L563.0 485.8 L563.7 485.8 L564.4 485.8 L565.1 485.9 L565.8 485.9 L566.5 485.9 L567.2 485.9 L567.9 486.0 L568.6 486.0 L569.3 486.0 L570.0 486.1 L570.7 486.1 L571.4 486.1 L572.1 486.2 L572.8 486.2 L573.5 486.3 L574.2 486.3 L574.9 486.4 L575.6 486.4 L576.3 486.5 L577.0 486.5 L577.7 486.6 L578.4 486.7 L579.1 486.7 L579.8 486.8 L580.5 486.9 L581.2 486.9 L581.9 487.0 L582.6 487.1 L583.3 487.2 L584.0 487.2 L584.7 487.3 L585.4 487.4 L586.1 487.4 L586.8 487.5 L587.5 487.6 L588.2 487.7 L588.9 487.7 L589.6 487.8 L590.3 487.9 L591.0 488.0 L591.7 488.1 L592.4 488.1 L593.1 488.2 L593.8 488.3 L594.5 488.4 L595.2 488.5 L595.9 488.6 L596.6 488.7 L597.3 488.8 L598.0 488.9 L598.7 488.9 L599.4 489.0 L600.1 489.1 L600.8 489.2 L601.5 489.3 L602.2 489.4 L602.9 489.5 L603.6 489.6 L604.3 489.7 L605.0 489.8 L605.7 489.9 L606.4 489.9 L607.1 490.0 L607.8 490.1 L608.5 490.2 L609.2 490.3 L609.9 490.3 L610.6 490.4 L611.3 490.5 L612.0 490.6 L612.7 490.6 L613.4 490.7 L614.1 490.8 L614.8 490.8 L615.5 490.9 L616.2 491.0 L616.9 491.0 L617.6 491.1 L618.3 491.2 L619.0 491.3 L619.7 491.3 L620.4 491.4 L621.1 491.5 L621.8 491.5 L622.5 491.6 L623.2 491.7 L623.9 491.7 L624.6 491.8 L625.3 491.8 L626.0 491.9 L626.7 492.0 L627.4 492.0 L628.1 492.1 L628.8 492.1 L629.5 492.2 L630.2 492.3 L630.9 492.3 L631.6 492.4 L632.3 492.4 L633.0 492.5 L633.7 492.5 L634.4 492.5 L635.1 492.6 L635.8 492.6 L636.5 492.7 L637.2 492.7 L637.9 492.7 L638.6 492.8 L639.3 492.8 L640.0 492.8 L640.7 492.8 L641.4 492.8 L642.1 492.9 L642.8 492.9 L643.5 492.9 L644.2 492.9 L644.9 492.9 L645.6 493.0 L646.3 493.0 L647.0 493.0 L647.7 493.0 L648.4 493.0 L649.1 493.1 L649.8 493.1 L650.5 493.1 L651.2 493.1 L651.9 493.1 L652.6 493.1 L653.3 493.1 L654.0 493.2 L654.7 493.2 L655.4 493.2 L656.1 493.2 L656.8 493.2 L657.5 493.2 L658.2 493.2 L658.9 493.2 L659.6 493.3 L660.3 493.3 L661.0 493.3 L661.7 493.3 L662.4 493.3 L663.1 493.3 L663.8 493.3 L664.5 493.3 L665.2 493.3 L665.9 493.3 L666.6 493.3 L667.3 493.3 L668.0 493.3 L668.7 493.3 L669.4 493.3 L670.1 493.3 L670.8 493.3 L671.5 493.3 L672.2 493.2 L672.9 493.2 L673.6 493.2 L674.3 493.2 L675.0 493.2 L675.7 493.1 L676.4 493.1 L677.1 493.1 L677.8 493.1 L678.5 493.0 L679.2 493.0 L679.9 493.0 L680.6 492.9 L681.3 492.9 L682.0 492.9 L682.7 492.8 L683.4 492.8 L684.1 492.8 L684.8 492.7 L685.5 492.7 L686.2 492.6 L686.9 492.6 L687.6 492.5 L688.3 492.5 L689.0 492.5 L689.7 492.4 L690.4 492.4 L691.1 492.3 L691.8 492.3 L692.5 492.2 L693.2 492.1 L693.9 492.0 L694.6 491.9 L695.3 491.8 L696.0 491.7 L696.7 491.6 L697.4 491.5 L698.1 491.4 L698.8 491.3 L699.5 491.2 L700.2 491.0 L700.9 490.9 L701.6 490.8 L702.3 490.7 L703.0 490.5 L703.7 490.4 L704.4 490.3 L705.1 490.2 L705.8 490.0 L706.5 489.9 L707.2 489.8 L707.9 489.7 L708.6 489.5 L709.3 489.4 L710.0 489.3 L710.7 489.1 L711.4 489.0 L712.1 488.8 L712.8 488.7 L713.5 488.5 L714.2 488.4 L714.9 488.2 L715.6 488.1 L716.3 487.9 L717.0 487.8 L717.7 487.6 L718.4 487.4 L719.1 487.2 L719.8 487.1 L720.5 486.9 L721.2 486.7 L721.9 486.5 L722.6 486.3 L723.3 486.1 L724.0 485.9 L724.7 485.7 L725.4 485.5 L726.1 485.3 L726.8 485.1 L727.5 484.8 L728.2 484.6 L728.9 484.3 L729.6 484.0 L730.3 483.8 L731.0 483.5 L731.7 483.1 L732.4 482.8 L733.1 482.5 L733.8 482.2 L734.5 481.8 L735.2 481.4 L735.9 481.0 L736.6 480.4 L737.3 479.8 L738.0 479.2 L738.7 478.4 L739.4 477.4 L740.1 475.8 L740.8 473.5 L741.5 470.6 L742.2 467.1 L742.9 461.6 L743.6 452.3 L744.3 443.1 L745.0 435.0 L745.7 428.5 L746.4 428.6 L747.1 433.8 L747.8 440.4 L748.5 446.2 L749.2 452.5 L749.9 457.5 L750.6 460.6 L751.3 463.2 L752.0 465.4 L752.7 467.3 L753.4 468.8 L754.1 470.2 L754.8 471.5 L755.5 472.7 L756.2 473.9 L756.9 474.9 L757.6 475.7 L758.3 476.2 L759.0 476.4 L759.7 476.4 L760.4 476.3 L761.1 476.1 L761.8 475.9 L762.5 475.7 L763.2 475.4 L763.9 475.0 L764.6 474.6 L765.3 474.1 L766.0 472.3 L766.7 469.9 L767.4 467.6 L768.1 466.2 L768.8 466.3 L769.5 468.0 L770.2 470.2 L770.9 471.9 L771.6 472.7 L772.3 473.4 L773.0 473.9 L773.7 473.9 L774.4 471.2 L775.1 466.3 L775.8 461.7 L776.5 460.0 L777.2 461.0 L777.9 462.7 L778.6 464.1 L779.3 464.3 L780.0 463.7 L780.7 463.0 L781.4 462.4 L782.1 463.2 L782.8 466.2 L783.5 469.9 L784.2 472.6 L784.9 473.6 L785.6 474.3 L786.3 474.9 L787.0 475.4 L787.7 475.6 L788.4 475.6 L789.1 475.6 L789.8 475.5 L790.5 475.5 L791.2 475.4 L791.9 475.3 L792.6 475.2 L793.3 475.1 L794.0 475.0 L794.7 474.9 L795.4 474.8 L796.1 474.6 L796.8 474.4 L797.5 474.2 L798.2 474.0 L798.9 473.7 L799.6 473.4 L800.3 473.0 L801.0 472.6 L801.7 471.4 L802.4 469.1 L803.1 466.6 L803.8 464.7 L804.5 464.0 L805.2 465.0 L805.9 466.8 L806.6 468.3 L807.3 468.6 L808.0 468.3 L808.7 467.8 L809.4 467.2 L810.1 466.5 L810.8 465.6 L811.5 464.4 L812.2 463.0 L812.9 461.8 L813.6 460.9 L814.3 460.5 L815.0 460.2 L815.7 460.1 L816.4 459.9 L817.1 459.5 L817.8 458.4 L818.5 456.8 L819.2 455.2 L819.9 454.4 L820.6 455.1 L821.3 456.7 L822.0 457.6 L822.7 457.3 L823.4 456.7 L824.1 456.4 L824.8 457.0 L825.5 458.2 L826.2 459.6 L826.9 461.0 L827.6 461.8 L828.3 462.0 L829.0 461.8 L829.7 461.5 L830.4 461.1 L831.1 460.8 L831.8 460.6 L832.5 460.7 L833.2 461.3 L833.9 462.2 L834.6 463.0 L835.3 463.7 L836.0 464.0 L836.7 464.0 L837.4 464.0 L838.1 464.0 L838.8 464.0 L839.5 464.0 L840.2 464.0 L840.9 464.4 L841.6 465.1 L842.3 465.8 L843.0 466.5 L843.7 467.0 L844.4 467.0 L845.1 466.9 L845.8 466.7 L846.5 466.4 L847.2 466.1 L847.9 465.7 L848.6 465.3 L849.3 464.7 L850.0 463.6 L850.7 462.1 L851.4 460.4 L852.1 458.7 L852.8 457.3 L853.5 456.2 L854.2 455.1 L854.9 454.1 L855.6 453.5 L856.3 453.5 L857.0 454.1 L857.7 455.1 L858.4 456.1 L859.1 456.8 L859.8 456.8 L860.5 454.2 L861.2 450.1 L861.9 446.6 L862.6 445.8 L863.3 448.9 L864.0 453.6 L864.7 457.4 L865.4 458.2 L866.1 458.5 L866.8 458.7 L867.5 458.9 L868.2 459.1 L868.9 459.3 L869.6 459.9 L870.3 460.9 L871.0 462.2 L871.7 463.4 L872.4 464.4 L873.1 465.1 L873.8 465.5 L874.5 465.9 L875.2 466.3 L875.9 466.6 L876.6 466.8 L877.3 466.9 L878.0 467.0 L878.7 466.8 L879.4 466.4 L880.1 465.7 L880.8 464.8 L881.5 463.8 L882.2 462.6 L882.9 460.7 L883.6 458.0 L884.3 455.0 L885.0 452.0 L885.7 448.6 L886.4 444.7 L887.1 441.1 L887.8 438.5 L888.5 437.1 L889.2 436.2 L889.9 436.2 L890.6 437.5 L891.3 439.5 L892.0 440.8 L892.7 440.6 L893.4 438.6 L894.1 435.6 L894.8 432.3 L895.5 429.6 L896.2 426.6 L896.9 423.7 L897.6 421.5 L898.3 420.5 L899.0 420.1 L899.7 419.8 L900.4 419.5 L901.1 419.1 L901.8 418.2 L902.5 415.2 L903.2 410.5 L903.9 405.5 L904.6 398.3 L905.3 391.1 L906.0 387.4 L906.7 385.6 L907.4 384.4 L908.1 383.4 L908.8 382.1 L909.5 380.5 L910.2 378.7 L910.9 376.7 L911.6 374.8 L912.3 372.9 L913.0 370.9 L913.7 368.8 L914.4 367.2 L915.1 366.4 L915.8 365.9 L916.5 365.8 L917.2 367.8 L917.9 371.6 L918.6 375.9 L919.3 380.9 L920.0 386.9 L920.7 393.3 L921.4 399.4 L922.1 405.8 L922.8 412.3 L923.5 417.9 L924.2 421.8 L924.9 425.1 L925.6 427.9 L926.3 430.3 L927.0 432.4 L927.7 434.2 L928.4 435.7 L929.1 437.0 L929.8 438.3 L930.5 439.5 L931.2 440.8 L931.9 442.2 L932.6 443.9 L933.3 445.9 L934.0 448.0 L934.7 450.3 L935.4 452.5 L936.1 454.5 L936.8 456.3 L937.5 457.7 L938.2 458.9 L938.9 460.0 L939.6 461.1 L940.3 462.2 L941.0 463.1 L941.7 464.0 L942.4 464.7 L943.1 465.2 L943.8 465.6 L944.5 465.7 L945.2 465.3 L945.9 464.4 L946.6 463.2 L947.3 461.9 L948.0 461.0 L948.7 460.3 L949.4 459.7 L950.1 459.2 L950.8 458.9 L951.5 458.8 L952.2 459.1 L952.9 459.7 L953.6 460.5 L954.3 461.5 L955.0 462.6 L955.7 463.7 L956.4 464.9 L957.1 466.2 L957.8 467.9 L958.5 469.8 L959.2 471.9 L959.9 474.1 L960.6 476.4 L961.3 479.0 L962.0 482.3 L962.7 485.9 L963.4 489.2 L964.1 491.9 L964.8 493.4 L965.5 493.8 L966.2 494.1 L966.9 494.2 L967.6 494.1 L968.3 493.6 L969.0 493.0 L969.7 492.3 L970.4 491.9 L971.1 492.0 L971.8 492.8 L972.5 493.9 L973.2 495.4 L973.9 496.8 L974.6 498.0 L975.3 499.1 L976.0 500.4 L976.7 501.7 L977.4 503.0 L978.1 504.2 L978.8 505.3 L979.5 506.3 L980.2 506.9 L980.9 507.3 L981.6 507.2 L982.3 506.6 L983.0 505.6 L983.7 504.5 L984.4 503.4 L985.1 502.3 L985.8 501.0 L986.5 499.9 L987.2 499.5 L987.9 501.1 L988.6 504.1 L989.3 507.1 L990.0 509.2 L990.7 511.0 L991.4 512.6 L992.1 513.6 L992.8 513.6 L993.5 512.8 L994.2 511.8 L994.9 510.9 L995.6 510.5 L996.3 511.2 L997.0 512.8 L997.7 514.6 L998.4 516.0 L999.1 516.2 L999.8 515.7 L1000.5 515.1 L1001.2 514.3 L1001.9 513.6 L1002.6 513.1 L1003.3 513.0 L1004.0 513.5 L1004.7 514.1 L1005.4 514.8 L1006.1 515.2 L1006.8 515.0 L1007.5 514.6 L1008.2 514.1 L1008.9 513.8 L1009.6 513.8 L1010.3 514.8 L1011.0 516.4 L1011.7 518.2 L1012.4 519.8 L1013.1 521.0 L1013.8 522.1 L1014.5 523.2 L1015.2 524.2 L1015.9 525.3 L1016.6 526.3 L1017.3 527.3 L1018.0 528.5 L1018.7 529.7 L1019.4 530.8 L1020.1 532.0 L1020.8 533.3 L1021.5 534.7 L1022.2 536.1 L1022.9 537.5 L1023.6 538.8 L1024.3 539.7 L1025.0 540.4 L1025.7 540.9 L1026.4 541.1 L1027.1 540.7 L1027.8 540.1 L1028.5 539.4 L1029.2 538.7 L1029.9 538.1 L1030.6 538.1 L1031.3 540.9 L1032.0 545.4 L1032.7 549.7 L1033.4 551.8 L1034.1 552.9 L1034.8 553.9 L1035.5 554.6 L1036.2 555.2 L1036.9 555.8 L1037.6 556.5 L1038.3 557.2 L1039.0 557.7 L1039.7 558.3 L1040.4 559.1 L1041.1 559.7 L1041.8 560.2 L1042.5 560.7 L1043.2 561.3 L1043.9 561.8 L1044.6 562.4 L1045.3 563.2 L1046.0 563.9 L1046.7 564.4 L1047.4 562.0 L1048.1 556.5 L1048.8 551.0 L1049.5 545.8 L1050.2 540.9 L1050.9 538.6 L1051.6 538.2 L1052.3 537.7 L1053.0 537.6 L1053.7 537.5 L1054.4 538.6 L1055.1 542.8 L1055.8 548.3 L1056.5 552.6 L1057.2 556.6 L1057.9 560.5 L1058.6 563.4 L1059.3 564.8 L1060.0 565.8 L1060.7 566.7 L1061.4 567.4 L1062.1 567.7 L1062.8 567.9 L1063.5 567.9 L1064.2 568.0 L1064.9 568.6 L1065.6 568.9 L1066.3 568.8 L1067.0 568.7 L1067.7 568.6 L1068.4 568.5 L1069.1 568.5 L1069.8 568.2 L1070.5 567.9 L1071.2 568.7 L1071.9 570.8 L1072.6 572.8 L1073.3 573.6 L1074.0 573.9 L1074.7 574.1 L1075.4 574.5 L1076.1 574.8 L1076.8 574.8 L1077.5 575.3 L1078.2 576.3 L1078.9 576.6 L1079.6 576.7 L1080.3 577.5 L1081.0 578.5 L1081.7 578.5 L1082.4 578.3 L1083.1 578.0 L1083.8 577.6 L1084.5 577.2 L1085.2 577.1 L1085.9 577.3 L1086.6 578.1 L1087.3 579.3 L1088.0 580.7 L1088.7 582.1 L1089.4 582.9 L1090.1 583.4 L1090.8 584.1 L1091.5 584.8 L1092.2 585.1 L1092.9 585.5 L1093.6 586.3 L1094.3 586.8 L1095.0 587.2 L1095.7 587.5 L1096.4 587.7 L1097.1 588.1 L1097.8 588.4 L1098.5 588.7 L1099.2 589.0 L1099.9 589.3 L1100.6 589.6 L1101.3 590.0 L1102.0 590.3 L1102.7 590.5 L1103.4 590.8 L1104.1 591.1 L1104.8 591.7 L1105.5 592.4 L1106.2 592.6 L1106.9 592.7 L1107.6 593.4 L1108.3 594.2 L1109.0 595.2 L1109.7 596.1 L1110.4 596.0 L1111.0 596.2"/>
<path d="M113.0 563.2 L113.5 563.1 L114.0 563.1 L114.5 563.0 L115.0 562.9 L115.5 562.8 L116.0 562.8 L116.5 562.7 L117.0 562.6 L117.5 562.6 L118.0 562.5 L118.5 562.4 L119.0 562.4 L119.5 562.3 L120.0 562.2 L120.5 562.2 L121.0 562.1 L121.5 562.0 L122.0 562.0 L122.5 561.9 L123.0 561.9 L123.5 561.8 L124.0 561.7 L124.5 561.7 L125.0 561.6 L125.5 561.6 L126.0 561.5 L126.5 561.4 L127.0 561.4 L127.5 561.3 L128.0 561.3 L128.5 561.2 L129.0 561.2 L129.5 561.1 L130.0 561.1 L130.5 561.0 L131.0 561.0 L131.5 560.9 L132.0 560.8 L132.5 560.8 L133.0 560.7 L133.5 560.6 L134.0 560.5 L134.5 560.6 L135.0 560.7 L135.5 560.8 L136.0 560.9 L136.5 561.1 L137.0 561.3 L137.5 561.5 L138.0 560.7 L138.5 559.9 L139.0 559.1 L139.5 559.0 L140.0 559.6 L140.5 560.2 L141.0 560.8 L141.5 560.1 L142.0 559.4 L142.5 558.7 L143.0 558.6 L143.5 559.3 L144.0 559.9 L144.5 560.5 L145.0 559.9 L145.5 559.3 L146.0 558.6 L146.5 558.6 L147.0 559.3 L147.5 560.0 L148.0 560.6 L148.5 559.8 L149.0 559.0 L149.5 558.2 L150.0 558.1 L150.5 558.6 L151.0 559.1 L151.5 559.4 L152.0 558.2 L152.5 556.8 L153.0 555.3 L153.5 555.4 L154.0 557.1 L154.5 559.0 L155.0 560.6 L155.5 560.3 L156.0 559.9 L156.5 559.5 L157.0 559.6 L157.5 560.3 L158.0 561.0 L158.5 561.8 L159.0 561.1 L159.5 560.5 L160.0 559.8 L160.5 559.9 L161.0 560.7 L161.5 561.6 L162.0 562.4 L162.5 561.9 L163.0 561.5 L163.5 561.0 L164.0 561.0 L164.5 561.4 L165.0 561.8 L165.5 562.2 L166.0 561.5 L166.5 560.8 L167.0 560.1 L167.5 560.1 L168.0 560.9 L168.5 561.7 L169.0 562.5 L169.5 561.9 L170.0 561.3 L170.5 560.6 L171.0 560.2 L171.5 560.0 L172.0 559.8 L172.5 559.6 L173.0 560.6 L173.5 561.5 L174.0 562.5 L174.5 562.5 L175.0 561.6 L175.5 560.7 L176.0 559.7 L176.5 559.6 L177.0 559.4 L177.5 559.1 L178.0 558.8 L178.5 558.5 L179.0 558.3 L179.5 558.3 L180.0 558.6 L180.5 559.0 L181.0 559.5 L181.5 560.2 L182.0 561.1 L182.5 561.9 L183.0 562.6 L183.5 561.8 L184.0 560.9 L184.5 560.1 L185.0 560.2 L185.5 561.1 L186.0 562.0 L186.5 562.9 L187.0 561.9 L187.5 561.0 L188.0 560.0 L188.5 560.0 L189.0 561.0 L189.5 562.0 L190.0 562.9 L190.5 561.8 L191.0 560.7 L191.5 559.6 L192.0 559.5 L192.5 560.6 L193.0 561.7 L193.5 562.7 L194.0 561.4 L194.5 560.2 L195.0 558.9 L195.5 559.0 L196.0 560.5 L196.5 562.0 L197.0 563.5 L197.5 563.3 L198.0 563.2 L198.5 563.0 L199.0 562.4 L199.5 561.3 L200.0 560.1 L200.5 559.0 L201.0 560.6 L201.5 562.2 L202.0 563.8 L202.5 564.0 L203.0 562.8 L203.5 561.6 L204.0 560.4 L204.5 562.0 L205.0 563.7 L205.5 565.4 L206.0 565.3 L206.5 563.5 L207.0 561.7 L207.5 559.9 L208.0 559.9 L208.5 559.9 L209.0 559.9 L209.5 560.3 L210.0 561.1 L210.5 561.9 L211.0 562.7 L211.5 561.7 L212.0 560.8 L212.5 559.8 L213.0 559.4 L213.5 559.5 L214.0 559.7 L214.5 559.8 L215.0 560.4 L215.5 561.1 L216.0 561.7 L216.5 561.7 L217.0 561.2 L217.5 560.6 L218.0 560.0 L218.5 560.6 L219.0 561.2 L219.5 561.7 L220.0 561.7 L220.5 561.2 L221.0 560.7 L221.5 560.1 L222.0 560.4 L222.5 560.7 L223.0 561.0 L223.5 561.0 L224.0 560.6 L224.5 560.3 L225.0 559.9 L225.5 560.1 L226.0 560.2 L226.5 560.4 L227.0 560.5 L227.5 560.5 L228.0 560.5 L228.5 560.5 L229.0 560.2 L229.5 559.9 L230.0 559.6 L230.5 559.6 L231.0 559.9 L231.5 560.2 L232.0 560.5 L232.5 560.1 L233.0 559.8 L233.5 559.5 L234.0 559.4 L234.5 559.6 L235.0 559.9 L235.5 560.1 L236.0 559.8 L236.5 559.5 L237.0 559.3 L237.5 559.2 L238.0 559.4 L238.5 559.5 L239.0 559.7 L239.5 559.4 L240.0 559.2 L240.5 558.9 L241.0 558.8 L241.5 558.7 L242.0 558.7 L242.5 558.7 L243.0 558.6 L243.5 558.6 L244.0 558.6 L244.5 558.6 L245.0 558.7 L245.5 558.8 L246.0 559.0 L246.5 558.9 L247.0 558.9 L247.5 558.9 L248.0 558.9 L248.5 558.9 L249.0 558.9 L249.5 558.8 L250.0 558.7 L250.5 558.7 L251.0 558.6 L251.5 558.5 L252.0 558.5 L252.5 558.5 L253.0 558.5 L253.5 558.5 L254.0 558.4 L254.5 558.4 L255.0 558.3 L255.5 558.2 L256.0 558.2 L256.5 558.1 L257.0 558.0 L257.5 558.0 L258.0 558.0 L258.5 557.9 L259.0 557.9 L259.5 557.9 L260.0 557.8 L260.5 557.8 L261.0 557.7 L261.5 557.7 L262.0 557.6 L262.7 557.6 L263.4 557.5 L264.1 557.5 L264.8 557.4 L265.5 557.3 L266.2 557.3 L266.9 557.2 L267.6 557.2 L268.3 557.1 L269.0 557.1 L269.7 557.0 L270.4 557.0 L271.1 557.0 L271.8 556.9 L272.5 556.9 L273.2 556.9 L273.9 556.8 L274.6 556.8 L275.3 556.8 L276.0 556.8 L276.7 556.8 L277.4 556.8 L278.1 556.7 L278.8 556.7 L279.5 556.7 L280.2 556.7 L280.9 556.7 L281.6 556.7 L282.3 556.7 L283.0 556.6 L283.7 556.6 L284.4 556.6 L285.1 556.6 L285.8 556.6 L286.5 556.6 L287.2 556.6 L287.9 556.6 L288.6 556.6 L289.3 556.5 L290.0 556.5 L290.7 556.5 L291.4 556.5 L292.1 556.5 L292.8 556.5 L293.5 556.5 L294.2 556.5 L294.9 556.5 L295.6 556.5 L296.3 556.5 L297.0 556.5 L297.7 556.5 L298.4 556.5 L299.1 556.5 L299.8 556.5 L300.5 556.5 L301.2 556.5 L301.9 556.5 L302.6 556.6 L303.3 556.6 L304.0 556.6 L304.7 556.6 L305.4 556.6 L306.1 556.6 L306.8 556.7 L307.5 556.7 L308.2 556.7 L308.9 556.7 L309.6 556.8 L310.3 556.8 L311.0 556.8 L311.7 556.8 L312.4 556.9 L313.1 556.9 L313.8 556.9 L314.5 556.9 L315.2 557.0 L315.9 557.0 L316.6 557.0 L317.3 557.1 L318.0 557.1 L318.7 557.1 L319.4 557.1 L320.1 557.2 L320.8 557.2 L321.5 557.2 L322.2 557.3 L322.9 557.3 L323.6 557.3 L324.3 557.3 L325.0 557.4 L325.7 557.4 L326.4 557.5 L327.1 557.5 L327.8 557.5 L328.5 557.6 L329.2 557.6 L329.9 557.7 L330.6 557.7 L331.3 557.8 L332.0 557.9 L332.7 557.9 L333.4 558.0 L334.1 558.0 L334.8 558.1 L335.5 558.1 L336.2 558.2 L336.9 558.3 L337.6 558.3 L338.3 558.4 L339.0 558.4 L339.7 558.5 L340.4 558.5 L341.1 558.6 L341.8 558.6 L342.5 558.7 L343.2 558.7 L343.9 558.7 L344.6 558.8 L345.3 558.8 L346.0 558.8 L346.7 558.8 L347.4 558.9 L348.1 558.9 L348.8 558.9 L349.5 558.9 L350.2 558.9 L350.9 558.9 L351.6 558.9 L352.3 558.9 L353.0 558.9 L353.7 558.9 L354.4 558.9 L355.1 558.9 L355.8 558.9 L356.5 558.9 L357.2 558.9 L357.9 558.8 L358.6 558.8 L359.3 558.8 L360.0 558.8 L360.7 558.8 L361.4 558.8 L362.1 558.8 L362.8 558.8 L363.5 558.8 L364.2 558.7 L364.9 558.7 L365.6 558.7 L366.3 558.7 L367.0 558.7 L367.7 558.6 L368.4 558.6 L369.1 558.5 L369.8 558.4 L370.5 558.3 L371.2 558.2 L371.9 558.1 L372.6 558.0 L373.3 557.9 L374.0 557.8 L374.7 557.6 L375.4 557.5 L376.1 557.4 L376.8 557.2 L377.5 557.1 L378.2 556.9 L378.9 556.7 L379.6 556.6 L380.3 556.4 L381.0 556.2 L381.7 556.1 L382.4 555.9 L383.1 555.7 L383.8 555.5 L384.5 555.3 L385.2 555.1 L385.9 554.9 L386.6 554.7 L387.3 554.4 L388.0 554.1 L388.7 553.9 L389.4 553.6 L390.1 553.3 L390.8 552.9 L391.5 552.6 L392.2 552.3 L392.9 551.9 L393.6 551.4 L394.3 550.9 L395.0 550.3 L395.7 549.7 L396.4 549.0 L397.1 548.3 L397.8 547.7 L398.5 547.0 L399.2 546.4 L399.9 545.8 L400.6 545.4 L401.3 544.9 L402.0 544.5 L402.7 544.1 L403.4 543.7 L404.1 543.4 L404.8 543.2 L405.5 543.1 L406.2 543.1 L406.9 543.0 L407.6 543.0 L408.3 543.1 L409.0 543.4 L409.7 543.8 L410.4 544.2 L411.1 544.6 L411.8 545.0 L412.5 545.5 L413.2 546.1 L413.9 546.6 L414.6 547.1 L415.3 547.4 L416.0 547.5 L416.7 547.4 L417.4 547.2 L418.1 546.9 L418.8 546.6 L419.5 546.4 L420.2 546.1 L420.9 545.9 L421.6 545.7 L422.3 545.5 L423.0 545.4 L423.7 545.3 L424.4 545.3 L425.1 545.5 L425.8 545.7 L426.5 546.0 L427.2 546.4 L427.9 546.7 L428.6 547.3 L429.3 548.0 L430.0 548.7 L430.7 549.3 L431.4 549.8 L432.1 550.2 L432.8 550.6 L433.5 551.1 L434.2 551.4 L434.9 551.8 L435.6 552.1 L436.3 552.3 L437.0 552.5 L437.7 552.5 L438.4 552.6 L439.1 552.7 L439.8 552.8 L440.5 552.8 L441.2 552.9 L441.9 552.9 L442.6 553.0 L443.3 553.1 L444.0 553.1 L444.7 553.1 L445.4 553.2 L446.1 553.2 L446.8 553.2 L447.5 553.3 L448.2 553.3 L448.9 553.3 L449.6 553.3 L450.3 553.3 L451.0 553.3 L451.7 553.3 L452.4 553.3 L453.1 553.3 L453.8 553.3 L454.5 553.2 L455.2 553.2 L455.9 553.2 L456.6 553.2 L457.3 553.2 L458.0 553.1 L458.7 553.1 L459.4 553.1 L460.1 553.0 L460.8 553.0 L461.5 552.9 L462.2 552.9 L462.9 552.9 L463.6 552.8 L464.3 552.8 L465.0 552.7 L465.7 552.7 L466.4 552.6 L467.1 552.6 L467.8 552.6 L468.5 552.5 L469.2 552.5 L469.9 552.4 L470.6 552.4 L471.3 552.4 L472.0 552.3 L472.7 552.3 L473.4 552.2 L474.1 552.2 L474.8 552.2 L475.5 552.1 L476.2 552.1 L476.9 552.1 L477.6 552.1 L478.3 552.0 L479.0 552.0 L479.7 552.0 L480.4 552.0 L481.1 552.0 L481.8 552.0 L482.5 552.0 L483.2 551.9 L483.9 551.9 L484.6 551.9 L485.3 551.9 L486.0 551.9 L486.7 551.9 L487.4 551.9 L488.1 551.9 L488.8 551.9 L489.5 551.8 L490.2 551.8 L490.9 551.8 L491.6 551.8 L492.3 551.8 L493.0 551.8 L493.7 551.8 L494.4 551.8 L495.1 551.8 L495.8 551.8 L496.5 551.8 L497.2 551.7 L497.9 551.7 L498.6 551.7 L499.3 551.7 L500.0 551.7 L500.7 551.7 L501.4 551.7 L502.1 551.7 L502.8 551.7 L503.5 551.7 L504.2 551.7 L504.9 551.7 L505.6 551.7 L506.3 551.7 L507.0 551.7 L507.7 551.7 L508.4 551.7 L509.1 551.7 L509.8 551.7 L510.5 551.7 L511.2 551.7 L511.9 551.8 L512.6 551.8 L513.3 551.8 L514.0 551.8 L514.7 551.8 L515.4 551.8 L516.1 551.9 L516.8 551.9 L517.5 551.9 L518.2 551.9 L518.9 552.0 L519.6 552.0 L520.3 552.0 L521.0 552.0 L521.7 552.1 L522.4 552.1 L523.1 552.1 L523.8 552.1 L524.5 552.2 L525.2 552.2 L525.9 552.2 L526.6 552.3 L527.3 552.3 L528.0 552.3 L528.7 552.3 L529.4 552.4 L530.1 552.4 L530.8 552.4 L531.5 552.4 L532.2 552.5 L532.9 552.5 L533.6 552.5 L534.3 552.5 L535.0 552.6 L535.7 552.6 L536.4 552.6 L537.1 552.6 L537.8 552.7 L538.5 552.7 L539.2 552.7 L539.9 552.7 L540.6 552.8 L541.3 552.8 L542.0 552.8 L542.7 552.8 L543.4 552.9 L544.1 552.9 L544.8 552.9 L545.5 553.0 L546.2 553.0 L546.9 553.0 L547.6 553.0 L548.3 553.1 L549.0 553.1 L549.7 553.1 L550.4 553.1 L551.1 553.2 L551.8 553.2 L552.5 553.2 L553.2 553.2 L553.9 553.2 L554.6 553.2 L555.3 553.3 L556.0 553.3 L556.7 553.3 L557.4 553.3 L558.1 553.3 L558.8 553.3 L559.5 553.3 L560.2 553.3 L560.9 553.3 L561.6 553.2 L562.3 553.2 L563.0 553.1 L563.7 553.0 L564.4 552.9 L565.1 552.8 L565.8 552.6 L566.5 552.4 L567.2 552.1 L567.9 551.6 L568.6 551.0 L569.3 550.6 L570.0 550.2 L570.7 550.1 L571.4 550.2 L572.1 550.6 L572.8 551.1 L573.5 551.6 L574.2 552.1 L574.9 552.5 L575.6 552.7 L576.3 552.9 L577.0 553.1 L577.7 553.3 L578.4 553.4 L579.1 553.6 L579.8 553.7 L580.5 553.8 L581.2 553.9 L581.9 554.0 L582.6 554.0 L583.3 554.1 L584.0 554.1 L584.7 554.2 L585.4 554.3 L586.1 554.3 L586.8 554.4 L587.5 554.4 L588.2 554.5 L588.9 554.5 L589.6 554.6 L590.3 554.6 L591.0 554.6 L591.7 554.7 L592.4 554.7 L593.1 554.8 L593.8 554.8 L594.5 554.8 L595.2 554.9 L595.9 554.9 L596.6 554.9 L597.3 555.0 L598.0 555.0 L598.7 555.0 L599.4 555.1 L600.1 555.1 L600.8 555.1 L601.5 555.1 L602.2 555.2 L602.9 555.2 L603.6 555.2 L604.3 555.2 L605.0 555.3 L605.7 555.3 L606.4 555.3 L607.1 555.3 L607.8 555.3 L608.5 555.4 L609.2 555.4 L609.9 555.4 L610.6 555.4 L611.3 555.4 L612.0 555.5 L612.7 555.5 L613.4 555.5 L614.1 555.5 L614.8 555.5 L615.5 555.6 L616.2 555.6 L616.9 555.6 L617.6 555.6 L618.3 555.6 L619.0 555.7 L619.7 555.7 L620.4 555.7 L621.1 555.7 L621.8 555.7 L622.5 555.7 L623.2 555.8 L623.9 555.8 L624.6 555.8 L625.3 555.8 L626.0 555.8 L626.7 555.8 L627.4 555.9 L628.1 555.9 L628.8 555.9 L629.5 555.9 L630.2 555.9 L630.9 555.9 L631.6 555.9 L632.3 555.9 L633.0 556.0 L633.7 556.0 L634.4 556.0 L635.1 556.0 L635.8 556.0 L636.5 556.0 L637.2 556.0 L637.9 556.0 L638.6 556.0 L639.3 556.0 L640.0 556.0 L640.7 556.0 L641.4 556.0 L642.1 556.0 L642.8 556.0 L643.5 556.0 L644.2 556.0 L644.9 555.9 L645.6 555.9 L646.3 555.9 L647.0 555.9 L647.7 555.9 L648.4 555.8 L649.1 555.8 L649.8 555.8 L650.5 555.8 L651.2 555.7 L651.9 555.7 L652.6 555.7 L653.3 555.6 L654.0 555.6 L654.7 555.6 L655.4 555.5 L656.1 555.5 L656.8 555.5 L657.5 555.4 L658.2 555.4 L658.9 555.3 L659.6 555.3 L660.3 555.3 L661.0 555.2 L661.7 555.2 L662.4 555.1 L663.1 555.1 L663.8 555.1 L664.5 555.0 L665.2 555.0 L665.9 554.9 L666.6 554.9 L667.3 554.9 L668.0 554.8 L668.7 554.8 L669.4 554.7 L670.1 554.7 L670.8 554.7 L671.5 554.6 L672.2 554.6 L672.9 554.5 L673.6 554.5 L674.3 554.4 L675.0 554.3 L675.7 554.3 L676.4 554.2 L677.1 554.2 L677.8 554.1 L678.5 554.1 L679.2 554.0 L679.9 553.9 L680.6 553.9 L681.3 553.8 L682.0 553.8 L682.7 553.7 L683.4 553.6 L684.1 553.6 L684.8 553.5 L685.5 553.4 L686.2 553.4 L686.9 553.3 L687.6 553.2 L688.3 553.2 L689.0 553.1 L689.7 553.0 L690.4 553.0 L691.1 552.9 L691.8 552.8 L692.5 552.7 L693.2 552.7 L693.9 552.6 L694.6 552.5 L695.3 552.4 L696.0 552.4 L696.7 552.3 L697.4 552.2 L698.1 552.1 L698.8 552.0 L699.5 551.9 L700.2 551.8 L700.9 551.7 L701.6 551.7 L702.3 551.6 L703.0 551.5 L703.7 551.4 L704.4 551.2 L705.1 551.1 L705.8 551.0 L706.5 550.9 L707.2 550.8 L707.9 550.7 L708.6 550.6 L709.3 550.4 L710.0 550.3 L710.7 550.1 L711.4 550.0 L712.1 549.9 L712.8 549.7 L713.5 549.6 L714.2 549.4 L714.9 549.2 L715.6 549.1 L716.3 548.9 L717.0 548.7 L717.7 548.6 L718.4 548.4 L719.1 548.2 L719.8 548.1 L720.5 547.9 L721.2 547.7 L721.9 547.5 L722.6 547.4 L723.3 547.2 L724.0 547.0 L724.7 546.8 L725.4 546.6 L726.1 546.4 L726.8 546.2 L727.5 546.0 L728.2 545.8 L728.9 545.6 L729.6 545.3 L730.3 545.1 L731.0 544.8 L731.7 544.5 L732.4 544.2 L733.1 543.9 L733.8 543.6 L734.5 543.3 L735.2 543.0 L735.9 542.6 L736.6 542.1 L737.3 541.6 L738.0 541.0 L738.7 540.3 L739.4 539.5 L740.1 538.1 L740.8 536.3 L741.5 533.9 L742.2 530.9 L742.9 526.3 L743.6 518.5 L744.3 510.9 L745.0 504.4 L745.7 499.1 L746.4 499.2 L747.1 503.3 L747.8 508.6 L748.5 513.6 L749.2 519.2 L749.9 523.6 L750.6 526.0 L751.3 528.0 L752.0 529.6 L752.7 531.0 L753.4 532.1 L754.1 533.1 L754.8 534.1 L755.5 535.1 L756.2 536.0 L756.9 536.8 L757.6 537.4 L758.3 537.9 L759.0 538.0 L759.7 538.0 L760.4 537.9 L761.1 537.8 L761.8 537.7 L762.5 537.5 L763.2 537.3 L763.9 537.1 L764.6 536.8 L765.3 536.3 L766.0 534.9 L766.7 532.9 L767.4 531.0 L768.1 529.7 L768.8 529.9 L769.5 531.3 L770.2 533.0 L770.9 534.3 L771.6 534.8 L772.3 535.2 L773.0 535.5 L773.7 535.6 L774.4 533.4 L775.1 529.4 L775.8 525.7 L776.5 524.4 L777.2 525.2 L777.9 526.6 L778.6 527.8 L779.3 527.9 L780.0 527.5 L780.7 526.8 L781.4 526.4 L782.1 527.1 L782.8 529.8 L783.5 533.0 L784.2 535.3 L784.9 536.0 L785.6 536.5 L786.3 537.0 L787.0 537.2 L787.7 537.4 L788.4 537.4 L789.1 537.4 L789.8 537.4 L790.5 537.3 L791.2 537.3 L791.9 537.2 L792.6 537.1 L793.3 537.1 L794.0 537.0 L794.7 536.9 L795.4 536.9 L796.1 536.8 L796.8 536.7 L797.5 536.6 L798.2 536.4 L798.9 536.3 L799.6 536.1 L800.3 535.9 L801.0 535.6 L801.7 534.6 L802.4 532.7 L803.1 530.6 L803.8 529.0 L804.5 528.4 L805.2 529.2 L805.9 530.6 L806.6 531.8 L807.3 532.0 L808.0 531.7 L808.7 531.1 L809.4 530.5 L810.1 529.9 L810.8 529.2 L811.5 528.4 L812.2 527.6 L812.9 526.8 L813.6 526.2 L814.3 525.9 L815.0 525.6 L815.7 525.5 L816.4 525.3 L817.1 524.9 L817.8 524.1 L818.5 522.8 L819.2 521.6 L819.9 521.0 L820.6 521.4 L821.3 522.4 L822.0 523.0 L822.7 522.8 L823.4 522.5 L824.1 522.4 L824.8 522.9 L825.5 524.0 L826.2 525.4 L826.9 526.6 L827.6 527.5 L828.3 527.6 L829.0 527.4 L829.7 527.1 L830.4 526.8 L831.1 526.6 L831.8 526.4 L832.5 526.5 L833.2 527.1 L833.9 527.9 L834.6 528.7 L835.3 529.3 L836.0 529.6 L836.7 529.6 L837.4 529.6 L838.1 529.6 L838.8 529.6 L839.5 529.6 L840.2 529.6 L840.9 530.0 L841.6 530.7 L842.3 531.4 L843.0 532.1 L843.7 532.6 L844.4 532.6 L845.1 532.5 L845.8 532.4 L846.5 532.3 L847.2 532.1 L847.9 531.8 L848.6 531.6 L849.3 531.2 L850.0 530.4 L850.7 529.2 L851.4 527.8 L852.1 526.5 L852.8 525.3 L853.5 524.3 L854.2 523.2 L854.9 522.3 L855.6 521.7 L856.3 521.7 L857.0 522.2 L857.7 523.2 L858.4 524.1 L859.1 524.8 L859.8 524.9 L860.5 522.7 L861.2 519.3 L861.9 516.4 L862.6 515.8 L863.3 518.2 L864.0 522.0 L864.7 525.1 L865.4 525.8 L866.1 526.1 L866.8 526.3 L867.5 526.5 L868.2 526.7 L868.9 526.9 L869.6 527.5 L870.3 528.2 L871.0 529.2 L871.7 530.2 L872.4 531.0 L873.1 531.7 L873.8 532.2 L874.5 532.8 L875.2 533.3 L875.9 533.7 L876.6 534.1 L877.3 534.3 L878.0 534.4 L878.7 534.3 L879.4 534.0 L880.1 533.5 L880.8 532.9 L881.5 532.2 L882.2 531.3 L882.9 529.9 L883.6 527.8 L884.3 525.5 L885.0 523.0 L885.7 520.1 L886.4 516.7 L887.1 513.3 L887.8 510.6 L888.5 508.7 L889.2 507.3 L889.9 507.2 L890.6 508.5 L891.3 510.3 L892.0 511.6 L892.7 511.5 L893.4 509.5 L894.1 506.7 L894.8 503.8 L895.5 501.5 L896.2 499.5 L896.9 497.7 L897.6 496.2 L898.3 495.4 L899.0 495.0 L899.7 494.7 L900.4 494.5 L901.1 494.1 L901.8 493.3 L902.5 491.0 L903.2 487.7 L903.9 484.2 L904.6 479.6 L905.3 474.5 L906.0 470.2 L906.7 467.8 L907.4 466.6 L908.1 465.7 L908.8 464.9 L909.5 464.0 L910.2 462.8 L910.9 460.9 L911.6 458.5 L912.3 456.1 L913.0 454.0 L913.7 452.3 L914.4 450.6 L915.1 449.3 L915.8 448.8 L916.5 449.9 L917.2 452.5 L917.9 455.6 L918.6 459.6 L919.3 464.8 L920.0 470.3 L920.7 475.2 L921.4 479.8 L922.1 484.3 L922.8 488.5 L923.5 492.2 L924.2 495.4 L924.9 498.2 L925.6 500.8 L926.3 503.1 L927.0 505.2 L927.7 507.1 L928.4 508.7 L929.1 510.3 L929.8 511.7 L930.5 513.2 L931.2 514.6 L931.9 516.1 L932.6 517.8 L933.3 519.6 L934.0 521.5 L934.7 523.4 L935.4 525.2 L936.1 526.9 L936.8 528.4 L937.5 529.5 L938.2 530.4 L938.9 531.3 L939.6 532.2 L940.3 533.0 L941.0 533.8 L941.7 534.4 L942.4 534.9 L943.1 535.4 L943.8 535.6 L944.5 535.7 L945.2 535.3 L945.9 534.4 L946.6 533.3 L947.3 532.1 L948.0 531.3 L948.7 530.8 L949.4 530.3 L950.1 529.9 L950.8 529.6 L951.5 529.6 L952.2 529.9 L952.9 530.5 L953.6 531.3 L954.3 532.3 L955.0 533.4 L955.7 534.6 L956.4 535.7 L957.1 537.0 L957.8 538.6 L958.5 540.3 L959.2 542.2 L959.9 544.2 L960.6 546.2 L961.3 548.4 L962.0 551.1 L962.7 553.9 L963.4 556.5 L964.1 558.6 L964.8 560.0 L965.5 560.6 L966.2 561.0 L966.9 561.2 L967.6 561.1 L968.3 560.6 L969.0 559.8 L969.7 559.2 L970.4 558.7 L971.1 558.8 L971.8 559.5 L972.5 560.7 L973.2 562.0 L973.9 563.4 L974.6 564.6 L975.3 565.7 L976.0 567.0 L976.7 568.4 L977.4 569.7 L978.1 571.1 L978.8 572.2 L979.5 573.2 L980.2 573.9 L980.9 574.3 L981.6 574.2 L982.3 573.7 L983.0 572.9 L983.7 571.9 L984.4 570.9 L985.1 570.0 L985.8 568.9 L986.5 567.9 L987.2 567.6 L987.9 568.8 L988.6 571.2 L989.3 573.8 L990.0 575.8 L990.7 578.0 L991.4 579.9 L992.1 581.2 L992.8 581.1 L993.5 580.3 L994.2 579.2 L994.9 578.1 L995.6 577.7 L996.3 578.4 L997.0 580.0 L997.7 581.8 L998.4 583.2 L999.1 583.4 L999.8 583.0 L1000.5 582.4 L1001.2 581.8 L1001.9 581.2 L1002.6 580.8 L1003.3 580.8 L1004.0 581.2 L1004.7 581.8 L1005.4 582.4 L1006.1 582.8 L1006.8 582.6 L1007.5 582.2 L1008.2 581.8 L1008.9 581.4 L1009.6 581.4 L1010.3 582.4 L1011.0 584.0 L1011.7 585.9 L1012.4 587.5 L1013.1 588.5 L1013.8 589.5 L1014.5 590.4 L1015.2 591.3 L1015.9 592.2 L1016.6 593.1 L1017.3 594.1 L1018.0 595.0 L1018.7 596.1 L1019.4 597.2 L1020.1 598.4 L1020.8 599.8 L1021.5 601.2 L1022.2 602.5 L1022.9 603.9 L1023.6 605.2 L1024.3 606.2 L1025.0 607.0 L1025.7 607.5 L1026.4 607.7 L1027.1 607.2 L1027.8 606.4 L1028.5 605.8 L1029.2 605.2 L1029.9 604.7 L1030.6 604.7 L1031.3 607.3 L1032.0 611.6 L1032.7 615.7 L1033.4 617.5 L1034.1 618.3 L1034.8 618.9 L1035.5 619.5 L1036.2 620.0 L1036.9 620.6 L1037.6 621.3 L1038.3 622.1 L1039.0 622.6 L1039.7 623.1 L1040.4 623.5 L1041.1 624.1 L1041.8 624.9 L1042.5 625.4 L1043.2 625.7 L1043.9 626.5 L1044.6 627.4 L1045.3 628.0 L1046.0 628.4 L1046.7 628.7 L1047.4 628.6 L1048.1 622.3 L1048.8 614.1 L1049.5 608.5 L1050.2 603.7 L1050.9 600.8 L1051.6 599.2 L1052.3 598.0 L1053.0 597.8 L1053.7 598.8 L1054.4 600.5 L1055.1 603.4 L1055.8 609.6 L1056.5 616.1 L1057.2 620.6 L1057.9 624.8 L1058.6 628.2 L1059.3 629.5 L1060.0 629.9 L1060.7 630.3 L1061.4 630.7 L1062.1 631.3 L1062.8 631.9 L1063.5 632.2 L1064.2 632.4 L1064.9 632.5 L1065.6 632.4 L1066.3 632.2 L1067.0 632.1 L1067.7 632.3 L1068.4 632.4 L1069.1 632.4 L1069.8 632.2 L1070.5 632.0 L1071.2 633.1 L1071.9 635.5 L1072.6 636.8 L1073.3 637.0 L1074.0 637.8 L1074.7 638.3 L1075.4 638.3 L1076.1 638.6 L1076.8 639.2 L1077.5 639.5 L1078.2 639.6 L1078.9 640.1 L1079.6 640.8 L1080.3 641.0 L1081.0 640.9 L1081.7 640.7 L1082.4 640.4 L1083.1 640.1 L1083.8 639.9 L1084.5 639.7 L1085.2 639.6 L1085.9 639.7 L1086.6 640.6 L1087.3 642.1 L1088.0 643.5 L1088.7 644.8 L1089.4 645.7 L1090.1 646.4 L1090.8 646.9 L1091.5 647.5 L1092.2 648.3 L1092.9 649.1 L1093.6 649.6 L1094.3 650.3 L1095.0 651.2 L1095.7 651.8 L1096.4 652.1 L1097.1 652.5 L1097.8 652.9 L1098.5 653.2 L1099.2 653.4 L1099.9 653.5 L1100.6 653.6 L1101.3 654.3 L1102.0 654.8 L1102.7 655.2 L1103.4 655.7 L1104.1 656.4 L1104.8 656.9 L1105.5 657.3 L1106.2 657.7 L1106.9 658.1 L1107.6 658.7 L1108.3 659.4 L1109.0 660.4 L1109.7 661.3 L1110.4 661.6 L1111.0 661.9"/>
<path d="M113.0 625.9 L113.5 625.9 L114.0 625.8 L114.5 625.8 L115.0 625.8 L115.5 625.7 L116.0 625.7 L116.5 625.7 L117.0 625.6 L117.5 625.6 L118.0 625.6 L118.5 625.6 L119.0 625.5 L119.5 625.5 L120.0 625.5 L120.5 625.5 L121.0 625.5 L121.5 625.5 L122.0 625.4 L122.5 625.4 L123.0 625.4 L123.5 625.4 L124.0 625.4 L124.5 625.4 L125.0 625.4 L125.5 625.4 L126.0 625.4 L126.5 625.3 L127.0 625.3 L127.5 625.3 L128.0 625.3 L128.5 625.3 L129.0 625.3 L129.5 625.3 L130.0 625.3 L130.5 625.3 L131.0 625.3 L131.5 625.3 L132.0 625.3 L132.5 625.3 L133.0 625.2 L133.5 625.2 L134.0 625.1 L134.5 625.3 L135.0 625.5 L135.5 625.8 L136.0 625.7 L136.5 625.5 L137.0 625.2 L137.5 625.0 L138.0 625.3 L138.5 625.7 L139.0 626.1 L139.5 626.0 L140.0 625.5 L140.5 625.0 L141.0 624.4 L141.5 624.9 L142.0 625.3 L142.5 625.8 L143.0 625.8 L143.5 625.5 L144.0 625.2 L144.5 624.9 L145.0 625.4 L145.5 626.0 L146.0 626.5 L146.5 626.5 L147.0 626.0 L147.5 625.5 L148.0 624.9 L148.5 625.9 L149.0 626.9 L149.5 627.9 L150.0 628.0 L150.5 627.1 L151.0 626.2 L151.5 625.3 L152.0 624.9 L152.5 624.4 L153.0 623.9 L153.5 624.2 L154.0 625.3 L154.5 626.4 L155.0 627.4 L155.5 626.5 L156.0 625.6 L156.5 624.6 L157.0 624.6 L157.5 625.5 L158.0 626.4 L158.5 627.3 L159.0 626.7 L159.5 626.1 L160.0 625.6 L160.5 625.6 L161.0 626.2 L161.5 626.8 L162.0 627.4 L162.5 626.4 L163.0 625.3 L163.5 624.3 L164.0 624.2 L164.5 624.9 L165.0 625.7 L165.5 626.4 L166.0 625.7 L166.5 625.1 L167.0 624.4 L167.5 624.2 L168.0 624.6 L168.5 625.1 L169.0 625.5 L169.5 624.7 L170.0 623.9 L170.5 623.1 L171.0 623.1 L171.5 623.9 L172.0 624.6 L172.5 625.4 L173.0 625.2 L173.5 625.1 L174.0 624.9 L174.5 624.7 L175.0 624.3 L175.5 623.9 L176.0 623.5 L176.5 624.1 L177.0 624.7 L177.5 625.3 L178.0 625.3 L178.5 624.6 L179.0 623.9 L179.5 623.3 L180.0 623.8 L180.5 624.2 L181.0 624.7 L181.5 624.7 L182.0 624.1 L182.5 623.6 L183.0 623.0 L183.5 623.8 L184.0 624.6 L184.5 625.3 L185.0 625.3 L185.5 624.4 L186.0 623.5 L186.5 622.6 L187.0 623.3 L187.5 624.0 L188.0 624.7 L188.5 625.1 L189.0 625.1 L189.5 625.2 L190.0 625.2 L190.5 624.8 L191.0 624.3 L191.5 623.9 L192.0 624.0 L192.5 624.6 L193.0 625.2 L193.5 625.8 L194.0 625.1 L194.5 624.4 L195.0 623.7 L195.5 623.3 L196.0 623.4 L196.5 623.5 L197.0 623.5 L197.5 624.4 L198.0 625.2 L198.5 626.0 L199.0 626.1 L199.5 625.3 L200.0 624.5 L200.5 623.7 L201.0 624.2 L201.5 624.7 L202.0 625.2 L202.5 625.5 L203.0 625.7 L203.5 625.9 L204.0 626.2 L204.5 625.5 L205.0 624.8 L205.5 624.2 L206.0 624.2 L206.5 624.9 L207.0 625.6 L207.5 626.3 L208.0 625.8 L208.5 625.3 L209.0 624.9 L209.5 625.0 L210.0 625.8 L210.5 626.5 L211.0 627.3 L211.5 626.7 L212.0 626.1 L212.5 625.5 L213.0 625.5 L213.5 626.1 L214.0 626.7 L214.5 627.3 L215.0 627.0 L215.5 626.6 L216.0 626.3 L216.5 626.3 L217.0 626.8 L217.5 627.3 L218.0 627.8 L218.5 627.6 L219.0 627.4 L219.5 627.2 L220.0 627.3 L220.5 627.7 L221.0 628.0 L221.5 628.4 L222.0 628.3 L222.5 628.2 L223.0 628.1 L223.5 628.2 L224.0 628.3 L224.5 628.5 L225.0 628.6 L225.5 629.1 L226.0 629.5 L226.5 629.9 L227.0 630.1 L227.5 630.0 L228.0 630.0 L228.5 630.0 L229.0 630.2 L229.5 630.4 L230.0 630.7 L230.5 630.7 L231.0 630.7 L231.5 630.6 L232.0 630.5 L232.5 631.0 L233.0 631.5 L233.5 632.0 L234.0 632.2 L234.5 632.1 L235.0 632.0 L235.5 631.9 L236.0 632.2 L236.5 632.4 L237.0 632.7 L237.5 632.8 L238.0 632.8 L238.5 632.8 L239.0 632.8 L239.5 633.1 L240.0 633.3 L240.5 633.6 L241.0 633.7 L241.5 633.6 L242.0 633.5 L242.5 633.4 L243.0 633.7 L243.5 633.9 L244.0 634.2 L244.5 634.3 L245.0 634.3 L245.5 634.3 L246.0 634.3 L246.5 634.5 L247.0 634.8 L247.5 635.0 L248.0 635.1 L248.5 635.2 L249.0 635.2 L249.5 635.2 L250.0 635.4 L250.5 635.5 L251.0 635.7 L251.5 635.8 L252.0 635.8 L252.5 635.8 L253.0 635.8 L253.5 635.9 L254.0 636.0 L254.5 636.1 L255.0 636.1 L255.5 636.2 L256.0 636.3 L256.5 636.3 L257.0 636.3 L257.5 636.4 L258.0 636.4 L258.5 636.4 L259.0 636.5 L259.5 636.5 L260.0 636.5 L260.5 636.6 L261.0 636.6 L261.5 636.6 L262.0 636.6 L262.7 636.7 L263.4 636.7 L264.1 636.7 L264.8 636.8 L265.5 636.8 L266.2 636.8 L266.9 636.8 L267.6 636.8 L268.3 636.8 L269.0 636.8 L269.7 636.7 L270.4 636.6 L271.1 636.6 L271.8 636.5 L272.5 636.4 L273.2 636.3 L273.9 636.2 L274.6 636.1 L275.3 636.0 L276.0 635.8 L276.7 635.7 L277.4 635.6 L278.1 635.5 L278.8 635.3 L279.5 635.2 L280.2 635.0 L280.9 634.8 L281.6 634.6 L282.3 634.4 L283.0 634.2 L283.7 633.9 L284.4 633.7 L285.1 633.4 L285.8 633.2 L286.5 632.9 L287.2 632.7 L287.9 632.4 L288.6 632.1 L289.3 631.9 L290.0 631.6 L290.7 631.4 L291.4 631.2 L292.1 630.9 L292.8 630.7 L293.5 630.5 L294.2 630.2 L294.9 630.0 L295.6 629.7 L296.3 629.5 L297.0 629.3 L297.7 629.0 L298.4 628.8 L299.1 628.5 L299.8 628.3 L300.5 628.1 L301.2 627.9 L301.9 627.6 L302.6 627.4 L303.3 627.3 L304.0 627.1 L304.7 626.9 L305.4 626.7 L306.1 626.6 L306.8 626.4 L307.5 626.3 L308.2 626.1 L308.9 626.0 L309.6 625.8 L310.3 625.7 L311.0 625.6 L311.7 625.4 L312.4 625.3 L313.1 625.2 L313.8 625.1 L314.5 624.9 L315.2 624.8 L315.9 624.7 L316.6 624.6 L317.3 624.5 L318.0 624.4 L318.7 624.3 L319.4 624.1 L320.1 624.0 L320.8 623.9 L321.5 623.8 L322.2 623.7 L322.9 623.6 L323.6 623.5 L324.3 623.3 L325.0 623.2 L325.7 623.1 L326.4 623.0 L327.1 622.9 L327.8 622.8 L328.5 622.7 L329.2 622.5 L329.9 622.4 L330.6 622.3 L331.3 622.2 L332.0 622.1 L332.7 622.0 L333.4 621.9 L334.1 621.8 L334.8 621.7 L335.5 621.6 L336.2 621.4 L336.9 621.3 L337.6 621.2 L338.3 621.1 L339.0 621.0 L339.7 620.9 L340.4 620.8 L341.1 620.7 L341.8 620.6 L342.5 620.5 L343.2 620.4 L343.9 620.3 L344.6 620.2 L345.3 620.1 L346.0 620.0 L346.7 619.9 L347.4 619.8 L348.1 619.7 L348.8 619.7 L349.5 619.6 L350.2 619.5 L350.9 619.4 L351.6 619.3 L352.3 619.2 L353.0 619.1 L353.7 619.0 L354.4 618.9 L355.1 618.9 L355.8 618.8 L356.5 618.7 L357.2 618.6 L357.9 618.5 L358.6 618.4 L359.3 618.3 L360.0 618.3 L360.7 618.2 L361.4 618.1 L362.1 618.0 L362.8 617.9 L363.5 617.9 L364.2 617.8 L364.9 617.7 L365.6 617.6 L366.3 617.5 L367.0 617.5 L367.7 617.4 L368.4 617.3 L369.1 617.2 L369.8 617.2 L370.5 617.1 L371.2 617.0 L371.9 617.0 L372.6 616.9 L373.3 616.8 L374.0 616.8 L374.7 616.7 L375.4 616.6 L376.1 616.6 L376.8 616.5 L377.5 616.4 L378.2 616.4 L378.9 616.3 L379.6 616.2 L380.3 616.2 L381.0 616.1 L381.7 616.1 L382.4 616.0 L383.1 616.0 L383.8 615.9 L384.5 615.9 L385.2 615.8 L385.9 615.8 L386.6 615.7 L387.3 615.7 L388.0 615.6 L388.7 615.6 L389.4 615.5 L390.1 615.5 L390.8 615.4 L391.5 615.4 L392.2 615.3 L392.9 615.3 L393.6 615.2 L394.3 615.2 L395.0 615.1 L395.7 615.1 L396.4 615.0 L397.1 614.9 L397.8 614.9 L398.5 614.8 L399.2 614.8 L399.9 614.7 L400.6 614.6 L401.3 614.6 L402.0 614.5 L402.7 614.5 L403.4 614.4 L404.1 614.3 L404.8 614.2 L405.5 614.2 L406.2 614.1 L406.9 614.0 L407.6 614.0 L408.3 613.9 L409.0 613.8 L409.7 613.7 L410.4 613.7 L411.1 613.6 L411.8 613.5 L412.5 613.4 L413.2 613.4 L413.9 613.3 L414.6 613.2 L415.3 613.1 L416.0 613.1 L416.7 613.0 L417.4 612.9 L418.1 612.8 L418.8 612.8 L419.5 612.7 L420.2 612.6 L420.9 612.5 L421.6 612.5 L422.3 612.4 L423.0 612.3 L423.7 612.3 L424.4 612.2 L425.1 612.1 L425.8 612.1 L426.5 612.0 L427.2 612.0 L427.9 611.9 L428.6 611.8 L429.3 611.8 L430.0 611.7 L430.7 611.7 L431.4 611.6 L432.1 611.6 L432.8 611.5 L433.5 611.5 L434.2 611.4 L434.9 611.4 L435.6 611.3 L436.3 611.3 L437.0 611.2 L437.7 611.2 L438.4 611.1 L439.1 611.1 L439.8 611.0 L440.5 611.0 L441.2 610.9 L441.9 610.9 L442.6 610.8 L443.3 610.8 L444.0 610.7 L444.7 610.7 L445.4 610.6 L446.1 610.6 L446.8 610.5 L447.5 610.5 L448.2 610.4 L448.9 610.4 L449.6 610.3 L450.3 610.3 L451.0 610.3 L451.7 610.2 L452.4 610.2 L453.1 610.1 L453.8 610.1 L454.5 610.0 L455.2 610.0 L455.9 609.9 L456.6 609.9 L457.3 609.8 L458.0 609.8 L458.7 609.8 L459.4 609.7 L460.1 609.7 L460.8 609.6 L461.5 609.6 L462.2 609.5 L462.9 609.5 L463.6 609.4 L464.3 609.4 L465.0 609.4 L465.7 609.3 L466.4 609.3 L467.1 609.2 L467.8 609.2 L468.5 609.2 L469.2 609.1 L469.9 609.1 L470.6 609.0 L471.3 609.0 L472.0 608.9 L472.7 608.9 L473.4 608.9 L474.1 608.8 L474.8 608.8 L475.5 608.7 L476.2 608.7 L476.9 608.7 L477.6 608.6 L478.3 608.6 L479.0 608.6 L479.7 608.5 L480.4 608.5 L481.1 608.4 L481.8 608.4 L482.5 608.4 L483.2 608.3 L483.9 608.3 L484.6 608.3 L485.3 608.2 L486.0 608.2 L486.7 608.2 L487.4 608.1 L488.1 608.1 L488.8 608.1 L489.5 608.0 L490.2 608.0 L490.9 608.0 L491.6 607.9 L492.3 607.9 L493.0 607.9 L493.7 607.8 L494.4 607.8 L495.1 607.8 L495.8 607.7 L496.5 607.7 L497.2 607.7 L497.9 607.6 L498.6 607.6 L499.3 607.6 L500.0 607.5 L500.7 607.5 L501.4 607.5 L502.1 607.4 L502.8 607.4 L503.5 607.4 L504.2 607.3 L504.9 607.3 L505.6 607.3 L506.3 607.2 L507.0 607.2 L507.7 607.2 L508.4 607.1 L509.1 607.1 L509.8 607.1 L510.5 607.0 L511.2 607.0 L511.9 607.0 L512.6 606.9 L513.3 606.9 L514.0 606.9 L514.7 606.8 L515.4 606.8 L516.1 606.8 L516.8 606.7 L517.5 606.7 L518.2 606.7 L518.9 606.6 L519.6 606.6 L520.3 606.6 L521.0 606.5 L521.7 606.5 L522.4 606.5 L523.1 606.4 L523.8 606.4 L524.5 606.4 L525.2 606.3 L525.9 606.3 L526.6 606.3 L527.3 606.2 L528.0 606.2 L528.7 606.2 L529.4 606.1 L530.1 606.1 L530.8 606.0 L531.5 606.0 L532.2 606.0 L532.9 605.9 L533.6 605.9 L534.3 605.8 L535.0 605.8 L535.7 605.8 L536.4 605.7 L537.1 605.7 L537.8 605.6 L538.5 605.6 L539.2 605.6 L539.9 605.5 L540.6 605.5 L541.3 605.4 L542.0 605.4 L542.7 605.4 L543.4 605.3 L544.1 605.3 L544.8 605.2 L545.5 605.2 L546.2 605.1 L546.9 605.1 L547.6 605.1 L548.3 605.0 L549.0 605.0 L549.7 604.9 L550.4 604.9 L551.1 604.8 L551.8 604.8 L552.5 604.7 L553.2 604.6 L553.9 604.6 L554.6 604.5 L555.3 604.5 L556.0 604.4 L556.7 604.3 L557.4 604.3 L558.1 604.2 L558.8 604.1 L559.5 604.1 L560.2 604.0 L560.9 603.9 L561.6 603.8 L562.3 603.7 L563.0 603.6 L563.7 603.5 L564.4 603.4 L565.1 603.2 L565.8 602.6 L566.5 601.6 L567.2 600.6 L567.9 599.8 L568.6 599.5 L569.3 599.7 L570.0 600.2 L570.7 600.8 L571.4 601.5 L572.1 601.9 L572.8 602.1 L573.5 602.0 L574.2 601.6 L574.9 601.2 L575.6 600.7 L576.3 600.3 L577.0 600.0 L577.7 600.0 L578.4 600.3 L579.1 600.7 L579.8 601.2 L580.5 601.7 L581.2 602.2 L581.9 602.5 L582.6 602.7 L583.3 602.7 L584.0 602.7 L584.7 602.7 L585.4 602.7 L586.1 602.6 L586.8 602.6 L587.5 602.6 L588.2 602.5 L588.9 602.5 L589.6 602.5 L590.3 602.4 L591.0 602.4 L591.7 602.3 L592.4 602.3 L593.1 602.2 L593.8 602.1 L594.5 602.1 L595.2 602.0 L595.9 601.9 L596.6 601.9 L597.3 601.8 L598.0 601.7 L598.7 601.6 L599.4 601.6 L600.1 601.5 L600.8 601.4 L601.5 601.3 L602.2 601.2 L602.9 601.2 L603.6 601.1 L604.3 601.0 L605.0 600.9 L605.7 600.8 L606.4 600.7 L607.1 600.7 L607.8 600.6 L608.5 600.5 L609.2 600.4 L609.9 600.3 L610.6 600.3 L611.3 600.2 L612.0 600.1 L612.7 600.1 L613.4 600.0 L614.1 599.9 L614.8 599.9 L615.5 599.8 L616.2 599.7 L616.9 599.6 L617.6 599.6 L618.3 599.5 L619.0 599.4 L619.7 599.4 L620.4 599.3 L621.1 599.2 L621.8 599.1 L622.5 599.1 L623.2 599.0 L623.9 598.9 L624.6 598.8 L625.3 598.8 L626.0 598.7 L626.7 598.6 L627.4 598.6 L628.1 598.5 L628.8 598.4 L629.5 598.3 L630.2 598.3 L630.9 598.2 L631.6 598.1 L632.3 598.0 L633.0 598.0 L633.7 597.9 L634.4 597.8 L635.1 597.8 L635.8 597.7 L636.5 597.6 L637.2 597.6 L637.9 597.5 L638.6 597.4 L639.3 597.4 L640.0 597.3 L640.7 597.2 L641.4 597.2 L642.1 597.1 L642.8 597.1 L643.5 597.0 L644.2 596.9 L644.9 596.9 L645.6 596.8 L646.3 596.7 L647.0 596.7 L647.7 596.6 L648.4 596.6 L649.1 596.5 L649.8 596.5 L650.5 596.4 L651.2 596.3 L651.9 596.3 L652.6 596.2 L653.3 596.2 L654.0 596.1 L654.7 596.1 L655.4 596.0 L656.1 595.9 L656.8 595.9 L657.5 595.8 L658.2 595.8 L658.9 595.7 L659.6 595.7 L660.3 595.6 L661.0 595.6 L661.7 595.5 L662.4 595.5 L663.1 595.4 L663.8 595.4 L664.5 595.3 L665.2 595.3 L665.9 595.3 L666.6 595.2 L667.3 595.2 L668.0 595.1 L668.7 595.1 L669.4 595.0 L670.1 595.0 L670.8 595.0 L671.5 594.9 L672.2 594.9 L672.9 594.9 L673.6 594.8 L674.3 594.8 L675.0 594.8 L675.7 594.7 L676.4 594.7 L677.1 594.7 L677.8 594.7 L678.5 594.6 L679.2 594.6 L679.9 594.6 L680.6 594.5 L681.3 594.5 L682.0 594.5 L682.7 594.4 L683.4 594.4 L684.1 594.4 L684.8 594.3 L685.5 594.3 L686.2 594.2 L686.9 594.2 L687.6 594.2 L688.3 594.1 L689.0 594.1 L689.7 594.0 L690.4 594.0 L691.1 593.9 L691.8 593.9 L692.5 593.8 L693.2 593.7 L693.9 593.6 L694.6 593.6 L695.3 593.5 L696.0 593.4 L696.7 593.3 L697.4 593.2 L698.1 593.1 L698.8 593.0 L699.5 592.9 L700.2 592.8 L700.9 592.7 L701.6 592.6 L702.3 592.5 L703.0 592.4 L703.7 592.3 L704.4 592.3 L705.1 592.2 L705.8 592.1 L706.5 592.0 L707.2 591.9 L707.9 591.8 L708.6 591.7 L709.3 591.7 L710.0 591.6 L710.7 591.5 L711.4 591.5 L712.1 591.4 L712.8 591.3 L713.5 591.3 L714.2 591.2 L714.9 591.1 L715.6 591.1 L716.3 591.0 L717.0 590.9 L717.7 590.9 L718.4 590.8 L719.1 590.7 L719.8 590.7 L720.5 590.6 L721.2 590.6 L721.9 590.5 L722.6 590.4 L723.3 590.4 L724.0 590.3 L724.7 590.3 L725.4 590.2 L726.1 590.2 L726.8 590.2 L727.5 590.1 L728.2 590.1 L728.9 590.0 L729.6 590.0 L730.3 590.0 L731.0 590.0 L731.7 589.9 L732.4 589.9 L733.1 589.9 L733.8 589.9 L734.5 589.8 L735.2 589.8 L735.9 589.8 L736.6 589.8 L737.3 589.7 L738.0 589.7 L738.7 589.7 L739.4 589.7 L740.1 589.7 L740.8 589.7 L741.5 589.6 L742.2 589.6 L742.9 589.6 L743.6 589.6 L744.3 589.6 L745.0 589.6 L745.7 589.6 L746.4 589.6 L747.1 589.6 L747.8 589.7 L748.5 589.7 L749.2 589.8 L749.9 589.9 L750.6 590.0 L751.3 590.1 L752.0 590.2 L752.7 590.4 L753.4 590.5 L754.1 590.6 L754.8 590.8 L755.5 590.9 L756.2 591.0 L756.9 591.2 L757.6 591.4 L758.3 591.7 L759.0 591.9 L759.7 592.2 L760.4 592.5 L761.1 592.7 L761.8 593.0 L762.5 593.2 L763.2 593.4 L763.9 593.5 L764.6 593.6 L765.3 593.6 L766.0 593.6 L766.7 593.5 L767.4 593.4 L768.1 593.3 L768.8 593.2 L769.5 593.1 L770.2 593.0 L770.9 592.8 L771.6 592.5 L772.3 592.2 L773.0 591.9 L773.7 591.5 L774.4 591.2 L775.1 590.8 L775.8 590.4 L776.5 590.1 L777.2 589.8 L777.9 589.6 L778.6 589.5 L779.3 589.3 L780.0 589.2 L780.7 589.0 L781.4 588.9 L782.1 588.8 L782.8 588.7 L783.5 588.6 L784.2 588.5 L784.9 588.4 L785.6 588.3 L786.3 588.2 L787.0 588.1 L787.7 588.0 L788.4 587.9 L789.1 587.8 L789.8 587.6 L790.5 587.5 L791.2 587.4 L791.9 587.2 L792.6 587.1 L793.3 586.9 L794.0 586.8 L794.7 586.6 L795.4 586.4 L796.1 586.3 L796.8 586.1 L797.5 586.0 L798.2 585.8 L798.9 585.6 L799.6 585.5 L800.3 585.3 L801.0 585.2 L801.7 585.1 L802.4 584.9 L803.1 584.8 L803.8 584.7 L804.5 584.6 L805.2 584.4 L805.9 584.3 L806.6 584.2 L807.3 584.1 L808.0 584.0 L808.7 583.9 L809.4 583.8 L810.1 583.7 L810.8 583.5 L811.5 583.4 L812.2 583.3 L812.9 583.2 L813.6 583.1 L814.3 582.9 L815.0 582.8 L815.7 582.6 L816.4 582.4 L817.1 582.2 L817.8 582.1 L818.5 581.9 L819.2 581.8 L819.9 581.7 L820.6 581.6 L821.3 581.6 L822.0 581.7 L822.7 581.8 L823.4 582.0 L824.1 582.2 L824.8 582.4 L825.5 582.6 L826.2 582.8 L826.9 582.9 L827.6 583.0 L828.3 583.0 L829.0 583.0 L829.7 582.9 L830.4 582.8 L831.1 582.8 L831.8 582.7 L832.5 582.6 L833.2 582.5 L833.9 582.4 L834.6 582.4 L835.3 582.5 L836.0 582.9 L836.7 583.6 L837.4 584.2 L838.1 584.4 L838.8 584.0 L839.5 583.1 L840.2 582.2 L840.9 581.6 L841.6 581.4 L842.3 581.2 L843.0 581.1 L843.7 580.9 L844.4 580.8 L845.1 580.7 L845.8 580.6 L846.5 580.5 L847.2 580.4 L847.9 580.3 L848.6 580.2 L849.3 580.1 L850.0 580.0 L850.7 579.9 L851.4 579.7 L852.1 579.6 L852.8 579.5 L853.5 579.3 L854.2 579.2 L854.9 579.1 L855.6 578.9 L856.3 578.8 L857.0 578.6 L857.7 578.5 L858.4 578.3 L859.1 578.1 L859.8 577.8 L860.5 577.6 L861.2 577.3 L861.9 577.1 L862.6 577.0 L863.3 577.0 L864.0 577.1 L864.7 577.2 L865.4 577.3 L866.1 577.5 L866.8 577.7 L867.5 577.9 L868.2 578.0 L868.9 578.2 L869.6 578.3 L870.3 578.4 L871.0 578.5 L871.7 578.6 L872.4 578.7 L873.1 578.8 L873.8 578.9 L874.5 578.9 L875.2 579.0 L875.9 579.1 L876.6 579.1 L877.3 579.2 L878.0 579.2 L878.7 579.3 L879.4 579.4 L880.1 579.4 L880.8 579.5 L881.5 579.5 L882.2 579.6 L882.9 579.6 L883.6 579.7 L884.3 579.7 L885.0 579.8 L885.7 579.8 L886.4 579.9 L887.1 579.9 L887.8 580.0 L888.5 580.0 L889.2 580.0 L889.9 580.0 L890.6 580.0 L891.3 580.0 L892.0 580.0 L892.7 579.9 L893.4 579.9 L894.1 579.9 L894.8 579.8 L895.5 579.8 L896.2 579.7 L896.9 579.7 L897.6 579.6 L898.3 579.6 L899.0 579.5 L899.7 579.5 L900.4 579.4 L901.1 579.4 L901.8 579.3 L902.5 579.2 L903.2 579.1 L903.9 578.9 L904.6 578.6 L905.3 578.2 L906.0 577.7 L906.7 577.2 L907.4 576.6 L908.1 575.9 L908.8 574.6 L909.5 572.7 L910.2 570.4 L910.9 568.1 L911.6 565.9 L912.3 564.2 L913.0 562.5 L913.7 561.0 L914.4 559.9 L915.1 559.6 L915.8 560.0 L916.5 560.6 L917.2 561.5 L917.9 563.3 L918.6 566.0 L919.3 569.0 L920.0 571.9 L920.7 574.2 L921.4 576.1 L922.1 578.0 L922.8 579.8 L923.5 581.3 L924.2 582.6 L924.9 583.5 L925.6 584.2 L926.3 584.9 L927.0 585.5 L927.7 586.1 L928.4 586.5 L929.1 586.8 L929.8 587.0 L930.5 587.0 L931.2 587.0 L931.9 587.0 L932.6 587.0 L933.3 587.0 L934.0 587.0 L934.7 587.0 L935.4 587.0 L936.1 587.0 L936.8 587.0 L937.5 587.0 L938.2 587.0 L938.9 587.0 L939.6 587.0 L940.3 586.9 L941.0 586.8 L941.7 586.7 L942.4 586.6 L943.1 586.4 L943.8 586.3 L944.5 586.1 L945.2 585.9 L945.9 585.8 L946.6 585.6 L947.3 585.4 L948.0 585.2 L948.7 584.9 L949.4 584.6 L950.1 584.3 L950.8 584.0 L951.5 583.8 L952.2 583.6 L952.9 583.4 L953.6 583.4 L954.3 583.5 L955.0 583.6 L955.7 583.7 L956.4 583.9 L957.1 584.1 L957.8 584.3 L958.5 584.6 L959.2 584.8 L959.9 585.0 L960.6 585.2 L961.3 585.3 L962.0 585.4 L962.7 585.5 L963.4 585.5 L964.1 585.4 L964.8 585.3 L965.5 585.1 L966.2 584.9 L966.9 584.7 L967.6 584.5 L968.3 584.2 L969.0 584.0 L969.7 583.8 L970.4 583.6 L971.1 583.5 L971.8 583.4 L972.5 583.4 L973.2 583.5 L973.9 583.7 L974.6 583.9 L975.3 584.3 L976.0 584.7 L976.7 585.2 L977.4 585.7 L978.1 586.2 L978.8 586.7 L979.5 587.3 L980.2 588.0 L980.9 588.8 L981.6 589.7 L982.3 590.7 L983.0 591.6 L983.7 592.5 L984.4 593.3 L985.1 594.1 L985.8 594.9 L986.5 595.7 L987.2 596.6 L987.9 597.3 L988.6 598.0 L989.3 598.5 L990.0 598.8 L990.7 598.7 L991.4 598.4 L992.1 597.9 L992.8 597.3 L993.5 596.7 L994.2 596.3 L994.9 596.1 L995.6 596.4 L996.3 597.2 L997.0 598.4 L997.7 599.8 L998.4 601.2 L999.1 602.2 L999.8 602.8 L1000.5 603.0 L1001.2 603.2 L1001.9 603.4 L1002.6 603.5 L1003.3 603.6 L1004.0 603.7 L1004.7 603.8 L1005.4 603.9 L1006.1 604.1 L1006.8 604.3 L1007.5 604.6 L1008.2 605.0 L1008.9 605.4 L1009.6 605.8 L1010.3 606.2 L1011.0 606.6 L1011.7 606.9 L1012.4 607.1 L1013.1 607.3 L1013.8 607.3 L1014.5 607.0 L1015.2 606.7 L1015.9 606.4 L1016.6 606.0 L1017.3 605.8 L1018.0 605.7 L1018.7 606.5 L1019.4 608.0 L1020.1 610.1 L1020.8 612.3 L1021.5 614.4 L1022.2 616.3 L1022.9 618.8 L1023.6 621.7 L1024.3 624.4 L1025.0 626.5 L1025.7 628.1 L1026.4 629.2 L1027.1 629.9 L1027.8 630.6 L1028.5 631.1 L1029.2 631.6 L1029.9 632.3 L1030.6 633.1 L1031.3 633.9 L1032.0 634.8 L1032.7 635.7 L1033.4 636.3 L1034.1 636.7 L1034.8 637.1 L1035.5 637.3 L1036.2 637.0 L1036.9 635.0 L1037.6 633.8 L1038.3 637.4 L1039.0 640.0 L1039.7 641.1 L1040.4 641.6 L1041.1 642.0 L1041.8 642.4 L1042.5 643.0 L1043.2 643.7 L1043.9 644.4 L1044.6 645.0 L1045.3 645.0 L1046.0 645.0 L1046.7 645.6 L1047.4 644.6 L1048.1 637.7 L1048.8 628.6 L1049.5 614.2 L1050.2 603.0 L1050.9 596.3 L1051.6 593.0 L1052.3 590.8 L1053.0 590.0 L1053.7 590.7 L1054.4 593.6 L1055.1 599.3 L1055.8 611.2 L1056.5 621.3 L1057.2 629.2 L1057.9 635.8 L1058.6 640.4 L1059.3 643.8 L1060.0 646.4 L1060.7 648.8 L1061.4 651.0 L1062.1 651.9 L1062.8 651.9 L1063.5 651.8 L1064.2 651.7 L1064.9 651.8 L1065.6 651.8 L1066.3 651.7 L1067.0 652.7 L1067.7 654.7 L1068.4 656.6 L1069.1 658.1 L1069.8 659.7 L1070.5 661.4 L1071.2 662.4 L1071.9 663.3 L1072.6 664.3 L1073.3 665.2 L1074.0 666.5 L1074.7 667.6 L1075.4 668.4 L1076.1 669.3 L1076.8 670.3 L1077.5 670.5 L1078.2 670.1 L1078.9 670.2 L1079.6 670.4 L1080.3 670.1 L1081.0 670.1 L1081.7 672.3 L1082.4 675.2 L1083.1 677.1 L1083.8 678.8 L1084.5 680.4 L1085.2 681.7 L1085.9 682.8 L1086.6 683.9 L1087.3 685.0 L1088.0 686.1 L1088.7 687.2 L1089.4 688.5 L1090.1 689.9 L1090.8 691.4 L1091.5 692.9 L1092.2 694.6 L1092.9 696.4 L1093.6 697.9 L1094.3 699.3 L1095.0 700.5 L1095.7 701.6 L1096.4 702.7 L1097.1 703.2 L1097.8 703.4 L1098.5 704.3 L1099.2 705.3 L1099.9 705.9 L1100.6 706.7 L1101.3 707.8 L1102.0 709.3 L1102.7 711.3 L1103.4 712.2 L1104.1 711.4 L1104.8 710.3 L1105.5 709.5 L1106.2 710.0 L1106.9 712.8 L1107.6 714.8 L1108.3 715.6 L1109.0 716.3 L1109.7 716.9 L1110.4 717.3 L1111.0 717.5"/>
</g>
<g fill="#000">
<rect x="111.3" y="26.3" width="3.7" height="744.7"/>
<rect x="111.3" y="26.3" width="1002.4" height="3.8"/>
<rect x="1110" y="26.3" width="3.1" height="744.7"/>
<rect x="111.3" y="767.9" width="1001.8" height="3.1"/>
<rect x="249.89" y="755.7" width="3.5" height="13"/>
<rect x="388.53" y="755.7" width="3.5" height="13"/>
<rect x="527.17" y="755.7" width="3.5" height="13"/>
<rect x="665.81" y="755.7" width="3.5" height="13"/>
<rect x="804.44" y="755.7" width="3.5" height="13"/>
<rect x="943.08" y="755.7" width="3.5" height="13"/>
<rect x="1081.72" y="755.7" width="3.5" height="13"/>
<rect x="180.87" y="762.9" width="2.9" height="6"/>
<rect x="319.51" y="762.9" width="2.9" height="6"/>
<rect x="458.15" y="762.9" width="2.9" height="6"/>
<rect x="596.79" y="762.9" width="2.9" height="6"/>
<rect x="735.42" y="762.9" width="2.9" height="6"/>
<rect x="874.06" y="762.9" width="2.9" height="6"/>
<rect x="1012.70" y="762.9" width="2.9" height="6"/>
</g>
<g font-family="'Liberation Serif', serif" font-size="40.5" fill="#000" text-anchor="middle">
<text x="113.0" y="815.4">4000</text>
<text x="251.6" y="815.4">3500</text>
<text x="390.3" y="815.4">3000</text>
<text x="528.9" y="815.4">2500</text>
<text x="667.6" y="815.4">2000</text>
<text x="806.2" y="815.4">1500</text>
<text x="944.8" y="815.4">1000</text>
<text x="1083.5" y="815.4">500</text>
</g>
<g font-family="'Liberation Serif', serif" fill="#000">
<text x="122.6" y="168.8" font-size="40.0">500 <tspan x="196.1" y="155.4" font-size="24.5">°</tspan><tspan x="203.4" y="168.8" font-size="39.5">C</tspan></text>
<text x="122.9" y="221.9" font-size="40.0">400 <tspan x="196.4" y="208.5" font-size="24.5">°</tspan><tspan x="203.7" y="221.9" font-size="39.5">C</tspan></text>
<text x="120.2" y="268.7" font-size="40.6">300 <tspan x="194.8" y="255.1" font-size="24.9">°</tspan><tspan x="202.2" y="268.7" font-size="40.1">C</tspan></text>
<text x="120.3" y="315.9" font-size="40.4">200 <tspan x="194.5" y="302.4" font-size="24.7">°</tspan><tspan x="201.9" y="315.9" font-size="39.9">C</tspan></text>
<text x="123.0" y="380.4" font-size="40.6">150 <tspan x="197.6" y="366.8" font-size="24.9">°</tspan><tspan x="205.0" y="380.4" font-size="40.1">C</tspan></text>
<text x="121.6" y="437.3" font-size="43.0">100 <tspan x="200.6" y="422.9" font-size="26.3">°</tspan><tspan x="208.5" y="437.3" font-size="42.5">C</tspan></text>
<text x="126.5" y="487.0" font-size="40.0">80 <tspan x="180.0" y="473.6" font-size="24.5">°</tspan><tspan x="187.3" y="487.0" font-size="39.5">C</tspan></text>
<text x="121.8" y="553.3" font-size="43.8">50 <tspan x="180.4" y="538.6" font-size="26.8">°</tspan><tspan x="188.4" y="553.3" font-size="43.3">C</tspan></text>
<text x="117.3" y="615.0" font-size="43.6">Silicon substrate</text>
</g>
<g font-family="'Liberation Serif', serif" font-weight="bold" fill="#000">
<text y="877.8" font-size="46.8" letter-spacing="0.37"><tspan x="391.8">Wavenumber </tspan><tspan x="675.7">(cm</tspan><tspan x="751.7" y="858.8" font-size="30.5" letter-spacing="0">-1</tspan><tspan x="776.2" y="877.8">)</tspan></text>
<text transform="translate(53.3,557.3) rotate(-90)" font-size="46"><tspan x="0">Absorbance </tspan><tspan x="248.6">(a.u.)</tspan></text>
</g>
</svg>
</body></html>
